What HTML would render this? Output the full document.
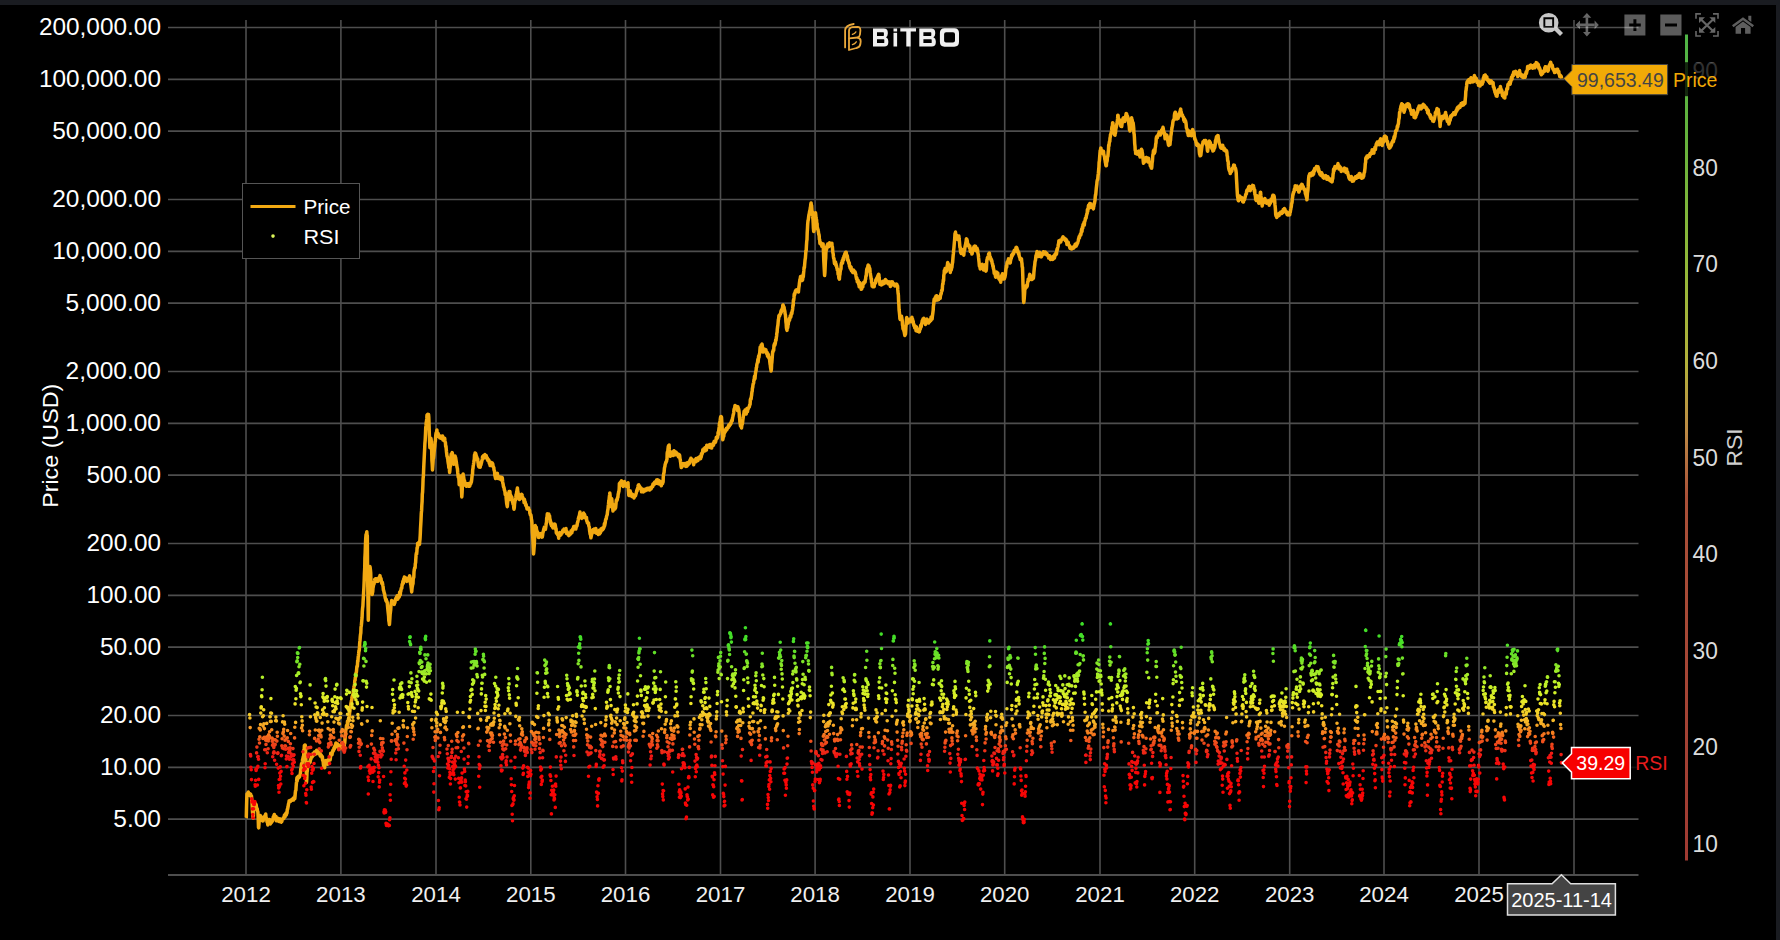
<!DOCTYPE html><html><head><meta charset="utf-8"><style>html,body{margin:0;padding:0;background:#000;width:1780px;height:940px;overflow:hidden}svg{display:block}text{font-family:"Liberation Sans",sans-serif}</style></head><body>
<svg width="1780" height="940" viewBox="0 0 1780 940">
<rect x="0" y="0" width="1780" height="940" fill="#000"/>
<rect x="0" y="0" width="1780" height="5" fill="#1a1c21"/>
<rect x="1776" y="0" width="4" height="940" fill="#1a1c21"/>
<path d="M168 27.5H1638.5 M168 79.3H1638.5 M168 131.1H1638.5 M168 199.5H1638.5 M168 251.3H1638.5 M168 303.1H1638.5 M168 371.5H1638.5 M168 423.3H1638.5 M168 475.1H1638.5 M168 543.5H1638.5 M168 595.3H1638.5 M168 647.1H1638.5 M168 715.5H1638.5 M168 767.3H1638.5 M168 819.1H1638.5" stroke="#4e4e4e" stroke-width="1.7" fill="none"/>
<path d="M246.0 20V875 M340.9 20V875 M436.0 20V875 M530.8 20V875 M625.5 20V875 M720.5 20V875 M815.1 20V875 M910.0 20V875 M1004.7 20V875 M1100.0 20V875 M1194.7 20V875 M1289.7 20V875 M1384.0 20V875 M1479.0 20V875 M1574.0 20V875" stroke="#4e4e4e" stroke-width="1.6" fill="none"/>
<path d="M168 875H1638.5" stroke="#4e4e4e" stroke-width="2" fill="none"/>
<polyline points="246.0,818.0 246.3,817.3 246.5,808.4 246.8,797.9 247.0,793.9 247.3,793.6 247.6,794.6 247.8,793.9 248.1,794.6 248.3,791.9 248.6,795.3 248.9,793.7 249.1,794.6 249.4,793.8 249.6,793.6 249.9,794.6 250.2,795.0 250.4,794.0 250.7,794.4 250.9,796.3 251.2,795.7 251.5,796.0 251.7,799.1 252.0,802.7 252.2,806.1 252.5,811.8 252.8,815.2 253.0,816.4 253.3,818.1 253.5,813.5 253.8,807.1 254.1,805.0 254.3,803.8 254.6,804.1 254.8,803.7 255.1,802.9 255.3,804.2 255.6,805.2 255.9,804.4 256.1,804.6 256.4,806.9 256.6,807.9 256.9,809.8 257.2,808.6 257.4,810.5 257.7,811.6 257.9,812.0 258.2,818.2 258.5,827.5 258.7,827.8 259.0,823.9 259.2,820.2 259.5,819.3 259.8,818.3 260.0,818.1 260.3,815.4 260.5,817.9 260.8,818.4 261.1,816.5 261.3,819.1 261.6,818.8 261.8,820.2 262.1,819.4 262.4,820.1 262.6,820.9 262.9,820.0 263.1,820.9 263.4,819.5 263.7,819.4 263.9,817.6 264.2,818.5 264.4,817.4 264.7,816.0 265.0,816.3 265.2,816.4 265.5,816.3 265.7,813.9 266.0,817.4 266.3,818.0 266.5,818.5 266.8,818.6 267.0,821.9 267.3,820.4 267.6,823.2 267.8,824.9 268.1,823.0 268.3,824.3 268.6,822.3 268.9,822.8 269.1,823.1 269.4,823.0 269.6,819.6 269.9,821.1 270.2,822.7 270.4,823.9 270.7,823.1 270.9,822.2 271.2,822.9 271.5,822.2 271.7,821.7 272.0,820.8 272.2,821.5 272.5,820.9 272.7,819.6 273.0,818.6 273.3,816.7 273.5,816.6 273.8,817.4 274.0,815.4 274.3,814.5 274.6,817.6 274.8,817.2 275.1,819.1 275.3,817.4 275.6,817.2 275.9,816.4 276.1,819.4 276.4,820.8 276.6,817.5 276.9,817.9 277.2,819.3 277.4,818.1 277.7,818.9 277.9,819.1 278.2,819.9 278.5,821.1 278.7,820.2 279.0,821.4 279.2,820.3 279.5,821.2 279.8,818.8 280.0,819.5 280.3,821.7 280.5,820.3 280.8,821.5 281.1,821.4 281.3,822.2 281.6,821.6 281.8,821.6 282.1,820.2 282.4,819.3 282.6,819.0 282.9,819.0 283.1,818.1 283.4,818.4 283.7,818.5 283.9,818.3 284.2,817.2 284.4,815.1 284.7,816.4 285.0,816.2 285.2,816.6 285.5,815.5 285.7,813.8 286.0,813.0 286.3,815.0 286.5,813.1 286.8,813.4 287.0,813.0 287.3,809.4 287.6,809.3 287.8,808.0 288.1,806.7 288.3,805.3 288.6,803.6 288.9,802.8 289.1,800.8 289.4,801.8 289.6,800.9 289.9,801.5 290.1,800.6 290.4,801.3 290.7,801.3 290.9,800.7 291.2,800.6 291.4,800.3 291.7,799.6 292.0,799.8 292.2,799.3 292.5,800.1 292.7,799.6 293.0,800.0 293.3,798.0 293.5,800.1 293.8,798.3 294.0,798.2 294.3,798.6 294.6,798.1 294.8,798.6 295.1,795.5 295.3,792.7 295.6,790.6 295.9,790.5 296.1,786.8 296.4,783.2 296.6,781.9 296.9,777.8 297.2,780.8 297.4,777.2 297.7,778.8 297.9,778.5 298.2,776.2 298.5,777.6 298.7,777.9 299.0,777.0 299.2,776.5 299.5,776.8 299.8,775.7 300.0,775.5 300.3,773.6 300.5,772.4 300.8,768.8 301.1,768.5 301.3,765.5 301.6,763.5 301.8,763.6 302.1,763.5 302.4,761.7 302.6,759.2 302.9,759.4 303.1,757.3 303.4,756.7 303.7,755.4 303.9,749.9 304.2,749.3 304.4,745.4 304.7,745.7 305.0,744.9 305.2,744.9 305.5,747.2 305.7,755.4 306.0,762.7 306.3,771.4 306.5,782.5 306.8,777.6 307.0,772.4 307.3,771.0 307.5,767.7 307.8,765.7 308.1,765.9 308.3,765.6 308.6,763.6 308.8,762.5 309.1,763.2 309.4,762.5 309.6,761.8 309.9,762.5 310.1,762.4 310.4,759.4 310.7,759.6 310.9,758.9 311.2,757.8 311.4,757.2 311.7,754.9 312.0,755.8 312.2,756.9 312.5,755.5 312.7,753.8 313.0,754.9 313.3,755.3 313.5,754.2 313.8,753.1 314.0,755.0 314.3,752.1 314.6,753.8 314.8,753.2 315.1,751.9 315.3,754.2 315.6,753.2 315.9,751.6 316.1,753.2 316.4,751.9 316.6,750.2 316.9,751.1 317.2,751.8 317.4,751.9 317.7,751.2 317.9,751.4 318.2,752.2 318.5,751.9 318.7,753.7 319.0,753.1 319.2,753.6 319.5,754.2 319.8,752.9 320.0,753.5 320.3,756.0 320.5,755.1 320.8,754.7 321.1,755.6 321.3,755.3 321.6,756.7 321.8,756.4 322.1,758.0 322.4,756.8 322.6,760.4 322.9,759.6 323.1,760.7 323.4,764.3 323.7,765.8 323.9,765.9 324.2,764.1 324.4,765.1 324.7,767.8 324.9,762.5 325.2,763.7 325.5,762.7 325.7,762.9 326.0,760.6 326.2,760.9 326.5,762.4 326.8,761.8 327.0,763.3 327.3,760.8 327.5,761.6 327.8,764.2 328.1,760.2 328.3,759.7 328.6,760.2 328.8,759.8 329.1,760.3 329.4,759.2 329.6,757.9 329.9,758.2 330.1,760.0 330.4,757.9 330.7,753.2 330.9,755.2 331.2,753.8 331.4,754.7 331.7,753.2 332.0,754.7 332.2,753.1 332.5,752.4 332.7,751.0 333.0,750.2 333.3,750.0 333.5,750.5 333.8,749.2 334.0,747.8 334.3,748.9 334.6,747.3 334.8,746.6 335.1,745.6 335.3,745.6 335.6,745.3 335.9,742.9 336.1,746.4 336.4,745.7 336.6,745.1 336.9,746.6 337.2,746.3 337.4,746.5 337.7,743.9 337.9,746.4 338.2,747.4 338.5,748.6 338.7,748.9 339.0,748.6 339.2,746.2 339.5,745.3 339.8,748.1 340.0,747.6 340.3,748.5 340.5,747.3 340.8,747.6 341.1,745.8 341.3,747.7 341.6,746.7 341.8,747.3 342.1,747.2 342.3,746.4 342.6,746.7 342.9,746.1 343.1,746.7 343.4,746.1 343.6,744.7 343.9,744.3 344.2,746.3 344.4,743.9 344.7,743.2 344.9,740.8 345.2,736.7 345.5,733.0 345.7,730.6 346.0,729.5 346.2,728.7 346.5,725.6 346.8,725.3 347.0,724.9 347.3,725.8 347.5,721.0 347.8,723.1 348.1,721.4 348.3,721.6 348.6,719.0 348.8,718.2 349.1,717.8 349.4,714.8 349.6,713.0 349.9,711.2 350.1,708.4 350.4,708.0 350.7,705.6 350.9,703.4 351.2,702.5 351.4,700.7 351.7,700.3 352.0,698.1 352.2,696.3 352.5,697.0 352.7,695.2 353.0,694.2 353.3,692.1 353.5,689.8 353.8,687.9 354.0,686.4 354.3,686.1 354.6,683.7 354.8,680.5 355.1,680.4 355.3,677.4 355.6,677.4 355.9,674.5 356.1,672.8 356.4,672.2 356.6,669.9 356.9,666.3 357.2,666.7 357.4,666.0 357.7,660.4 357.9,661.6 358.2,657.1 358.5,655.2 358.7,653.5 359.0,650.2 359.2,650.8 359.5,647.1 359.7,642.9 360.0,640.5 360.3,636.4 360.5,634.6 360.8,633.0 361.0,627.5 361.3,625.7 361.6,622.8 361.8,620.3 362.1,617.2 362.3,611.9 362.6,608.2 362.9,606.0 363.1,601.7 363.4,596.8 363.6,592.5 363.9,587.5 364.2,580.4 364.4,574.3 364.7,568.7 364.9,558.4 365.2,552.4 365.5,543.4 365.7,539.0 366.0,534.9 366.2,534.3 366.5,534.0 366.8,531.7 367.0,534.9 367.3,535.8 367.5,561.4 367.8,588.6 368.1,607.1 368.3,620.2 368.6,599.9 368.8,577.5 369.1,570.4 369.4,569.3 369.6,569.4 369.9,566.4 370.1,567.3 370.4,569.7 370.7,572.6 370.9,580.1 371.2,584.0 371.4,585.9 371.7,590.0 372.0,591.2 372.2,594.6 372.5,592.2 372.7,592.1 373.0,587.9 373.3,586.6 373.5,584.0 373.8,583.4 374.0,584.2 374.3,582.4 374.6,581.0 374.8,579.3 375.1,581.0 375.3,579.7 375.6,578.7 375.9,579.6 376.1,578.7 376.4,579.1 376.6,579.6 376.9,581.1 377.1,581.4 377.4,580.3 377.7,581.3 377.9,580.8 378.2,579.7 378.4,580.0 378.7,578.1 379.0,577.8 379.2,577.8 379.5,576.8 379.7,577.1 380.0,575.6 380.3,579.0 380.5,577.6 380.8,579.0 381.0,578.5 381.3,581.3 381.6,582.7 381.8,583.3 382.1,583.8 382.3,582.2 382.6,584.1 382.9,585.8 383.1,586.6 383.4,590.0 383.6,590.4 383.9,591.5 384.2,593.3 384.4,593.2 384.7,594.6 384.9,595.8 385.2,598.0 385.5,598.6 385.7,599.6 386.0,600.9 386.2,599.2 386.5,600.8 386.8,602.2 387.0,601.5 387.3,603.1 387.5,605.7 387.8,608.8 388.1,611.7 388.3,613.6 388.6,616.3 388.8,620.6 389.1,622.1 389.4,624.5 389.6,622.5 389.9,617.8 390.1,614.6 390.4,612.2 390.7,609.8 390.9,606.7 391.2,603.4 391.4,602.4 391.7,600.5 392.0,601.4 392.2,602.6 392.5,601.6 392.7,601.4 393.0,601.7 393.2,602.2 393.5,603.1 393.8,602.4 394.0,603.5 394.3,604.4 394.5,602.0 394.8,602.9 395.1,601.4 395.3,599.4 395.6,599.7 395.8,598.5 396.1,599.7 396.4,597.2 396.6,599.4 396.9,598.5 397.1,595.8 397.4,598.4 397.7,599.1 397.9,596.6 398.2,598.3 398.4,595.4 398.7,597.3 399.0,595.3 399.2,597.2 399.5,593.9 399.7,592.0 400.0,594.0 400.3,594.9 400.5,591.0 400.8,591.4 401.0,589.7 401.3,588.2 401.6,588.1 401.8,588.2 402.1,584.3 402.3,585.2 402.6,584.0 402.9,581.3 403.1,583.5 403.4,582.9 403.6,579.0 403.9,580.8 404.2,578.2 404.4,577.0 404.7,578.7 404.9,577.8 405.2,578.3 405.5,579.8 405.7,580.0 406.0,580.0 406.2,578.1 406.5,578.3 406.8,581.4 407.0,579.7 407.3,580.9 407.5,579.3 407.8,579.8 408.1,578.3 408.3,580.8 408.6,577.8 408.8,578.3 409.1,577.8 409.4,578.8 409.6,575.8 409.9,577.4 410.1,579.2 410.4,582.0 410.6,583.9 410.9,585.0 411.2,587.7 411.4,589.0 411.7,591.9 411.9,589.5 412.2,587.0 412.5,585.6 412.7,584.0 413.0,584.0 413.2,579.2 413.5,578.0 413.8,577.2 414.0,571.6 414.3,569.9 414.5,568.5 414.8,567.5 415.1,568.0 415.3,563.9 415.6,562.7 415.8,559.2 416.1,554.9 416.4,553.1 416.6,554.3 416.9,551.3 417.1,547.7 417.4,548.0 417.7,543.2 417.9,544.7 418.2,545.1 418.4,542.8 418.7,542.5 419.0,544.4 419.2,542.5 419.5,544.5 419.7,541.7 420.0,539.1 420.3,533.8 420.5,528.7 420.8,523.6 421.0,520.1 421.3,513.4 421.6,510.4 421.8,505.7 422.1,501.5 422.3,494.3 422.6,492.0 422.9,484.7 423.1,478.6 423.4,475.8 423.6,470.8 423.9,463.7 424.2,457.9 424.4,453.8 424.7,448.0 424.9,443.3 425.2,440.0 425.5,433.8 425.7,428.5 426.0,425.4 426.2,422.6 426.5,421.1 426.8,418.7 427.0,415.1 427.3,414.7 427.5,417.0 427.8,415.0 428.0,414.4 428.3,416.6 428.6,414.6 428.8,417.4 429.1,427.0 429.3,433.3 429.6,441.6 429.9,447.7 430.1,445.1 430.4,442.3 430.6,440.4 430.9,438.2 431.2,440.0 431.4,444.5 431.7,451.0 431.9,460.0 432.2,463.8 432.5,469.9 432.7,467.1 433.0,462.9 433.2,459.0 433.5,458.2 433.8,455.8 434.0,453.4 434.3,449.8 434.5,448.3 434.8,446.1 435.1,441.4 435.3,441.6 435.6,438.0 435.8,435.0 436.1,432.9 436.4,432.8 436.6,432.1 436.9,430.0 437.1,432.5 437.4,432.9 437.7,433.5 437.9,433.8 438.2,433.5 438.4,436.4 438.7,435.3 439.0,436.5 439.2,436.6 439.5,436.4 439.7,437.8 440.0,437.4 440.3,436.4 440.5,436.2 440.8,436.8 441.0,438.3 441.3,437.6 441.6,437.8 441.8,437.3 442.1,437.5 442.3,438.0 442.6,436.1 442.9,439.8 443.1,437.6 443.4,438.1 443.6,440.3 443.9,439.4 444.2,439.5 444.4,439.1 444.7,438.4 444.9,440.4 445.2,442.3 445.4,442.3 445.7,446.6 446.0,446.2 446.2,448.7 446.5,452.0 446.7,453.6 447.0,456.2 447.3,456.6 447.5,458.1 447.8,459.1 448.0,461.6 448.3,463.6 448.6,464.8 448.8,467.5 449.1,467.5 449.3,467.1 449.6,472.5 449.9,470.1 450.1,467.0 450.4,466.1 450.6,462.7 450.9,457.1 451.2,454.1 451.4,454.0 451.7,455.6 451.9,453.6 452.2,452.6 452.5,454.3 452.7,457.4 453.0,456.7 453.2,459.6 453.5,460.5 453.8,464.3 454.0,463.1 454.3,461.5 454.5,459.6 454.8,459.6 455.1,456.0 455.3,457.8 455.6,457.5 455.8,458.8 456.1,460.7 456.4,462.4 456.6,464.6 456.9,466.1 457.1,467.4 457.4,468.4 457.7,472.2 457.9,473.7 458.2,477.2 458.4,477.2 458.7,476.8 459.0,480.6 459.2,484.7 459.5,484.5 459.7,483.6 460.0,482.8 460.3,480.6 460.5,478.7 460.8,475.9 461.0,481.4 461.3,487.3 461.6,492.2 461.8,497.0 462.1,492.7 462.3,488.0 462.6,482.2 462.8,476.5 463.1,473.9 463.4,477.5 463.6,476.6 463.9,478.9 464.1,481.3 464.4,480.5 464.7,481.7 464.9,483.5 465.2,485.2 465.4,484.8 465.7,485.2 466.0,485.0 466.2,483.8 466.5,486.3 466.7,485.0 467.0,483.7 467.3,485.3 467.5,483.7 467.8,484.3 468.0,485.3 468.3,484.2 468.6,486.2 468.8,483.5 469.1,485.2 469.3,485.4 469.6,486.2 469.9,485.5 470.1,484.3 470.4,483.6 470.6,483.0 470.9,483.6 471.2,481.3 471.4,482.0 471.7,479.6 471.9,477.6 472.2,474.8 472.5,474.8 472.7,469.7 473.0,468.3 473.2,466.0 473.5,464.5 473.8,462.5 474.0,460.7 474.3,459.4 474.5,455.1 474.8,454.8 475.1,452.9 475.3,454.7 475.6,453.5 475.8,454.0 476.1,455.1 476.4,456.9 476.6,456.4 476.9,457.4 477.1,459.8 477.4,458.8 477.7,458.9 477.9,461.9 478.2,463.4 478.4,465.6 478.7,466.6 479.0,463.2 479.2,467.1 479.5,466.2 479.7,465.6 480.0,465.2 480.2,467.3 480.5,465.1 480.8,464.6 481.0,464.7 481.3,462.0 481.5,462.7 481.8,460.9 482.1,460.2 482.3,459.0 482.6,456.4 482.8,458.7 483.1,456.2 483.4,458.1 483.6,455.5 483.9,457.4 484.1,456.1 484.4,456.9 484.7,456.1 484.9,454.5 485.2,455.6 485.4,457.0 485.7,457.8 486.0,456.0 486.2,455.6 486.5,457.1 486.7,458.0 487.0,457.8 487.3,457.9 487.5,459.8 487.8,460.2 488.0,460.6 488.3,459.4 488.6,461.0 488.8,461.3 489.1,460.6 489.3,463.4 489.6,463.2 489.9,463.1 490.1,465.6 490.4,465.0 490.6,465.0 490.9,465.3 491.2,464.7 491.4,462.6 491.7,463.4 491.9,464.7 492.2,462.9 492.5,463.6 492.7,463.8 493.0,465.6 493.2,466.7 493.5,467.5 493.8,467.5 494.0,469.8 494.3,470.6 494.5,471.2 494.8,475.0 495.1,476.3 495.3,477.1 495.6,478.6 495.8,476.6 496.1,476.9 496.4,474.3 496.6,475.3 496.9,473.8 497.1,473.8 497.4,473.4 497.6,478.0 497.9,476.2 498.2,477.1 498.4,478.5 498.7,477.8 498.9,478.5 499.2,476.8 499.5,478.5 499.7,478.0 500.0,479.0 500.2,478.8 500.5,477.4 500.8,477.1 501.0,478.0 501.3,479.9 501.5,479.7 501.8,479.9 502.1,477.6 502.3,478.0 502.6,481.4 502.8,483.0 503.1,484.0 503.4,486.3 503.6,487.0 503.9,487.2 504.1,488.3 504.4,490.1 504.7,490.8 504.9,491.4 505.2,494.5 505.4,492.8 505.7,494.9 506.0,495.9 506.2,498.6 506.5,501.6 506.7,503.7 507.0,505.0 507.3,506.7 507.5,504.3 507.8,500.3 508.0,496.8 508.3,500.3 508.6,496.8 508.8,493.8 509.1,491.6 509.3,492.4 509.6,495.3 509.9,491.4 510.1,494.1 510.4,495.5 510.6,495.1 510.9,496.5 511.2,496.4 511.4,499.7 511.7,497.1 511.9,497.5 512.2,500.0 512.5,502.1 512.7,501.8 513.0,504.1 513.2,503.7 513.5,504.2 513.8,508.0 514.0,509.2 514.3,507.7 514.5,504.3 514.8,502.2 515.0,500.7 515.3,500.2 515.6,499.6 515.8,498.0 516.1,494.5 516.3,494.6 516.6,492.9 516.9,491.4 517.1,489.7 517.4,488.0 517.6,490.4 517.9,491.8 518.2,493.7 518.4,494.6 518.7,497.5 518.9,498.8 519.2,497.6 519.5,499.6 519.7,498.2 520.0,498.8 520.2,497.1 520.5,496.6 520.8,496.2 521.0,495.8 521.3,495.5 521.5,494.2 521.8,498.0 522.1,494.7 522.3,496.1 522.6,497.2 522.8,497.5 523.1,498.2 523.4,498.9 523.6,499.9 523.9,499.5 524.1,502.6 524.4,499.3 524.7,501.3 524.9,501.5 525.2,502.1 525.4,503.7 525.7,505.6 526.0,504.3 526.2,504.8 526.5,506.8 526.7,507.1 527.0,509.0 527.3,508.6 527.5,508.4 527.8,508.2 528.0,509.0 528.3,508.9 528.6,508.0 528.8,509.6 529.1,509.7 529.3,509.9 529.6,510.5 529.9,513.7 530.1,513.7 530.4,515.0 530.6,514.5 530.9,515.1 531.2,517.0 531.4,519.2 531.7,520.3 531.9,522.5 532.2,528.5 532.4,532.8 532.7,536.4 533.0,542.3 533.2,547.6 533.5,554.0 533.7,552.4 534.0,548.7 534.3,544.8 534.5,539.5 534.8,533.9 535.0,529.5 535.3,525.6 535.6,526.8 535.8,527.9 536.1,527.7 536.3,527.3 536.6,530.8 536.9,530.5 537.1,531.5 537.4,532.4 537.6,532.1 537.9,533.9 538.2,535.5 538.4,537.3 538.7,537.4 538.9,533.6 539.2,535.7 539.5,535.5 539.7,535.6 540.0,534.3 540.2,535.3 540.5,534.0 540.8,534.7 541.0,535.1 541.3,533.6 541.5,536.6 541.8,537.1 542.1,536.7 542.3,536.9 542.6,535.4 542.8,533.2 543.1,532.3 543.4,530.9 543.6,530.0 543.9,528.5 544.1,529.4 544.4,527.0 544.7,528.6 544.9,527.2 545.2,528.4 545.4,529.4 545.7,527.4 546.0,525.2 546.2,523.3 546.5,522.7 546.7,517.9 547.0,517.8 547.3,513.8 547.5,514.8 547.8,515.5 548.0,514.4 548.3,515.5 548.6,516.0 548.8,514.1 549.1,515.9 549.3,516.6 549.6,516.1 549.8,518.9 550.1,519.3 550.4,522.5 550.6,521.3 550.9,524.4 551.1,522.7 551.4,525.7 551.7,524.8 551.9,525.2 552.2,526.1 552.4,526.5 552.7,527.3 553.0,527.9 553.2,526.1 553.5,525.4 553.7,524.3 554.0,526.8 554.3,527.2 554.5,526.0 554.8,525.0 555.0,524.1 555.3,525.4 555.6,527.3 555.8,529.5 556.1,528.9 556.3,532.9 556.6,531.8 556.9,533.7 557.1,533.7 557.4,534.5 557.6,534.3 557.9,534.7 558.2,535.8 558.4,534.8 558.7,538.2 558.9,535.2 559.2,534.8 559.5,534.8 559.7,534.2 560.0,532.6 560.2,534.7 560.5,535.2 560.8,533.2 561.0,534.6 561.3,532.8 561.5,533.5 561.8,533.4 562.1,533.0 562.3,532.4 562.6,530.7 562.8,531.8 563.1,530.0 563.4,530.6 563.6,531.0 563.9,530.0 564.1,529.1 564.4,531.1 564.7,529.4 564.9,529.7 565.2,529.5 565.4,531.6 565.7,530.6 566.0,528.6 566.2,531.6 566.5,533.4 566.7,533.5 567.0,531.5 567.2,532.6 567.5,533.4 567.8,534.2 568.0,533.8 568.3,533.0 568.5,535.3 568.8,535.6 569.1,534.0 569.3,534.7 569.6,534.9 569.8,534.2 570.1,534.3 570.4,534.1 570.6,533.5 570.9,532.4 571.1,530.8 571.4,532.3 571.7,532.5 571.9,532.6 572.2,530.1 572.4,529.5 572.7,530.5 573.0,529.9 573.2,528.3 573.5,528.1 573.7,526.5 574.0,528.0 574.3,526.8 574.5,527.7 574.8,527.9 575.0,527.7 575.3,526.2 575.6,527.7 575.8,529.0 576.1,527.7 576.3,526.5 576.6,526.5 576.9,525.9 577.1,525.2 577.4,522.7 577.6,522.7 577.9,521.5 578.2,520.0 578.4,518.2 578.7,518.4 578.9,516.4 579.2,518.2 579.5,514.7 579.7,513.4 580.0,512.0 580.2,515.4 580.5,514.0 580.8,516.2 581.0,517.0 581.3,517.9 581.5,517.7 581.8,518.4 582.1,515.6 582.3,516.6 582.6,517.9 582.8,515.4 583.1,515.4 583.4,514.4 583.6,512.9 583.9,515.6 584.1,517.0 584.4,515.6 584.6,514.4 584.9,516.6 585.2,516.6 585.4,517.7 585.7,518.2 585.9,517.7 586.2,519.0 586.5,517.5 586.7,521.0 587.0,520.8 587.2,522.3 587.5,523.0 587.8,522.3 588.0,523.3 588.3,523.4 588.5,523.0 588.8,525.8 589.1,526.9 589.3,527.0 589.6,530.6 589.8,531.7 590.1,533.9 590.4,534.5 590.6,535.3 590.9,537.8 591.1,536.9 591.4,535.4 591.7,534.3 591.9,533.6 592.2,533.0 592.4,532.1 592.7,530.1 593.0,532.4 593.2,529.6 593.5,530.3 593.7,529.9 594.0,530.6 594.3,529.0 594.5,531.9 594.8,531.6 595.0,531.9 595.3,532.5 595.6,530.7 595.8,528.5 596.1,532.1 596.3,533.3 596.6,533.3 596.9,531.7 597.1,532.3 597.4,532.9 597.6,530.9 597.9,532.2 598.2,532.4 598.4,534.5 598.7,532.0 598.9,533.9 599.2,532.1 599.5,530.2 599.7,533.8 600.0,530.4 600.2,531.7 600.5,532.5 600.8,530.0 601.0,529.1 601.3,531.1 601.5,529.8 601.8,528.3 602.0,528.2 602.3,528.6 602.6,529.7 602.8,528.0 603.1,528.4 603.3,528.9 603.6,528.0 603.9,527.7 604.1,526.9 604.4,523.6 604.6,525.9 604.9,524.5 605.2,523.0 605.4,521.0 605.7,519.4 605.9,518.9 606.2,518.9 606.5,516.7 606.7,516.0 607.0,515.2 607.2,514.8 607.5,511.8 607.8,509.9 608.0,509.3 608.3,505.6 608.5,504.5 608.8,500.6 609.1,499.7 609.3,497.2 609.6,495.0 609.8,493.0 610.1,495.9 610.4,500.1 610.6,503.4 610.9,506.5 611.1,503.4 611.4,498.4 611.7,498.7 611.9,500.5 612.2,504.3 612.4,506.3 612.7,508.2 613.0,511.1 613.2,509.4 613.5,506.5 613.7,504.7 614.0,506.0 614.3,505.6 614.5,506.7 614.8,507.9 615.0,509.0 615.3,507.4 615.6,507.7 615.8,505.9 616.1,502.8 616.3,500.0 616.6,501.0 616.9,499.4 617.1,500.3 617.4,498.6 617.6,497.2 617.9,497.3 618.2,493.8 618.4,493.8 618.7,491.6 618.9,491.8 619.2,488.8 619.4,483.4 619.7,486.0 620.0,482.8 620.2,483.9 620.5,482.2 620.7,482.4 621.0,482.2 621.3,481.3 621.5,480.8 621.8,484.0 622.0,483.8 622.3,484.2 622.6,485.8 622.8,484.7 623.1,486.6 623.3,484.5 623.6,484.1 623.9,483.5 624.1,481.8 624.4,481.6 624.6,483.4 624.9,483.9 625.2,485.3 625.4,484.8 625.7,483.7 625.9,485.7 626.2,486.3 626.5,486.3 626.7,485.4 627.0,483.6 627.2,485.8 627.5,483.7 627.8,484.8 628.0,482.7 628.3,488.9 628.5,491.2 628.8,495.3 629.1,495.5 629.3,494.4 629.6,491.6 629.8,491.3 630.1,490.8 630.4,492.5 630.6,492.7 630.9,493.0 631.1,493.6 631.4,494.4 631.7,495.0 631.9,496.5 632.2,495.3 632.4,496.1 632.7,494.5 633.0,495.6 633.2,496.7 633.5,496.0 633.7,497.3 634.0,497.9 634.3,496.3 634.5,496.0 634.8,495.8 635.0,496.3 635.3,495.4 635.5,495.7 635.8,494.6 636.1,493.6 636.3,493.0 636.6,491.3 636.8,490.4 637.1,491.1 637.4,488.6 637.6,488.6 637.9,487.1 638.1,485.8 638.4,485.0 638.7,484.9 638.9,486.0 639.2,485.7 639.4,486.1 639.7,488.0 640.0,487.0 640.2,488.6 640.5,488.1 640.7,489.0 641.0,487.9 641.3,489.0 641.5,491.8 641.8,490.4 642.0,490.9 642.3,490.4 642.6,491.2 642.8,489.3 643.1,489.8 643.3,491.3 643.6,491.8 643.9,490.8 644.1,491.2 644.4,491.1 644.6,491.1 644.9,489.9 645.2,489.5 645.4,490.7 645.7,488.9 645.9,489.4 646.2,489.6 646.5,489.0 646.7,490.1 647.0,489.3 647.2,489.5 647.5,488.4 647.8,488.5 648.0,489.5 648.3,489.2 648.5,488.2 648.8,488.8 649.1,488.7 649.3,488.6 649.6,490.1 649.8,488.1 650.1,488.9 650.4,488.9 650.6,488.2 650.9,487.3 651.1,489.0 651.4,488.2 651.7,487.7 651.9,487.3 652.2,487.0 652.4,485.7 652.7,486.6 652.9,484.1 653.2,485.6 653.5,483.6 653.7,484.2 654.0,484.7 654.2,483.2 654.5,482.4 654.8,482.9 655.0,482.0 655.3,481.7 655.5,481.5 655.8,483.2 656.1,482.2 656.3,481.9 656.6,480.0 656.8,481.7 657.1,479.7 657.4,481.7 657.6,480.3 657.9,483.5 658.1,480.0 658.4,483.1 658.7,482.9 658.9,480.5 659.2,482.2 659.4,484.0 659.7,483.9 660.0,481.3 660.2,482.6 660.5,482.1 660.7,482.5 661.0,483.0 661.3,485.7 661.5,484.0 661.8,483.3 662.0,483.0 662.3,483.7 662.6,483.5 662.8,481.6 663.1,481.9 663.3,476.5 663.6,474.4 663.9,472.9 664.1,472.4 664.4,468.5 664.6,467.3 664.9,466.5 665.2,464.1 665.4,463.8 665.7,463.2 665.9,461.9 666.2,461.8 666.5,461.5 666.7,460.0 667.0,459.1 667.2,453.1 667.5,451.7 667.8,451.6 668.0,449.0 668.3,446.5 668.5,446.1 668.8,445.4 669.1,445.0 669.3,449.4 669.6,451.6 669.8,454.7 670.1,455.4 670.3,456.3 670.6,453.8 670.9,454.2 671.1,455.0 671.4,452.9 671.6,452.2 671.9,454.1 672.2,453.4 672.4,453.1 672.7,453.2 672.9,451.9 673.2,455.6 673.5,451.5 673.7,451.9 674.0,450.8 674.2,451.6 674.5,453.4 674.8,452.1 675.0,453.0 675.3,452.1 675.5,454.7 675.8,453.3 676.1,452.2 676.3,454.4 676.6,453.5 676.8,454.8 677.1,454.6 677.4,455.0 677.6,455.1 677.9,454.3 678.1,454.0 678.4,456.7 678.7,455.9 678.9,456.5 679.2,456.1 679.4,454.8 679.7,455.8 680.0,459.1 680.2,459.1 680.5,461.7 680.7,462.8 681.0,465.9 681.3,467.6 681.5,467.0 681.8,466.3 682.0,465.0 682.3,464.3 682.6,464.1 682.8,464.0 683.1,463.7 683.3,465.8 683.6,464.4 683.9,464.6 684.1,463.9 684.4,465.8 684.6,463.9 684.9,463.5 685.2,464.3 685.4,466.0 685.7,464.1 685.9,466.4 686.2,464.9 686.5,463.2 686.7,464.3 687.0,466.2 687.2,463.3 687.5,462.7 687.7,464.4 688.0,465.0 688.3,464.4 688.5,462.6 688.8,462.6 689.0,462.3 689.3,462.7 689.6,463.3 689.8,460.6 690.1,461.5 690.3,459.5 690.6,459.9 690.9,458.2 691.1,458.6 691.4,460.0 691.6,459.0 691.9,461.0 692.2,459.8 692.4,460.7 692.7,460.8 692.9,460.8 693.2,461.6 693.5,462.8 693.7,464.7 694.0,460.3 694.2,461.7 694.5,461.1 694.8,460.2 695.0,461.3 695.3,460.0 695.5,460.6 695.8,461.8 696.1,458.4 696.3,460.6 696.6,460.6 696.8,459.1 697.1,460.5 697.4,460.1 697.6,459.2 697.9,460.6 698.1,457.8 698.4,459.6 698.7,458.5 698.9,457.5 699.2,458.2 699.4,457.8 699.7,458.8 700.0,456.3 700.2,457.4 700.5,456.9 700.7,458.7 701.0,455.4 701.3,456.9 701.5,453.4 701.8,454.8 702.0,453.7 702.3,453.5 702.6,451.8 702.8,449.8 703.1,449.6 703.3,451.8 703.6,450.2 703.9,448.9 704.1,450.5 704.4,448.7 704.6,448.5 704.9,447.9 705.1,450.1 705.4,450.7 705.7,447.6 705.9,448.7 706.2,449.2 706.4,450.1 706.7,445.3 707.0,447.6 707.2,447.8 707.5,445.4 707.7,447.1 708.0,446.6 708.3,446.9 708.5,445.3 708.8,446.0 709.0,444.9 709.3,446.2 709.6,445.9 709.8,445.4 710.1,444.5 710.3,447.6 710.6,447.2 710.9,447.0 711.1,445.6 711.4,446.0 711.6,448.0 711.9,446.7 712.2,444.8 712.4,445.4 712.7,445.1 712.9,444.4 713.2,443.3 713.5,445.2 713.7,444.2 714.0,443.0 714.2,441.3 714.5,442.0 714.8,442.2 715.0,442.7 715.3,441.1 715.5,442.2 715.8,440.9 716.1,439.7 716.3,437.3 716.6,438.5 716.8,437.9 717.1,438.5 717.4,437.7 717.6,437.4 717.9,434.7 718.1,432.3 718.4,434.5 718.7,431.2 718.9,428.9 719.2,426.9 719.4,423.7 719.7,423.6 720.0,421.2 720.2,420.3 720.5,417.8 720.7,416.8 721.0,417.7 721.3,416.6 721.5,417.2 721.8,421.9 722.0,425.0 722.3,430.5 722.5,434.6 722.8,439.8 723.1,438.1 723.3,435.2 723.6,436.1 723.8,436.5 724.1,432.3 724.4,432.7 724.6,432.9 724.9,431.1 725.1,431.4 725.4,431.5 725.7,429.6 725.9,430.7 726.2,430.3 726.4,428.2 726.7,428.9 727.0,429.5 727.2,427.9 727.5,428.1 727.7,428.0 728.0,426.8 728.3,427.7 728.5,426.7 728.8,425.0 729.0,426.2 729.3,426.2 729.6,425.7 729.8,423.9 730.1,424.4 730.3,424.8 730.6,423.2 730.9,423.6 731.1,423.2 731.4,421.3 731.6,421.5 731.9,420.0 732.2,420.8 732.4,419.1 732.7,417.2 732.9,416.4 733.2,414.9 733.5,414.0 733.7,412.7 734.0,409.7 734.2,408.8 734.5,408.5 734.8,407.2 735.0,405.4 735.3,407.9 735.5,406.9 735.8,406.2 736.1,407.5 736.3,408.6 736.6,408.2 736.8,406.6 737.1,408.6 737.4,408.5 737.6,410.6 737.9,406.7 738.1,410.0 738.4,408.3 738.7,409.4 738.9,410.3 739.2,413.4 739.4,417.0 739.7,418.5 739.9,422.1 740.2,423.6 740.5,425.9 740.7,426.4 741.0,426.1 741.2,426.5 741.5,428.0 741.8,425.4 742.0,424.7 742.3,424.0 742.5,423.3 742.8,420.3 743.1,418.3 743.3,416.7 743.6,414.2 743.8,414.5 744.1,411.2 744.4,412.8 744.6,413.5 744.9,410.8 745.1,410.0 745.4,410.6 745.7,411.9 745.9,412.7 746.2,414.0 746.4,412.6 746.7,409.5 747.0,408.5 747.2,410.9 747.5,411.6 747.7,408.8 748.0,409.2 748.3,408.5 748.5,408.2 748.8,407.2 749.0,407.1 749.3,406.9 749.6,405.1 749.8,404.6 750.1,404.5 750.3,400.2 750.6,398.9 750.9,399.1 751.1,399.1 751.4,396.2 751.6,395.3 751.9,392.1 752.2,391.5 752.4,388.1 752.7,387.6 752.9,385.5 753.2,383.7 753.5,383.6 753.7,382.3 754.0,379.5 754.2,380.0 754.5,376.3 754.8,378.0 755.0,378.7 755.3,374.9 755.5,373.3 755.8,371.3 756.1,370.5 756.3,367.7 756.6,367.3 756.8,364.8 757.1,363.6 757.3,363.1 757.6,361.9 757.9,359.2 758.1,362.0 758.4,359.0 758.6,356.1 758.9,357.5 759.2,355.1 759.4,354.0 759.7,353.2 759.9,350.3 760.2,347.0 760.5,348.6 760.7,348.0 761.0,347.8 761.2,345.1 761.5,344.7 761.8,344.4 762.0,344.0 762.3,345.6 762.5,347.6 762.8,347.9 763.1,352.1 763.3,349.6 763.6,350.3 763.8,349.7 764.1,349.0 764.4,350.0 764.6,350.2 764.9,350.4 765.1,350.1 765.4,349.6 765.7,351.5 765.9,349.8 766.2,351.9 766.4,353.0 766.7,353.6 767.0,352.5 767.2,352.6 767.5,356.2 767.7,354.5 768.0,353.8 768.3,354.6 768.5,356.3 768.8,357.9 769.0,357.2 769.3,358.8 769.6,359.3 769.8,361.7 770.1,364.4 770.3,365.2 770.6,368.0 770.9,369.5 771.1,371.1 771.4,369.1 771.6,364.3 771.9,362.0 772.2,357.8 772.4,355.2 772.7,351.5 772.9,352.1 773.2,350.3 773.5,349.5 773.7,350.3 774.0,345.0 774.2,346.0 774.5,343.6 774.7,345.4 775.0,344.5 775.3,343.4 775.5,341.7 775.8,339.3 776.0,340.6 776.3,337.8 776.6,336.0 776.8,333.3 777.1,332.4 777.3,329.2 777.6,326.8 777.9,325.1 778.1,322.8 778.4,319.4 778.6,319.1 778.9,315.9 779.2,315.3 779.4,316.2 779.7,315.5 779.9,315.0 780.2,314.0 780.5,313.9 780.7,312.8 781.0,311.0 781.2,312.5 781.5,309.9 781.8,309.8 782.0,309.9 782.3,308.3 782.5,310.2 782.8,305.2 783.1,304.9 783.3,305.8 783.6,308.1 783.8,307.5 784.1,307.4 784.4,311.0 784.6,310.0 784.9,311.7 785.1,313.8 785.4,314.8 785.7,318.0 785.9,321.8 786.2,324.1 786.4,327.6 786.7,329.3 787.0,330.4 787.2,327.9 787.5,325.9 787.7,327.8 788.0,325.0 788.3,324.1 788.5,321.4 788.8,321.6 789.0,320.7 789.3,318.8 789.6,320.0 789.8,318.0 790.1,317.8 790.3,315.7 790.6,317.4 790.9,316.4 791.1,315.2 791.4,313.1 791.6,312.7 791.9,313.7 792.1,311.4 792.4,310.6 792.7,308.4 792.9,305.0 793.2,305.6 793.4,300.0 793.7,300.1 794.0,297.7 794.2,294.1 794.5,294.9 794.7,294.3 795.0,293.0 795.3,291.3 795.5,291.8 795.8,291.7 796.0,290.0 796.3,290.7 796.6,290.1 796.8,290.3 797.1,291.2 797.3,289.4 797.6,289.8 797.9,291.1 798.1,291.3 798.4,292.0 798.6,289.9 798.9,287.1 799.2,285.4 799.4,283.2 799.7,281.4 799.9,279.5 800.2,279.2 800.5,276.6 800.7,277.2 801.0,278.2 801.2,278.1 801.5,278.9 801.8,277.5 802.0,280.5 802.3,280.4 802.5,280.1 802.8,278.5 803.1,274.4 803.3,276.9 803.6,272.8 803.8,271.0 804.1,267.2 804.4,267.8 804.6,265.1 804.9,261.7 805.1,259.7 805.4,258.2 805.7,253.9 805.9,250.7 806.2,250.4 806.4,246.4 806.7,241.5 807.0,239.5 807.2,232.8 807.5,228.0 807.7,223.9 808.0,220.8 808.3,219.8 808.5,218.1 808.8,215.7 809.0,214.4 809.3,213.4 809.5,211.9 809.8,210.7 810.1,209.5 810.3,207.6 810.6,206.5 810.8,204.2 811.1,203.0 811.4,206.4 811.6,205.4 811.9,209.8 812.1,214.7 812.4,211.7 812.7,218.0 812.9,218.1 813.2,223.6 813.4,228.2 813.7,231.4 814.0,230.8 814.2,227.1 814.5,223.7 814.7,222.5 815.0,218.2 815.3,215.3 815.5,212.7 815.8,215.2 816.0,217.6 816.3,219.5 816.6,220.1 816.8,225.4 817.1,223.5 817.3,228.7 817.6,228.0 817.9,229.5 818.1,230.3 818.4,231.6 818.6,233.4 818.9,234.8 819.2,235.8 819.4,239.5 819.7,239.8 819.9,243.5 820.2,242.6 820.5,242.4 820.7,243.9 821.0,244.6 821.2,243.2 821.5,244.1 821.8,246.2 822.0,244.1 822.3,244.6 822.5,245.9 822.8,244.9 823.1,244.0 823.3,247.4 823.6,255.1 823.8,261.0 824.1,266.5 824.4,272.0 824.6,275.5 824.9,272.5 825.1,268.1 825.4,261.4 825.7,258.1 825.9,252.0 826.2,250.2 826.4,249.4 826.7,246.5 826.9,248.5 827.2,245.2 827.5,244.9 827.7,244.1 828.0,245.2 828.2,245.3 828.5,245.1 828.8,246.6 829.0,245.6 829.3,245.1 829.5,242.7 829.8,245.1 830.1,244.7 830.3,243.7 830.6,243.3 830.8,244.4 831.1,244.5 831.4,244.9 831.6,243.8 831.9,243.3 832.1,246.4 832.4,246.9 832.7,251.1 832.9,252.8 833.2,253.9 833.4,256.5 833.7,258.5 834.0,258.6 834.2,261.1 834.5,263.4 834.7,261.6 835.0,262.4 835.3,262.0 835.5,262.0 835.8,265.3 836.0,263.7 836.3,265.6 836.6,266.1 836.8,267.9 837.1,268.3 837.3,270.0 837.6,269.2 837.9,271.5 838.1,274.3 838.4,273.2 838.6,274.9 838.9,278.3 839.2,278.6 839.4,279.2 839.7,274.2 839.9,274.8 840.2,271.6 840.5,269.8 840.7,269.8 841.0,268.8 841.2,264.4 841.5,263.3 841.8,263.0 842.0,262.6 842.3,260.5 842.5,263.2 842.8,260.7 843.1,258.9 843.3,257.9 843.6,259.8 843.8,258.9 844.1,255.7 844.3,256.0 844.6,256.3 844.9,253.4 845.1,253.4 845.4,254.8 845.6,252.2 845.9,252.5 846.2,252.4 846.4,253.8 846.7,256.0 846.9,255.3 847.2,255.6 847.5,257.1 847.7,260.3 848.0,259.6 848.2,260.0 848.5,261.7 848.8,263.1 849.0,263.8 849.3,262.9 849.5,266.1 849.8,266.6 850.1,268.1 850.3,266.3 850.6,269.1 850.8,268.0 851.1,267.2 851.4,270.6 851.6,269.2 851.9,270.5 852.1,270.4 852.4,272.0 852.7,272.2 852.9,272.4 853.2,272.2 853.4,270.1 853.7,270.2 854.0,272.3 854.2,271.3 854.5,272.9 854.7,272.8 855.0,271.7 855.3,272.8 855.5,273.5 855.8,274.6 856.0,276.1 856.3,277.7 856.6,279.2 856.8,277.7 857.1,278.9 857.3,281.8 857.6,281.9 857.9,282.0 858.1,280.2 858.4,282.3 858.6,284.3 858.9,284.3 859.2,286.7 859.4,284.5 859.7,284.4 859.9,282.8 860.2,283.5 860.5,285.0 860.7,286.1 861.0,287.5 861.2,289.2 861.5,288.8 861.7,288.9 862.0,285.9 862.3,286.7 862.5,286.1 862.8,286.8 863.0,284.2 863.3,284.1 863.6,282.6 863.8,283.5 864.1,283.2 864.3,281.8 864.6,281.7 864.9,281.7 865.1,282.0 865.4,279.3 865.6,279.3 865.9,275.9 866.2,276.0 866.4,273.4 866.7,269.8 866.9,268.7 867.2,271.0 867.5,268.3 867.7,267.4 868.0,265.5 868.2,265.1 868.5,266.6 868.8,266.9 869.0,265.9 869.3,268.5 869.5,268.1 869.8,268.4 870.1,272.2 870.3,272.9 870.6,275.7 870.8,276.2 871.1,279.0 871.4,278.8 871.6,282.7 871.9,282.7 872.1,286.2 872.4,283.8 872.7,286.1 872.9,286.7 873.2,286.3 873.4,286.8 873.7,284.3 874.0,286.8 874.2,286.5 874.5,283.2 874.7,283.2 875.0,283.0 875.3,283.2 875.5,283.0 875.8,279.8 876.0,282.0 876.3,280.3 876.6,278.6 876.8,279.8 877.1,277.6 877.3,278.3 877.6,277.1 877.9,275.7 878.1,276.7 878.4,275.8 878.6,274.2 878.9,274.6 879.1,277.3 879.4,280.1 879.7,280.8 879.9,284.3 880.2,283.3 880.4,283.7 880.7,284.5 881.0,283.7 881.2,284.9 881.5,284.3 881.7,282.2 882.0,282.4 882.3,284.6 882.5,283.1 882.8,283.1 883.0,281.3 883.3,281.9 883.6,283.1 883.8,282.3 884.1,281.5 884.3,283.4 884.6,281.6 884.9,281.1 885.1,282.5 885.4,279.5 885.6,281.8 885.9,280.2 886.2,280.6 886.4,280.8 886.7,281.6 886.9,281.7 887.2,281.9 887.5,281.9 887.7,283.2 888.0,283.6 888.2,282.8 888.5,283.2 888.8,282.3 889.0,281.8 889.3,283.8 889.5,283.5 889.8,284.6 890.1,282.0 890.3,286.5 890.6,282.5 890.8,283.8 891.1,284.8 891.4,282.4 891.6,283.2 891.9,281.8 892.1,282.4 892.4,281.8 892.7,283.9 892.9,284.1 893.2,283.5 893.4,285.1 893.7,285.2 894.0,283.8 894.2,283.8 894.5,283.9 894.7,283.9 895.0,285.9 895.2,285.0 895.5,284.6 895.8,284.9 896.0,285.6 896.3,284.4 896.5,284.8 896.8,284.2 897.1,285.3 897.3,286.2 897.6,286.1 897.8,289.9 898.1,293.3 898.4,295.2 898.6,301.1 898.9,305.2 899.1,310.0 899.4,312.5 899.7,315.7 899.9,318.7 900.2,319.5 900.4,319.2 900.7,318.0 901.0,319.6 901.2,317.2 901.5,316.1 901.7,317.9 902.0,319.3 902.3,321.2 902.5,325.0 902.8,325.9 903.0,329.0 903.3,328.6 903.6,329.6 903.8,330.3 904.1,331.5 904.3,332.2 904.6,334.2 904.9,335.5 905.1,332.5 905.4,334.4 905.6,333.1 905.9,327.7 906.2,324.1 906.4,320.5 906.7,317.5 906.9,320.8 907.2,320.4 907.5,320.6 907.7,321.0 908.0,321.3 908.2,323.1 908.5,320.8 908.8,321.2 909.0,319.6 909.3,320.3 909.5,319.4 909.8,319.8 910.1,319.3 910.3,319.6 910.6,321.1 910.8,321.6 911.1,321.5 911.4,320.1 911.6,320.6 911.9,317.2 912.1,320.1 912.4,318.6 912.6,319.4 912.9,321.5 913.2,321.2 913.4,323.8 913.7,323.7 913.9,325.7 914.2,325.1 914.5,326.2 914.7,327.7 915.0,325.9 915.2,326.3 915.5,326.9 915.8,327.8 916.0,330.7 916.3,328.0 916.5,327.0 916.8,329.0 917.1,328.6 917.3,330.2 917.6,331.3 917.8,330.7 918.1,330.8 918.4,329.5 918.6,331.4 918.9,330.3 919.1,331.9 919.4,331.7 919.7,329.6 919.9,329.6 920.2,329.0 920.4,328.8 920.7,325.3 921.0,326.0 921.2,326.9 921.5,324.1 921.7,323.6 922.0,322.5 922.3,320.4 922.5,321.7 922.8,320.1 923.0,319.1 923.3,319.4 923.6,320.2 923.8,318.2 924.1,321.2 924.3,320.9 924.6,322.3 924.9,322.1 925.1,322.7 925.4,324.5 925.6,323.2 925.9,322.6 926.2,322.2 926.4,322.3 926.7,321.8 926.9,319.1 927.2,320.3 927.5,320.9 927.7,321.9 928.0,322.5 928.2,320.2 928.5,323.1 928.8,321.3 929.0,321.7 929.3,320.4 929.5,320.0 929.8,321.7 930.0,319.7 930.3,319.4 930.6,320.4 930.8,320.6 931.1,317.0 931.3,317.8 931.6,317.5 931.9,318.8 932.1,319.0 932.4,316.0 932.6,314.7 932.9,312.5 933.2,310.1 933.4,306.0 933.7,304.5 933.9,301.5 934.2,299.0 934.5,299.8 934.7,300.9 935.0,300.9 935.2,297.5 935.5,297.8 935.8,299.4 936.0,295.9 936.3,299.7 936.5,300.0 936.8,295.8 937.1,299.4 937.3,298.4 937.6,300.0 937.8,298.9 938.1,298.4 938.4,298.7 938.6,299.6 938.9,298.8 939.1,298.6 939.4,296.6 939.7,298.0 939.9,297.1 940.2,298.4 940.4,296.0 940.7,295.0 941.0,293.4 941.2,293.7 941.5,291.8 941.7,290.2 942.0,291.0 942.3,289.6 942.5,285.8 942.8,283.6 943.0,284.2 943.3,279.8 943.6,280.8 943.8,275.1 944.1,274.0 944.3,270.4 944.6,270.5 944.9,270.3 945.1,268.5 945.4,268.3 945.6,272.1 945.9,271.2 946.2,271.1 946.4,271.4 946.7,270.0 946.9,269.9 947.2,266.0 947.4,265.1 947.7,262.5 948.0,264.4 948.2,263.6 948.5,265.3 948.7,265.6 949.0,265.1 949.3,267.0 949.5,267.9 949.8,266.4 950.0,268.9 950.3,272.4 950.6,269.1 950.8,270.7 951.1,269.3 951.3,269.9 951.6,267.5 951.9,267.5 952.1,265.4 952.4,263.0 952.6,262.6 952.9,258.6 953.2,255.1 953.4,253.5 953.7,249.7 953.9,248.1 954.2,244.4 954.5,240.9 954.7,238.8 955.0,233.6 955.2,234.7 955.5,232.1 955.8,236.1 956.0,235.1 956.3,235.0 956.5,235.1 956.8,237.0 957.1,237.0 957.3,237.6 957.6,239.5 957.8,238.7 958.1,238.2 958.4,237.8 958.6,237.3 958.9,236.0 959.1,238.8 959.4,241.2 959.7,244.4 959.9,247.5 960.2,247.3 960.4,250.3 960.7,252.6 961.0,252.9 961.2,253.5 961.5,251.7 961.7,251.6 962.0,252.2 962.3,249.6 962.5,250.8 962.8,251.9 963.0,253.1 963.3,254.0 963.6,254.0 963.8,255.2 964.1,251.2 964.3,250.2 964.6,250.0 964.8,248.4 965.1,246.3 965.4,245.3 965.6,244.5 965.9,242.3 966.1,241.7 966.4,238.8 966.7,240.0 966.9,239.4 967.2,241.2 967.4,242.0 967.7,245.5 968.0,244.7 968.2,245.8 968.5,244.8 968.7,245.9 969.0,246.2 969.3,245.9 969.5,248.1 969.8,246.0 970.0,248.9 970.3,251.5 970.6,248.5 970.8,249.9 971.1,249.2 971.3,251.7 971.6,250.8 971.9,254.1 972.1,253.8 972.4,251.9 972.6,251.3 972.9,249.9 973.2,250.0 973.4,250.0 973.7,247.6 973.9,246.8 974.2,247.3 974.5,248.4 974.7,245.9 975.0,249.1 975.2,249.0 975.5,246.2 975.8,250.1 976.0,247.5 976.3,249.2 976.5,250.9 976.8,248.3 977.1,248.3 977.3,249.3 977.6,250.0 977.8,252.7 978.1,253.9 978.4,255.6 978.6,258.0 978.9,260.8 979.1,262.5 979.4,266.2 979.7,266.3 979.9,265.6 980.2,268.9 980.4,266.1 980.7,268.5 981.0,266.9 981.2,267.5 981.5,267.2 981.7,267.0 982.0,267.1 982.2,264.3 982.5,268.4 982.8,266.4 983.0,265.7 983.3,265.7 983.5,270.0 983.8,269.4 984.1,267.2 984.3,267.4 984.6,267.5 984.8,265.7 985.1,264.7 985.4,267.1 985.6,269.9 985.9,271.1 986.1,270.8 986.4,269.1 986.7,262.8 986.9,260.1 987.2,259.5 987.4,257.9 987.7,257.4 988.0,256.7 988.2,257.1 988.5,255.5 988.7,253.7 989.0,256.1 989.3,252.9 989.5,254.1 989.8,258.0 990.0,257.9 990.3,257.0 990.6,258.1 990.8,258.9 991.1,260.5 991.3,259.3 991.6,260.1 991.9,261.2 992.1,262.9 992.4,263.9 992.6,264.1 992.9,266.4 993.2,266.1 993.4,268.5 993.7,269.4 993.9,270.2 994.2,273.3 994.5,272.6 994.7,272.7 995.0,274.5 995.2,274.2 995.5,276.6 995.8,277.2 996.0,275.9 996.3,272.4 996.5,272.0 996.8,274.0 997.1,272.4 997.3,274.4 997.6,275.2 997.8,272.9 998.1,276.2 998.4,276.5 998.6,277.3 998.9,278.9 999.1,278.3 999.4,278.6 999.6,279.8 999.9,279.5 1000.2,281.0 1000.4,279.1 1000.7,282.2 1000.9,278.7 1001.2,278.5 1001.5,277.1 1001.7,275.6 1002.0,274.9 1002.2,275.2 1002.5,273.8 1002.8,275.3 1003.0,277.4 1003.3,275.5 1003.5,275.6 1003.8,279.0 1004.1,278.3 1004.3,278.8 1004.6,277.3 1004.8,277.5 1005.1,276.3 1005.4,274.5 1005.6,272.2 1005.9,269.1 1006.1,268.2 1006.4,265.7 1006.7,267.2 1006.9,263.5 1007.2,262.1 1007.4,262.1 1007.7,261.5 1008.0,261.7 1008.2,260.1 1008.5,258.9 1008.7,262.3 1009.0,260.4 1009.3,261.1 1009.5,261.3 1009.8,262.1 1010.0,263.0 1010.3,262.6 1010.6,259.6 1010.8,259.8 1011.1,257.6 1011.3,258.4 1011.6,255.1 1011.9,256.1 1012.1,256.3 1012.4,253.9 1012.6,255.0 1012.9,254.7 1013.2,253.0 1013.4,252.9 1013.7,253.4 1013.9,251.9 1014.2,250.5 1014.5,250.2 1014.7,250.6 1015.0,251.1 1015.2,250.3 1015.5,249.9 1015.8,250.4 1016.0,247.4 1016.3,247.9 1016.5,247.4 1016.8,250.9 1017.0,248.1 1017.3,250.8 1017.6,252.1 1017.8,250.5 1018.1,251.8 1018.3,252.7 1018.6,254.3 1018.9,252.8 1019.1,255.5 1019.4,256.7 1019.6,257.0 1019.9,257.8 1020.2,259.6 1020.4,258.7 1020.7,258.7 1020.9,258.5 1021.2,259.7 1021.5,258.9 1021.7,261.8 1022.0,263.5 1022.2,266.8 1022.5,267.2 1022.8,276.3 1023.0,284.9 1023.3,292.4 1023.5,300.1 1023.8,302.4 1024.1,299.7 1024.3,297.5 1024.6,293.1 1024.8,289.1 1025.1,287.6 1025.4,288.6 1025.6,286.4 1025.9,286.3 1026.1,285.8 1026.4,287.3 1026.7,287.2 1026.9,284.9 1027.2,286.3 1027.4,284.7 1027.7,281.7 1028.0,281.8 1028.2,279.1 1028.5,279.0 1028.7,280.4 1029.0,278.6 1029.3,277.7 1029.5,275.6 1029.8,274.4 1030.0,277.0 1030.3,275.6 1030.6,276.2 1030.8,275.9 1031.1,276.6 1031.3,279.4 1031.6,277.2 1031.9,277.7 1032.1,278.7 1032.4,279.3 1032.6,278.0 1032.9,277.2 1033.2,278.1 1033.4,278.3 1033.7,275.6 1033.9,272.4 1034.2,269.4 1034.4,267.1 1034.7,265.4 1035.0,261.9 1035.2,261.0 1035.5,260.1 1035.7,258.1 1036.0,255.5 1036.3,255.1 1036.5,254.0 1036.8,253.3 1037.0,251.5 1037.3,254.5 1037.6,254.0 1037.8,255.3 1038.1,256.5 1038.3,255.4 1038.6,254.9 1038.9,255.1 1039.1,255.4 1039.4,253.6 1039.6,252.2 1039.9,253.3 1040.2,255.1 1040.4,256.6 1040.7,255.6 1040.9,256.5 1041.2,256.9 1041.5,256.5 1041.7,255.2 1042.0,255.2 1042.2,255.3 1042.5,254.7 1042.8,254.1 1043.0,252.6 1043.3,252.5 1043.5,251.8 1043.8,253.0 1044.1,253.1 1044.3,252.3 1044.6,253.9 1044.8,252.4 1045.1,252.8 1045.4,252.1 1045.6,253.8 1045.9,253.3 1046.1,254.0 1046.4,254.6 1046.7,254.1 1046.9,253.4 1047.2,254.7 1047.4,254.9 1047.7,255.3 1048.0,256.2 1048.2,255.6 1048.5,255.8 1048.7,258.0 1049.0,257.5 1049.3,256.5 1049.5,255.8 1049.8,256.4 1050.0,257.3 1050.3,257.9 1050.6,259.6 1050.8,257.1 1051.1,257.6 1051.3,257.3 1051.6,257.8 1051.8,257.5 1052.1,257.0 1052.4,259.2 1052.6,258.4 1052.9,259.4 1053.1,257.5 1053.4,258.1 1053.7,258.4 1053.9,255.7 1054.2,256.2 1054.4,258.1 1054.7,256.9 1055.0,254.3 1055.2,254.7 1055.5,253.7 1055.7,253.5 1056.0,254.9 1056.3,252.1 1056.5,254.0 1056.8,250.8 1057.0,249.1 1057.3,250.0 1057.6,248.1 1057.8,247.3 1058.1,246.5 1058.3,244.4 1058.6,244.0 1058.9,240.7 1059.1,241.3 1059.4,242.2 1059.6,241.6 1059.9,241.8 1060.2,240.3 1060.4,241.5 1060.7,242.0 1060.9,240.3 1061.2,240.3 1061.5,239.8 1061.7,240.0 1062.0,239.2 1062.2,238.3 1062.5,238.8 1062.8,238.5 1063.0,236.7 1063.3,238.2 1063.5,237.9 1063.8,238.3 1064.1,237.9 1064.3,239.1 1064.6,239.5 1064.8,238.5 1065.1,239.8 1065.4,240.5 1065.6,240.7 1065.9,239.3 1066.1,239.5 1066.4,241.0 1066.7,240.5 1066.9,244.5 1067.2,241.7 1067.4,242.2 1067.7,244.2 1068.0,243.6 1068.2,242.2 1068.5,244.9 1068.7,244.6 1069.0,245.6 1069.2,245.1 1069.5,246.3 1069.8,247.6 1070.0,248.2 1070.3,247.8 1070.5,248.1 1070.8,247.9 1071.1,248.8 1071.3,248.4 1071.6,247.2 1071.8,249.0 1072.1,247.6 1072.4,248.6 1072.6,247.2 1072.9,248.3 1073.1,247.8 1073.4,247.8 1073.7,248.0 1073.9,247.8 1074.2,247.3 1074.4,247.2 1074.7,245.6 1075.0,246.6 1075.2,244.3 1075.5,244.0 1075.7,245.4 1076.0,244.9 1076.3,246.1 1076.5,244.8 1076.8,244.7 1077.0,242.8 1077.3,243.1 1077.6,243.3 1077.8,242.1 1078.1,241.4 1078.3,240.4 1078.6,238.7 1078.9,238.0 1079.1,236.8 1079.4,237.9 1079.6,236.5 1079.9,235.4 1080.2,235.7 1080.4,234.0 1080.7,234.8 1080.9,234.8 1081.2,232.5 1081.5,230.6 1081.7,228.9 1082.0,231.5 1082.2,229.2 1082.5,226.7 1082.8,228.1 1083.0,224.5 1083.3,225.0 1083.5,224.5 1083.8,223.6 1084.1,222.2 1084.3,225.0 1084.6,221.5 1084.8,221.5 1085.1,220.5 1085.4,218.2 1085.6,218.5 1085.9,218.2 1086.1,217.9 1086.4,215.6 1086.6,215.3 1086.9,213.6 1087.2,213.5 1087.4,209.5 1087.7,211.5 1087.9,209.3 1088.2,208.3 1088.5,205.3 1088.7,206.3 1089.0,207.1 1089.2,208.0 1089.5,204.3 1089.8,203.5 1090.0,204.4 1090.3,204.5 1090.5,203.8 1090.8,204.5 1091.1,204.6 1091.3,205.8 1091.6,206.3 1091.8,207.5 1092.1,206.9 1092.4,206.9 1092.6,206.7 1092.9,207.7 1093.1,206.1 1093.4,208.9 1093.7,206.0 1093.9,206.1 1094.2,202.9 1094.4,203.7 1094.7,202.0 1095.0,200.4 1095.2,197.6 1095.5,194.8 1095.7,194.9 1096.0,191.7 1096.3,188.3 1096.5,186.8 1096.8,184.3 1097.0,181.7 1097.3,180.1 1097.6,179.8 1097.8,178.6 1098.1,175.1 1098.3,174.0 1098.6,170.6 1098.9,167.2 1099.1,162.3 1099.4,160.9 1099.6,158.2 1099.9,154.2 1100.2,150.4 1100.4,151.7 1100.7,148.5 1100.9,148.0 1101.2,150.5 1101.5,150.5 1101.7,150.4 1102.0,150.7 1102.2,151.7 1102.5,153.0 1102.8,152.3 1103.0,152.6 1103.3,154.0 1103.5,151.3 1103.8,154.8 1104.0,154.9 1104.3,156.0 1104.6,157.0 1104.8,159.1 1105.1,160.4 1105.3,162.0 1105.6,163.3 1105.9,165.5 1106.1,165.7 1106.4,165.7 1106.6,161.4 1106.9,161.8 1107.2,160.5 1107.4,157.2 1107.7,156.5 1107.9,156.2 1108.2,152.4 1108.5,149.3 1108.7,144.9 1109.0,145.8 1109.2,143.2 1109.5,141.4 1109.8,141.5 1110.0,138.1 1110.3,136.9 1110.5,134.8 1110.8,134.1 1111.1,132.8 1111.3,132.3 1111.6,130.7 1111.8,127.8 1112.1,126.5 1112.4,126.8 1112.6,122.8 1112.9,123.0 1113.1,125.6 1113.4,126.7 1113.7,128.4 1113.9,131.6 1114.2,132.7 1114.4,134.4 1114.7,135.0 1115.0,135.1 1115.2,133.3 1115.5,132.9 1115.7,129.7 1116.0,128.4 1116.3,127.0 1116.5,126.2 1116.8,123.7 1117.0,123.7 1117.3,121.6 1117.6,118.7 1117.8,115.2 1118.1,115.4 1118.3,119.4 1118.6,118.7 1118.9,119.7 1119.1,119.9 1119.4,121.5 1119.6,120.0 1119.9,120.7 1120.2,121.8 1120.4,124.3 1120.7,125.7 1120.9,126.3 1121.2,126.4 1121.4,125.7 1121.7,126.5 1122.0,124.1 1122.2,123.0 1122.5,121.7 1122.7,120.0 1123.0,118.4 1123.3,118.3 1123.5,117.8 1123.8,119.6 1124.0,119.5 1124.3,120.9 1124.6,118.3 1124.8,121.5 1125.1,119.2 1125.3,118.1 1125.6,116.4 1125.9,115.3 1126.1,113.6 1126.4,115.0 1126.6,113.8 1126.9,115.5 1127.2,116.4 1127.4,115.9 1127.7,116.9 1127.9,117.6 1128.2,119.7 1128.5,120.7 1128.7,122.5 1129.0,124.9 1129.2,125.9 1129.5,129.8 1129.8,128.7 1130.0,131.0 1130.3,129.4 1130.5,125.0 1130.8,125.2 1131.1,122.8 1131.3,121.5 1131.6,117.7 1131.8,119.9 1132.1,119.7 1132.4,121.4 1132.6,124.2 1132.9,123.7 1133.1,122.6 1133.4,125.1 1133.7,128.1 1133.9,133.0 1134.2,134.4 1134.4,137.2 1134.7,143.6 1135.0,146.4 1135.2,150.2 1135.5,150.7 1135.7,153.6 1136.0,152.7 1136.3,151.4 1136.5,152.9 1136.8,153.5 1137.0,153.7 1137.3,154.1 1137.6,152.1 1137.8,151.7 1138.1,154.0 1138.3,151.3 1138.6,151.1 1138.8,152.5 1139.1,152.0 1139.4,154.5 1139.6,155.8 1139.9,155.0 1140.1,157.0 1140.4,154.7 1140.7,154.2 1140.9,152.2 1141.2,151.1 1141.4,149.3 1141.7,150.0 1142.0,150.4 1142.2,152.5 1142.5,153.7 1142.7,155.8 1143.0,158.4 1143.3,161.6 1143.5,163.2 1143.8,161.5 1144.0,161.7 1144.3,162.4 1144.6,159.9 1144.8,161.1 1145.1,158.7 1145.3,159.4 1145.6,157.8 1145.9,159.7 1146.1,157.6 1146.4,159.3 1146.6,159.0 1146.9,157.6 1147.2,158.5 1147.4,161.3 1147.7,160.9 1147.9,161.9 1148.2,161.1 1148.5,158.3 1148.7,161.8 1149.0,161.5 1149.2,162.1 1149.5,162.6 1149.8,162.8 1150.0,163.2 1150.3,165.9 1150.5,165.7 1150.8,165.2 1151.1,166.1 1151.3,168.1 1151.6,168.2 1151.8,167.0 1152.1,162.9 1152.4,161.1 1152.6,157.8 1152.9,154.5 1153.1,154.7 1153.4,150.8 1153.7,150.7 1153.9,150.1 1154.2,151.8 1154.4,153.2 1154.7,151.7 1154.9,152.0 1155.2,147.8 1155.5,146.6 1155.7,144.1 1156.0,142.8 1156.2,138.8 1156.5,136.9 1156.8,137.3 1157.0,136.4 1157.3,137.8 1157.5,136.5 1157.8,135.6 1158.1,134.9 1158.3,135.3 1158.6,133.8 1158.8,133.2 1159.1,132.1 1159.4,135.1 1159.6,134.3 1159.9,134.3 1160.1,133.5 1160.4,135.0 1160.7,132.2 1160.9,134.0 1161.2,131.4 1161.4,131.3 1161.7,130.0 1162.0,130.8 1162.2,129.9 1162.5,130.1 1162.7,128.6 1163.0,127.3 1163.3,128.7 1163.5,130.6 1163.8,131.4 1164.0,132.0 1164.3,133.8 1164.6,133.1 1164.8,135.9 1165.1,138.8 1165.3,138.6 1165.6,136.9 1165.9,138.3 1166.1,136.9 1166.4,137.5 1166.6,135.0 1166.9,135.5 1167.2,136.5 1167.4,138.2 1167.7,140.3 1167.9,141.5 1168.2,143.1 1168.5,145.1 1168.7,145.3 1169.0,142.7 1169.2,143.7 1169.5,143.6 1169.8,143.8 1170.0,144.5 1170.3,140.6 1170.5,140.3 1170.8,135.8 1171.1,134.6 1171.3,132.6 1171.6,130.7 1171.8,128.8 1172.1,127.5 1172.3,126.3 1172.6,124.9 1172.9,122.0 1173.1,121.0 1173.4,120.5 1173.6,120.1 1173.9,119.2 1174.2,119.7 1174.4,115.6 1174.7,113.4 1174.9,113.0 1175.2,112.2 1175.5,112.8 1175.7,112.7 1176.0,114.7 1176.2,115.9 1176.5,115.6 1176.8,116.6 1177.0,118.9 1177.3,115.3 1177.5,117.5 1177.8,116.9 1178.1,118.3 1178.3,117.4 1178.6,115.7 1178.8,116.9 1179.1,114.2 1179.4,115.8 1179.6,114.5 1179.9,111.8 1180.1,111.7 1180.4,110.1 1180.7,109.1 1180.9,111.8 1181.2,111.9 1181.4,113.1 1181.7,114.1 1182.0,115.1 1182.2,115.5 1182.5,115.1 1182.7,116.0 1183.0,116.9 1183.3,117.0 1183.5,117.5 1183.8,120.3 1184.0,119.5 1184.3,121.4 1184.6,119.1 1184.8,120.3 1185.1,120.3 1185.3,120.7 1185.6,121.2 1185.9,122.6 1186.1,123.9 1186.4,127.8 1186.6,128.4 1186.9,128.6 1187.2,129.8 1187.4,132.1 1187.7,133.0 1187.9,132.8 1188.2,135.4 1188.5,132.9 1188.7,133.6 1189.0,135.5 1189.2,131.0 1189.5,133.2 1189.7,134.3 1190.0,133.5 1190.3,133.3 1190.5,133.6 1190.8,132.8 1191.0,133.9 1191.3,135.7 1191.6,134.6 1191.8,134.1 1192.1,133.0 1192.3,132.4 1192.6,129.4 1192.9,130.9 1193.1,131.6 1193.4,132.4 1193.6,132.6 1193.9,132.1 1194.2,135.6 1194.4,136.6 1194.7,139.0 1194.9,138.2 1195.2,139.9 1195.5,140.2 1195.7,140.5 1196.0,142.6 1196.2,142.3 1196.5,144.9 1196.8,144.4 1197.0,143.3 1197.3,145.4 1197.5,145.1 1197.8,144.3 1198.1,144.4 1198.3,145.1 1198.6,144.9 1198.8,145.9 1199.1,148.6 1199.4,152.6 1199.6,154.4 1199.9,153.3 1200.1,155.8 1200.4,154.4 1200.7,155.5 1200.9,154.8 1201.2,152.0 1201.4,150.7 1201.7,148.1 1202.0,146.3 1202.2,145.0 1202.5,144.1 1202.7,144.4 1203.0,141.8 1203.3,143.0 1203.5,142.0 1203.8,141.3 1204.0,142.3 1204.3,140.6 1204.6,142.5 1204.8,141.0 1205.1,140.6 1205.3,142.5 1205.6,140.4 1205.9,140.9 1206.1,142.1 1206.4,143.8 1206.6,145.1 1206.9,145.0 1207.1,147.1 1207.4,150.5 1207.7,151.2 1207.9,148.2 1208.2,147.9 1208.4,146.2 1208.7,145.5 1209.0,142.2 1209.2,142.8 1209.5,141.1 1209.7,143.6 1210.0,143.7 1210.3,142.5 1210.5,143.9 1210.8,145.2 1211.0,146.6 1211.3,144.9 1211.6,146.5 1211.8,148.3 1212.1,148.9 1212.3,148.1 1212.6,148.9 1212.9,150.9 1213.1,150.0 1213.4,150.5 1213.6,150.4 1213.9,148.7 1214.2,145.3 1214.4,148.3 1214.7,147.5 1214.9,146.6 1215.2,144.5 1215.5,140.4 1215.7,141.9 1216.0,139.3 1216.2,138.3 1216.5,136.7 1216.8,136.4 1217.0,136.2 1217.3,137.8 1217.5,136.3 1217.8,135.6 1218.1,135.7 1218.3,138.6 1218.6,139.3 1218.8,140.6 1219.1,142.6 1219.4,143.5 1219.6,143.8 1219.9,144.8 1220.1,145.4 1220.4,146.8 1220.7,147.6 1220.9,147.5 1221.2,146.5 1221.4,148.2 1221.7,148.2 1222.0,146.3 1222.2,147.7 1222.5,146.9 1222.7,145.2 1223.0,147.7 1223.3,149.0 1223.5,147.7 1223.8,148.0 1224.0,150.1 1224.3,148.3 1224.5,148.8 1224.8,149.7 1225.1,150.8 1225.3,150.9 1225.6,150.0 1225.8,150.4 1226.1,150.9 1226.4,150.6 1226.6,151.0 1226.9,152.3 1227.1,155.7 1227.4,156.3 1227.7,160.9 1227.9,160.7 1228.2,162.0 1228.4,165.4 1228.7,168.4 1229.0,169.7 1229.2,170.3 1229.5,170.8 1229.7,170.7 1230.0,172.0 1230.3,173.6 1230.5,170.7 1230.8,170.6 1231.0,171.5 1231.3,171.8 1231.6,171.2 1231.8,171.0 1232.1,169.1 1232.3,168.3 1232.6,168.5 1232.9,167.9 1233.1,168.3 1233.4,168.1 1233.6,165.0 1233.9,167.8 1234.2,166.5 1234.4,165.3 1234.7,168.0 1234.9,168.0 1235.2,168.5 1235.5,168.4 1235.7,169.4 1236.0,170.9 1236.2,172.6 1236.5,179.0 1236.8,184.0 1237.0,188.0 1237.3,192.8 1237.5,195.9 1237.8,197.6 1238.1,199.8 1238.3,200.4 1238.6,200.7 1238.8,199.4 1239.1,198.2 1239.4,198.4 1239.6,195.9 1239.9,196.2 1240.1,197.0 1240.4,197.7 1240.7,197.7 1240.9,198.1 1241.2,197.5 1241.4,198.4 1241.7,199.6 1241.9,197.8 1242.2,198.6 1242.5,199.6 1242.7,201.6 1243.0,201.0 1243.2,202.1 1243.5,202.0 1243.8,200.4 1244.0,200.1 1244.3,198.1 1244.5,199.6 1244.8,198.2 1245.1,197.2 1245.3,196.4 1245.6,195.3 1245.8,194.3 1246.1,193.7 1246.4,193.9 1246.6,191.2 1246.9,190.3 1247.1,190.6 1247.4,191.1 1247.7,189.6 1247.9,189.0 1248.2,189.8 1248.4,188.9 1248.7,186.8 1249.0,187.5 1249.2,186.2 1249.5,187.9 1249.7,187.8 1250.0,188.9 1250.3,190.7 1250.5,188.2 1250.8,189.0 1251.0,188.8 1251.3,186.5 1251.6,188.3 1251.8,187.8 1252.1,188.2 1252.3,186.5 1252.6,185.4 1252.9,186.7 1253.1,185.6 1253.4,185.7 1253.6,186.7 1253.9,188.0 1254.2,190.0 1254.4,191.5 1254.7,189.9 1254.9,194.3 1255.2,195.0 1255.5,197.2 1255.7,199.6 1256.0,199.6 1256.2,200.6 1256.5,197.4 1256.8,197.2 1257.0,195.8 1257.3,197.3 1257.5,196.5 1257.8,197.0 1258.1,198.2 1258.3,198.6 1258.6,202.2 1258.8,203.3 1259.1,203.1 1259.3,200.3 1259.6,198.2 1259.9,196.6 1260.1,196.2 1260.4,192.2 1260.6,192.2 1260.9,196.0 1261.2,197.5 1261.4,200.6 1261.7,201.6 1261.9,203.9 1262.2,205.9 1262.5,204.5 1262.7,203.5 1263.0,201.9 1263.2,200.2 1263.5,202.5 1263.8,200.2 1264.0,199.7 1264.3,201.1 1264.5,199.2 1264.8,198.6 1265.1,199.2 1265.3,200.1 1265.6,201.0 1265.8,201.8 1266.1,202.8 1266.4,202.2 1266.6,203.2 1266.9,202.3 1267.1,201.5 1267.4,202.1 1267.7,201.7 1267.9,202.8 1268.2,201.5 1268.4,200.9 1268.7,202.9 1269.0,202.7 1269.2,205.2 1269.5,202.6 1269.7,204.1 1270.0,203.4 1270.3,203.4 1270.5,202.5 1270.8,200.3 1271.0,199.4 1271.3,200.7 1271.6,201.3 1271.8,200.5 1272.1,198.0 1272.3,198.2 1272.6,196.2 1272.9,195.2 1273.1,197.7 1273.4,197.0 1273.6,195.8 1273.9,195.6 1274.2,196.7 1274.4,198.4 1274.7,200.7 1274.9,204.2 1275.2,206.7 1275.5,210.5 1275.7,214.3 1276.0,216.0 1276.2,214.8 1276.5,214.3 1276.7,217.4 1277.0,217.1 1277.3,216.4 1277.5,215.7 1277.8,215.9 1278.0,214.1 1278.3,215.4 1278.6,215.6 1278.8,215.0 1279.1,215.5 1279.3,214.2 1279.6,214.8 1279.9,212.8 1280.1,214.1 1280.4,213.3 1280.6,212.3 1280.9,212.9 1281.2,213.1 1281.4,212.2 1281.7,213.5 1281.9,211.6 1282.2,212.9 1282.5,212.4 1282.7,210.9 1283.0,212.6 1283.2,209.6 1283.5,211.2 1283.8,210.6 1284.0,211.1 1284.3,208.6 1284.5,208.8 1284.8,209.0 1285.1,210.4 1285.3,211.0 1285.6,211.5 1285.8,211.7 1286.1,211.8 1286.4,211.6 1286.6,212.7 1286.9,213.8 1287.1,214.5 1287.4,213.2 1287.7,214.9 1287.9,212.7 1288.2,214.9 1288.4,213.2 1288.7,214.7 1289.0,213.7 1289.2,213.8 1289.5,214.1 1289.7,214.9 1290.0,211.8 1290.3,212.0 1290.5,210.4 1290.8,209.1 1291.0,207.7 1291.3,206.7 1291.6,203.5 1291.8,203.3 1292.1,201.8 1292.3,198.7 1292.6,197.6 1292.9,194.1 1293.1,194.7 1293.4,192.4 1293.6,192.0 1293.9,192.1 1294.1,191.5 1294.4,189.0 1294.7,188.6 1294.9,189.9 1295.2,185.7 1295.4,189.5 1295.7,189.1 1296.0,186.6 1296.2,189.0 1296.5,188.4 1296.7,188.6 1297.0,186.1 1297.3,188.0 1297.5,188.7 1297.8,189.2 1298.0,189.9 1298.3,190.6 1298.6,188.8 1298.8,192.1 1299.1,191.7 1299.3,191.2 1299.6,189.8 1299.9,189.2 1300.1,188.4 1300.4,188.8 1300.6,185.7 1300.9,188.0 1301.2,185.9 1301.4,185.1 1301.7,184.4 1301.9,186.5 1302.2,184.4 1302.5,187.1 1302.7,186.9 1303.0,186.4 1303.2,186.6 1303.5,188.1 1303.8,188.3 1304.0,189.4 1304.3,189.2 1304.5,189.2 1304.8,190.7 1305.1,189.8 1305.3,193.4 1305.6,194.2 1305.8,194.6 1306.1,195.9 1306.4,197.1 1306.6,196.1 1306.9,199.8 1307.1,198.2 1307.4,193.3 1307.7,191.4 1307.9,190.3 1308.2,186.2 1308.4,181.9 1308.7,177.9 1309.0,175.5 1309.2,176.6 1309.5,175.6 1309.7,173.8 1310.0,175.6 1310.3,174.4 1310.5,173.9 1310.8,173.9 1311.0,173.8 1311.3,175.7 1311.5,172.9 1311.8,173.3 1312.1,174.8 1312.3,174.8 1312.6,172.2 1312.8,175.0 1313.1,173.9 1313.4,171.1 1313.6,174.1 1313.9,170.4 1314.1,172.0 1314.4,169.7 1314.7,168.5 1314.9,170.6 1315.2,169.7 1315.4,168.9 1315.7,168.8 1316.0,168.1 1316.2,167.6 1316.5,166.5 1316.7,168.1 1317.0,167.7 1317.3,167.6 1317.5,167.4 1317.8,167.9 1318.0,166.8 1318.3,168.4 1318.6,168.7 1318.8,171.8 1319.1,170.5 1319.3,171.8 1319.6,173.2 1319.9,174.2 1320.1,173.7 1320.4,173.0 1320.6,175.0 1320.9,172.6 1321.2,172.8 1321.4,175.7 1321.7,172.8 1321.9,175.4 1322.2,175.6 1322.5,174.5 1322.7,175.9 1323.0,177.5 1323.2,175.4 1323.5,176.8 1323.8,178.1 1324.0,177.1 1324.3,177.7 1324.5,176.4 1324.8,176.1 1325.1,175.8 1325.3,175.7 1325.6,176.3 1325.8,175.7 1326.1,177.9 1326.4,176.9 1326.6,176.9 1326.9,179.2 1327.1,177.2 1327.4,176.8 1327.7,177.9 1327.9,176.8 1328.2,178.6 1328.4,179.6 1328.7,179.1 1328.9,178.2 1329.2,178.6 1329.5,179.4 1329.7,180.3 1330.0,178.9 1330.2,179.1 1330.5,180.9 1330.8,180.3 1331.0,180.8 1331.3,181.3 1331.5,180.4 1331.8,181.3 1332.1,181.8 1332.3,179.8 1332.6,179.0 1332.8,178.1 1333.1,174.0 1333.4,172.8 1333.6,169.0 1333.9,169.4 1334.1,170.7 1334.4,168.4 1334.7,168.5 1334.9,166.5 1335.2,168.8 1335.4,168.5 1335.7,168.3 1336.0,167.1 1336.2,167.5 1336.5,166.9 1336.7,167.7 1337.0,166.6 1337.3,167.3 1337.5,165.1 1337.8,166.1 1338.0,163.6 1338.3,166.3 1338.6,167.2 1338.8,166.2 1339.1,169.0 1339.3,166.0 1339.6,167.0 1339.9,166.8 1340.1,167.5 1340.4,167.9 1340.6,167.3 1340.9,168.1 1341.2,171.4 1341.4,169.5 1341.7,171.0 1341.9,169.1 1342.2,170.1 1342.5,170.6 1342.7,169.7 1343.0,169.2 1343.2,169.3 1343.5,169.5 1343.8,170.5 1344.0,171.0 1344.3,168.7 1344.5,168.1 1344.8,170.1 1345.1,170.4 1345.3,171.1 1345.6,171.5 1345.8,169.7 1346.1,172.5 1346.3,170.7 1346.6,168.9 1346.9,172.4 1347.1,172.4 1347.4,173.1 1347.6,172.0 1347.9,173.9 1348.2,175.0 1348.4,175.2 1348.7,176.6 1348.9,177.6 1349.2,178.4 1349.5,178.7 1349.7,177.5 1350.0,179.5 1350.2,178.3 1350.5,179.0 1350.8,178.1 1351.0,177.1 1351.3,176.6 1351.5,179.4 1351.8,178.9 1352.1,179.9 1352.3,181.2 1352.6,179.0 1352.8,178.8 1353.1,180.8 1353.4,180.9 1353.6,180.2 1353.9,180.0 1354.1,178.5 1354.4,179.3 1354.7,177.9 1354.9,178.3 1355.2,178.4 1355.4,176.8 1355.7,177.6 1356.0,177.1 1356.2,177.5 1356.5,178.1 1356.7,177.1 1357.0,177.0 1357.3,176.9 1357.5,175.5 1357.8,175.7 1358.0,175.9 1358.3,176.6 1358.6,176.5 1358.8,177.3 1359.1,173.7 1359.3,174.9 1359.6,173.4 1359.9,174.8 1360.1,173.8 1360.4,176.8 1360.6,176.6 1360.9,174.9 1361.2,176.5 1361.4,177.1 1361.7,178.2 1361.9,177.5 1362.2,177.0 1362.5,176.9 1362.7,177.8 1363.0,177.7 1363.2,177.1 1363.5,175.5 1363.7,176.4 1364.0,173.4 1364.3,172.6 1364.5,172.3 1364.8,169.8 1365.0,168.3 1365.3,163.5 1365.6,162.7 1365.8,158.2 1366.1,157.6 1366.3,157.6 1366.6,158.3 1366.9,157.1 1367.1,155.9 1367.4,158.0 1367.6,155.7 1367.9,156.4 1368.2,156.5 1368.4,155.6 1368.7,156.3 1368.9,156.4 1369.2,155.5 1369.5,156.5 1369.7,154.5 1370.0,153.7 1370.2,154.7 1370.5,153.2 1370.8,154.2 1371.0,153.3 1371.3,152.6 1371.5,153.4 1371.8,153.2 1372.1,149.8 1372.3,152.4 1372.6,152.8 1372.8,153.2 1373.1,152.2 1373.4,151.6 1373.6,152.8 1373.9,153.0 1374.1,149.6 1374.4,149.6 1374.7,149.9 1374.9,147.3 1375.2,148.7 1375.4,149.5 1375.7,146.5 1376.0,146.4 1376.2,144.1 1376.5,144.1 1376.7,143.1 1377.0,143.0 1377.3,142.0 1377.5,143.2 1377.8,142.8 1378.0,142.1 1378.3,144.3 1378.6,142.3 1378.8,142.8 1379.1,144.7 1379.3,142.8 1379.6,140.7 1379.9,141.5 1380.1,140.3 1380.4,140.4 1380.6,138.8 1380.9,141.0 1381.1,139.7 1381.4,142.2 1381.7,142.7 1381.9,143.7 1382.2,145.6 1382.4,142.2 1382.7,143.2 1383.0,142.3 1383.2,141.6 1383.5,141.9 1383.7,139.6 1384.0,138.2 1384.3,136.5 1384.5,136.9 1384.8,137.1 1385.0,137.4 1385.3,136.1 1385.6,137.4 1385.8,138.1 1386.1,137.8 1386.3,137.2 1386.6,140.3 1386.9,141.3 1387.1,141.8 1387.4,141.3 1387.6,142.1 1387.9,144.7 1388.2,144.6 1388.4,144.6 1388.7,147.1 1388.9,147.3 1389.2,147.2 1389.5,148.1 1389.7,147.9 1390.0,145.8 1390.2,147.5 1390.5,145.9 1390.8,145.6 1391.0,146.1 1391.3,144.4 1391.5,144.9 1391.8,143.0 1392.1,142.3 1392.3,141.8 1392.6,142.2 1392.8,140.4 1393.1,141.9 1393.4,141.6 1393.6,140.6 1393.9,137.8 1394.1,136.7 1394.4,138.5 1394.7,135.7 1394.9,136.9 1395.2,133.7 1395.4,133.8 1395.7,130.9 1396.0,130.7 1396.2,130.1 1396.5,129.9 1396.7,130.4 1397.0,129.2 1397.3,126.2 1397.5,127.2 1397.8,126.5 1398.0,124.8 1398.3,124.1 1398.5,123.1 1398.8,119.1 1399.1,118.7 1399.3,116.8 1399.6,112.2 1399.8,112.8 1400.1,111.0 1400.4,108.5 1400.6,108.9 1400.9,106.3 1401.1,106.1 1401.4,105.0 1401.7,103.8 1401.9,105.1 1402.2,105.0 1402.4,104.9 1402.7,104.5 1403.0,106.1 1403.2,107.0 1403.5,110.7 1403.7,108.9 1404.0,112.2 1404.3,111.2 1404.5,109.2 1404.8,109.9 1405.0,107.1 1405.3,107.8 1405.6,105.4 1405.8,105.7 1406.1,105.1 1406.3,105.7 1406.6,105.9 1406.9,104.3 1407.1,104.6 1407.4,106.2 1407.6,103.8 1407.9,106.5 1408.2,104.7 1408.4,104.8 1408.7,104.1 1408.9,105.3 1409.2,104.7 1409.5,106.2 1409.7,108.2 1410.0,108.4 1410.2,108.9 1410.5,109.6 1410.8,110.9 1411.0,111.1 1411.3,111.1 1411.5,114.2 1411.8,112.3 1412.1,111.0 1412.3,112.4 1412.6,113.1 1412.8,110.7 1413.1,111.1 1413.4,110.6 1413.6,110.9 1413.9,114.6 1414.1,117.3 1414.4,113.8 1414.6,113.6 1414.9,117.4 1415.2,117.7 1415.4,116.7 1415.7,117.2 1415.9,114.8 1416.2,114.9 1416.5,114.9 1416.7,113.3 1417.0,113.5 1417.2,112.2 1417.5,112.2 1417.8,111.3 1418.0,108.4 1418.3,109.8 1418.5,107.6 1418.8,107.5 1419.1,106.0 1419.3,107.8 1419.6,106.9 1419.8,107.0 1420.1,108.8 1420.4,108.4 1420.6,107.7 1420.9,106.0 1421.1,108.9 1421.4,108.1 1421.7,107.5 1421.9,108.1 1422.2,106.2 1422.4,106.3 1422.7,106.7 1423.0,105.9 1423.2,104.2 1423.5,105.8 1423.7,105.8 1424.0,106.9 1424.3,105.3 1424.5,105.9 1424.8,107.1 1425.0,106.8 1425.3,106.9 1425.6,107.0 1425.8,107.3 1426.1,107.5 1426.3,108.0 1426.6,109.6 1426.9,109.4 1427.1,108.8 1427.4,110.8 1427.6,112.9 1427.9,113.1 1428.2,110.3 1428.4,111.9 1428.7,114.1 1428.9,113.9 1429.2,114.4 1429.5,114.7 1429.7,115.4 1430.0,114.6 1430.2,117.2 1430.5,115.3 1430.8,116.6 1431.0,118.6 1431.3,118.5 1431.5,117.7 1431.8,118.1 1432.0,117.9 1432.3,118.4 1432.6,119.1 1432.8,121.0 1433.1,119.7 1433.3,121.1 1433.6,121.3 1433.9,120.4 1434.1,118.8 1434.4,118.9 1434.6,117.4 1434.9,116.4 1435.2,115.0 1435.4,112.4 1435.7,114.4 1435.9,113.6 1436.2,111.5 1436.5,111.0 1436.7,110.6 1437.0,108.5 1437.2,109.3 1437.5,109.7 1437.8,110.7 1438.0,111.5 1438.3,109.5 1438.5,112.7 1438.8,113.0 1439.1,116.6 1439.3,118.6 1439.6,120.4 1439.8,121.5 1440.1,126.4 1440.4,122.3 1440.6,120.0 1440.9,120.8 1441.1,117.1 1441.4,119.1 1441.7,117.9 1441.9,118.3 1442.2,118.2 1442.4,117.8 1442.7,116.3 1443.0,117.2 1443.2,118.5 1443.5,117.9 1443.7,118.0 1444.0,116.5 1444.3,115.9 1444.5,116.5 1444.8,116.4 1445.0,115.2 1445.3,113.7 1445.6,112.5 1445.8,116.9 1446.1,114.7 1446.3,116.0 1446.6,117.1 1446.9,119.7 1447.1,119.1 1447.4,121.4 1447.6,121.6 1447.9,120.6 1448.2,122.3 1448.4,121.3 1448.7,122.8 1448.9,124.1 1449.2,123.1 1449.4,121.5 1449.7,121.1 1450.0,120.4 1450.2,120.1 1450.5,116.6 1450.7,116.1 1451.0,117.5 1451.3,116.4 1451.5,116.2 1451.8,116.0 1452.0,115.3 1452.3,114.7 1452.6,114.9 1452.8,115.1 1453.1,114.5 1453.3,114.0 1453.6,112.9 1453.9,114.1 1454.1,112.7 1454.4,113.1 1454.6,113.9 1454.9,113.8 1455.2,114.4 1455.4,113.6 1455.7,112.5 1455.9,111.1 1456.2,110.8 1456.5,109.9 1456.7,111.3 1457.0,109.4 1457.2,108.0 1457.5,107.6 1457.8,109.4 1458.0,107.0 1458.3,108.0 1458.5,107.5 1458.8,108.2 1459.1,106.0 1459.3,107.1 1459.6,106.5 1459.8,106.9 1460.1,107.2 1460.4,105.7 1460.6,105.1 1460.9,106.0 1461.1,103.5 1461.4,105.0 1461.7,103.7 1461.9,103.4 1462.2,103.0 1462.4,102.8 1462.7,105.2 1463.0,105.1 1463.2,104.2 1463.5,104.9 1463.7,103.6 1464.0,102.8 1464.3,102.0 1464.5,103.6 1464.8,103.3 1465.0,103.5 1465.3,98.8 1465.6,95.8 1465.8,91.3 1466.1,90.2 1466.3,87.9 1466.6,85.9 1466.8,83.7 1467.1,81.9 1467.4,81.4 1467.6,82.6 1467.9,80.6 1468.1,81.8 1468.4,81.0 1468.7,79.8 1468.9,79.6 1469.2,80.6 1469.4,81.6 1469.7,80.6 1470.0,82.4 1470.2,82.5 1470.5,81.5 1470.7,78.8 1471.0,77.8 1471.3,80.6 1471.5,80.8 1471.8,79.3 1472.0,80.5 1472.3,80.0 1472.6,79.9 1472.8,81.9 1473.1,80.6 1473.3,81.6 1473.6,81.5 1473.9,78.6 1474.1,79.6 1474.4,75.5 1474.6,76.9 1474.9,76.7 1475.2,79.9 1475.4,78.1 1475.7,78.0 1475.9,81.0 1476.2,78.3 1476.5,80.6 1476.7,79.9 1477.0,82.4 1477.2,81.3 1477.5,82.7 1477.8,82.2 1478.0,81.6 1478.3,81.0 1478.5,85.3 1478.8,84.1 1479.1,83.2 1479.3,84.4 1479.6,85.4 1479.8,82.6 1480.1,86.0 1480.4,83.2 1480.6,82.7 1480.9,84.1 1481.1,82.9 1481.4,81.8 1481.7,83.8 1481.9,83.5 1482.2,84.2 1482.4,82.3 1482.7,81.8 1483.0,82.4 1483.2,80.2 1483.5,77.4 1483.7,77.8 1484.0,77.9 1484.2,75.4 1484.5,77.3 1484.8,75.8 1485.0,76.4 1485.3,75.0 1485.5,76.1 1485.8,76.9 1486.1,77.9 1486.3,78.0 1486.6,79.4 1486.8,76.7 1487.1,79.4 1487.4,79.8 1487.6,79.4 1487.9,80.6 1488.1,80.0 1488.4,81.3 1488.7,80.7 1488.9,81.6 1489.2,80.3 1489.4,82.6 1489.7,81.8 1490.0,83.3 1490.2,81.5 1490.5,81.2 1490.7,81.9 1491.0,81.4 1491.3,80.9 1491.5,82.2 1491.8,82.4 1492.0,82.1 1492.3,82.7 1492.6,82.4 1492.8,83.8 1493.1,82.6 1493.3,86.8 1493.6,86.4 1493.9,88.5 1494.1,87.6 1494.4,89.9 1494.6,90.1 1494.9,92.0 1495.2,92.7 1495.4,90.9 1495.7,94.4 1495.9,92.4 1496.2,95.9 1496.5,95.2 1496.7,94.7 1497.0,96.2 1497.2,94.6 1497.5,92.6 1497.8,91.9 1498.0,92.2 1498.3,89.8 1498.5,89.9 1498.8,92.3 1499.1,89.3 1499.3,90.0 1499.6,89.8 1499.8,90.2 1500.1,90.0 1500.4,86.4 1500.6,88.3 1500.9,90.1 1501.1,88.9 1501.4,92.3 1501.6,91.4 1501.9,90.7 1502.2,93.3 1502.4,95.6 1502.7,93.9 1502.9,96.1 1503.2,95.6 1503.5,96.8 1503.7,97.3 1504.0,97.3 1504.2,96.8 1504.5,96.3 1504.8,98.1 1505.0,94.2 1505.3,92.8 1505.5,94.7 1505.8,93.8 1506.1,91.6 1506.3,94.0 1506.6,90.4 1506.8,88.6 1507.1,89.3 1507.4,88.4 1507.6,89.0 1507.9,84.6 1508.1,84.3 1508.4,84.8 1508.7,84.1 1508.9,83.9 1509.2,83.2 1509.4,82.2 1509.7,83.2 1510.0,84.2 1510.2,84.1 1510.5,81.8 1510.7,81.8 1511.0,80.4 1511.3,78.3 1511.5,77.2 1511.8,77.0 1512.0,79.4 1512.3,76.4 1512.6,74.9 1512.8,75.3 1513.1,74.5 1513.3,75.8 1513.6,72.1 1513.9,72.8 1514.1,74.3 1514.4,73.6 1514.6,73.1 1514.9,73.6 1515.2,71.4 1515.4,73.0 1515.7,71.4 1515.9,71.5 1516.2,73.5 1516.5,72.5 1516.7,73.2 1517.0,74.5 1517.2,73.0 1517.5,74.8 1517.8,76.6 1518.0,74.2 1518.3,75.5 1518.5,75.2 1518.8,72.7 1519.0,72.2 1519.3,73.1 1519.6,70.6 1519.8,72.8 1520.1,73.4 1520.3,74.0 1520.6,74.3 1520.9,75.6 1521.1,74.3 1521.4,76.3 1521.6,75.7 1521.9,76.0 1522.2,75.5 1522.4,76.9 1522.7,75.3 1522.9,76.9 1523.2,77.5 1523.5,75.8 1523.7,75.6 1524.0,75.7 1524.2,76.1 1524.5,76.2 1524.8,76.5 1525.0,77.2 1525.3,76.5 1525.5,74.6 1525.8,73.5 1526.1,72.1 1526.3,73.7 1526.6,72.8 1526.8,71.2 1527.1,70.5 1527.4,69.8 1527.6,66.5 1527.9,68.4 1528.1,68.4 1528.4,67.5 1528.7,66.2 1528.9,67.0 1529.2,67.0 1529.4,68.3 1529.7,67.6 1530.0,67.1 1530.2,66.5 1530.5,65.2 1530.7,66.0 1531.0,65.1 1531.3,66.4 1531.5,67.6 1531.8,67.6 1532.0,67.6 1532.3,66.9 1532.6,68.2 1532.8,67.2 1533.1,65.7 1533.3,67.9 1533.6,67.7 1533.9,65.7 1534.1,66.8 1534.4,64.8 1534.6,66.6 1534.9,67.7 1535.2,65.3 1535.4,66.8 1535.7,65.1 1535.9,63.7 1536.2,62.6 1536.4,65.2 1536.7,65.1 1537.0,62.9 1537.2,64.1 1537.5,66.1 1537.7,64.7 1538.0,66.4 1538.3,64.5 1538.5,66.0 1538.8,68.3 1539.0,67.1 1539.3,67.5 1539.6,68.2 1539.8,69.9 1540.1,69.3 1540.3,71.3 1540.6,72.4 1540.9,73.9 1541.1,72.5 1541.4,74.8 1541.6,73.4 1541.9,72.4 1542.2,72.9 1542.4,73.6 1542.7,73.4 1542.9,72.3 1543.2,71.2 1543.5,71.9 1543.7,71.0 1544.0,70.7 1544.2,70.3 1544.5,71.3 1544.8,67.7 1545.0,68.3 1545.3,66.8 1545.5,68.6 1545.8,68.7 1546.1,68.8 1546.3,67.0 1546.6,67.2 1546.8,68.3 1547.1,68.6 1547.4,69.5 1547.6,70.2 1547.9,71.1 1548.1,70.6 1548.4,70.1 1548.7,67.2 1548.9,67.3 1549.2,65.4 1549.4,65.7 1549.7,64.5 1550.0,65.2 1550.2,65.4 1550.5,62.3 1550.7,62.4 1551.0,63.9 1551.3,65.4 1551.5,65.1 1551.8,65.1 1552.0,65.0 1552.3,65.5 1552.6,67.4 1552.8,68.6 1553.1,69.3 1553.3,69.6 1553.6,69.2 1553.8,70.3 1554.1,71.2 1554.4,70.7 1554.6,72.6 1554.9,70.9 1555.1,71.5 1555.4,71.6 1555.7,71.6 1555.9,70.4 1556.2,71.1 1556.4,69.4 1556.7,69.3 1557.0,71.4 1557.2,69.5 1557.5,70.4 1557.7,69.3 1558.0,72.7 1558.3,72.8 1558.5,71.9 1558.8,71.4 1559.0,73.8 1559.3,74.2 1559.6,75.5 1559.8,76.6 1560.1,75.3 1560.3,75.3 1560.6,76.0 1560.9,76.5 1561.1,76.1 1561.4,77.2 1561.6,78.6" fill="none" stroke="#f2a912" stroke-width="3.5" stroke-linejoin="round"/>
<path d="M249.6 714.6h0M260.8 713.1h0M270.7 713.0h0M271.5 713.3h0M314.8 714.7h0M317.9 714.8h0M322.4 714.3h0M323.9 714.6h0M326.8 714.6h0M340.0 713.4h0M340.8 713.5h0M347.5 714.2h0M357.9 714.5h0M437.4 714.4h0M477.7 713.4h0M494.0 713.0h0M504.9 713.7h0M510.1 713.2h0M548.3 713.2h0M549.3 714.8h0M576.3 714.2h0M632.7 714.4h0M633.0 713.4h0M642.6 713.2h0M703.1 714.5h0M703.3 713.2h0M704.6 714.4h0M707.2 714.8h0M709.3 713.9h0M710.1 714.9h0M726.7 715.0h0M740.5 713.3h0M788.3 713.3h0M800.2 713.7h0M829.8 713.3h0M842.5 713.6h0M861.2 713.6h0M882.0 713.7h0M907.7 714.0h0M915.5 714.1h0M918.4 714.4h0M930.0 713.7h0M956.3 714.3h0M965.9 714.5h0M971.3 713.9h0M987.4 714.4h0M1001.7 714.2h0M1015.8 713.8h0M1029.3 713.9h0M1046.1 714.3h0M1047.4 714.1h0M1048.7 714.6h0M1053.7 713.4h0M1057.6 715.0h0M1059.1 713.9h0M1062.0 713.3h0M1092.6 714.0h0M1093.7 713.6h0M1134.2 713.8h0M1140.7 714.5h0M1163.3 714.9h0M1193.1 714.9h0M1198.6 713.0h0M1199.1 713.6h0M1236.0 714.1h0M1236.2 714.0h0M1241.9 714.0h0M1259.3 714.5h0M1266.9 713.1h0M1282.5 713.4h0M1285.6 714.3h0M1322.2 713.9h0M1331.5 714.7h0M1339.6 714.3h0M1364.5 714.8h0M1364.8 714.7h0M1377.8 713.8h0M1417.5 714.3h0M1418.0 714.2h0M1423.7 714.2h0M1454.1 714.3h0M1468.4 713.4h0M1483.0 714.0h0M1506.1 714.7h0M1510.5 713.9h0M1526.1 714.2h0M1541.9 713.5h0M1543.5 713.6h0M1544.5 714.6h0M1560.3 713.3h0" stroke="#f3ca28" stroke-width="3.6" stroke-linecap="round" fill="none"/>
<path d="M249.9 718.0h0M275.9 717.1h0M315.6 717.2h0M315.9 718.7h0M320.3 717.5h0M335.9 718.2h0M337.9 718.7h0M339.8 718.0h0M340.3 717.6h0M348.6 718.4h0M352.7 717.2h0M358.2 717.9h0M415.6 718.0h0M443.6 718.9h0M446.5 717.5h0M469.3 717.4h0M487.3 717.8h0M488.6 717.5h0M494.3 718.3h0M519.5 717.5h0M537.9 717.4h0M556.9 717.7h0M562.1 718.8h0M566.2 717.6h0M611.4 718.4h0M616.6 718.0h0M624.9 717.9h0M635.3 718.5h0M636.8 717.1h0M659.2 717.1h0M694.0 718.9h0M699.4 717.4h0M706.7 717.1h0M707.7 718.4h0M716.3 718.9h0M775.0 718.5h0M775.3 717.6h0M776.3 718.1h0M798.9 718.3h0M810.3 717.6h0M841.2 718.7h0M868.5 718.1h0M874.7 718.8h0M876.3 718.2h0M909.5 717.2h0M916.3 718.5h0M925.9 718.7h0M929.8 717.2h0M944.3 718.8h0M946.2 718.9h0M971.6 717.3h0M986.7 717.2h0M990.6 717.7h0M1001.2 717.5h0M1002.2 717.5h0M1012.1 718.9h0M1027.7 717.7h0M1046.4 717.7h0M1052.6 718.8h0M1072.4 717.6h0M1086.9 718.7h0M1087.4 717.1h0M1115.7 717.6h0M1132.9 717.1h0M1141.4 717.9h0M1150.3 718.5h0M1171.6 718.4h0M1192.9 717.0h0M1199.4 718.1h0M1208.7 718.4h0M1226.6 717.5h0M1286.6 717.5h0M1321.9 718.2h0M1325.3 717.3h0M1357.8 717.2h0M1422.7 717.0h0M1424.0 718.5h0M1433.9 717.4h0M1453.9 717.5h0M1454.9 718.8h0M1526.3 718.5h0M1538.3 717.8h0M1538.8 718.9h0" stroke="#f5be28" stroke-width="3.6" stroke-linecap="round" fill="none"/>
<path d="M250.2 727.6h0M259.2 728.3h0M264.4 728.6h0M294.8 727.3h0M301.6 727.9h0M328.1 728.6h0M348.3 727.4h0M351.7 727.5h0M397.9 728.2h0M398.7 727.8h0M399.0 728.1h0M407.5 727.8h0M413.0 727.7h0M431.9 727.7h0M444.9 727.7h0M445.4 727.0h0M462.8 727.5h0M477.9 728.7h0M478.2 728.4h0M487.0 727.3h0M488.8 727.9h0M499.2 727.8h0M505.2 728.0h0M521.8 728.8h0M543.6 728.4h0M564.4 727.3h0M611.9 728.3h0M623.9 727.7h0M625.9 728.2h0M636.6 727.4h0M661.5 728.8h0M670.9 728.1h0M674.5 728.0h0M677.9 727.1h0M690.3 728.5h0M700.0 728.3h0M710.3 728.8h0M736.8 728.6h0M737.4 727.2h0M749.8 728.2h0M751.9 728.8h0M752.4 728.6h0M759.2 728.7h0M765.1 727.5h0M775.5 728.6h0M840.7 727.9h0M861.5 728.9h0M862.5 728.5h0M917.8 727.5h0M926.9 727.8h0M951.1 728.8h0M973.4 728.0h0M976.0 728.8h0M1001.5 727.0h0M1031.1 728.4h0M1033.4 728.5h0M1038.6 728.7h0M1046.9 727.8h0M1092.9 729.0h0M1095.0 727.2h0M1103.0 727.7h0M1114.7 727.0h0M1115.0 727.3h0M1133.1 728.4h0M1155.2 727.5h0M1158.3 728.6h0M1176.8 728.5h0M1182.7 728.0h0M1190.3 728.9h0M1204.3 728.5h0M1204.8 727.5h0M1205.1 728.8h0M1256.8 728.9h0M1260.9 728.1h0M1268.2 728.0h0M1325.6 728.8h0M1338.3 728.3h0M1355.2 728.3h0M1358.0 728.5h0M1377.5 727.5h0M1392.6 727.3h0M1396.2 727.4h0M1408.7 728.3h0M1416.5 727.5h0M1438.3 728.6h0M1448.2 728.1h0M1488.4 728.3h0M1520.1 727.2h0M1524.8 728.8h0M1529.4 727.8h0M1560.9 728.4h0" stroke="#f59823" stroke-width="3.6" stroke-linecap="round" fill="none"/>
<path d="M250.4 754.5h0M273.5 753.1h0M277.7 753.5h0M291.2 754.0h0M294.0 754.7h0M307.8 754.9h0M308.8 754.0h0M310.9 754.5h0M314.3 754.2h0M373.5 753.2h0M375.1 753.5h0M381.3 754.4h0M447.3 753.8h0M502.6 754.6h0M588.3 754.8h0M589.1 753.4h0M590.1 753.8h0M600.0 754.5h0M632.2 754.3h0M632.4 753.9h0M667.8 753.1h0M668.8 754.5h0M678.7 754.8h0M682.8 753.5h0M696.1 754.5h0M816.3 753.6h0M822.5 753.5h0M835.3 754.5h0M835.8 753.8h0M836.8 754.7h0M837.1 753.9h0M839.9 754.3h0M850.8 753.9h0M851.4 753.2h0M852.1 753.5h0M858.6 753.4h0M861.7 754.3h0M884.1 754.3h0M897.8 754.0h0M921.0 754.2h0M928.2 754.8h0M949.8 753.6h0M957.8 754.3h0M993.9 753.1h0M994.5 753.5h0M1003.0 753.4h0M1031.6 754.5h0M1107.4 754.4h0M1196.2 753.7h0M1207.9 754.5h0M1237.0 753.2h0M1247.4 753.3h0M1269.2 754.8h0M1329.7 753.4h0M1342.5 753.6h0M1354.7 754.2h0M1359.1 753.1h0M1372.6 754.9h0M1373.4 753.9h0M1391.3 754.4h0M1394.7 754.5h0M1404.3 754.1h0M1406.6 754.2h0M1415.4 754.1h0M1479.1 753.8h0M1480.4 754.7h0M1535.9 753.7h0M1551.5 753.2h0M1561.1 754.6h0" stroke="#ef1e15" stroke-width="3.6" stroke-linecap="round" fill="none"/>
<path d="M250.7 755.9h0M257.7 756.8h0M258.2 756.6h0M272.7 756.8h0M281.3 755.8h0M281.6 755.3h0M286.5 756.1h0M287.8 756.5h0M290.9 756.7h0M291.4 755.7h0M293.5 755.6h0M308.1 756.9h0M329.1 756.9h0M360.3 755.3h0M375.3 756.7h0M376.1 755.6h0M377.7 755.2h0M381.0 755.1h0M382.1 755.0h0M432.2 756.4h0M438.2 756.5h0M451.4 756.2h0M455.8 756.3h0M468.3 756.6h0M479.0 756.7h0M507.0 757.0h0M525.4 755.4h0M556.3 756.9h0M565.7 755.3h0M574.0 755.5h0M599.5 756.6h0M603.6 755.1h0M615.8 756.8h0M630.9 755.5h0M651.4 756.0h0M668.3 756.0h0M681.8 755.2h0M682.0 755.4h0M684.1 755.8h0M711.4 756.9h0M711.6 756.0h0M715.3 756.4h0M741.2 756.1h0M759.7 755.2h0M767.0 756.4h0M818.4 755.7h0M836.0 756.4h0M836.3 756.4h0M836.6 755.3h0M846.4 756.4h0M859.9 756.4h0M869.5 755.6h0M905.9 756.3h0M928.0 755.2h0M977.1 755.4h0M991.9 756.0h0M1013.7 755.7h0M1013.9 755.0h0M1085.6 755.3h0M1086.1 755.3h0M1090.0 756.0h0M1134.7 756.0h0M1152.6 756.4h0M1165.3 756.1h0M1165.6 755.4h0M1207.4 756.7h0M1219.1 756.1h0M1264.3 757.0h0M1268.7 756.2h0M1291.6 756.9h0M1329.5 756.9h0M1383.2 756.9h0M1384.0 755.2h0M1406.3 755.9h0M1414.1 756.7h0M1479.6 756.6h0M1550.0 755.6h0" stroke="#f01614" stroke-width="3.6" stroke-linecap="round" fill="none"/>
<path d="M250.9 767.2h0M256.4 769.0h0M257.2 767.7h0M265.0 767.8h0M278.2 768.1h0M304.4 768.9h0M305.2 768.8h0M313.3 768.5h0M321.6 768.2h0M360.5 768.0h0M370.9 768.1h0M372.5 769.0h0M373.3 767.7h0M374.3 767.4h0M379.0 767.8h0M434.3 767.7h0M447.8 767.9h0M449.6 768.8h0M454.0 768.4h0M464.4 768.9h0M479.5 768.5h0M514.8 767.6h0M522.8 768.1h0M527.5 767.2h0M528.3 768.1h0M540.5 767.1h0M541.5 768.7h0M550.4 767.1h0M561.3 768.8h0M588.8 767.0h0M603.1 767.2h0M621.5 767.8h0M631.9 767.5h0M681.5 768.8h0M684.6 767.3h0M684.9 767.8h0M689.3 767.4h0M695.5 768.4h0M771.1 768.4h0M785.1 767.6h0M812.1 767.4h0M816.8 768.1h0M818.6 767.7h0M820.7 767.5h0M898.6 767.4h0M904.3 768.2h0M977.3 768.1h0M977.6 768.4h0M977.8 768.8h0M984.1 767.6h0M997.8 768.3h0M1015.0 768.3h0M1020.4 768.1h0M1106.6 768.0h0M1136.0 768.2h0M1170.8 768.5h0M1221.7 768.2h0M1240.9 767.6h0M1288.7 767.7h0M1326.9 769.0h0M1340.4 767.9h0M1340.6 767.6h0M1341.7 768.5h0M1353.4 768.2h0M1374.4 768.3h0M1404.8 768.2h0M1413.6 767.4h0M1426.6 768.0h0M1428.9 767.5h0M1439.3 767.6h0M1503.7 768.7h0M1533.6 767.7h0" stroke="#f70808" stroke-width="3.6" stroke-linecap="round" fill="none"/>
<path d="M251.2 769.7h0M251.5 779.6h0M255.6 780.3h0M255.9 769.5h0M256.1 770.5h0M258.7 779.4h0M279.2 779.5h0M279.8 773.1h0M280.0 779.3h0M280.5 776.3h0M281.1 771.4h0M291.7 770.2h0M292.0 773.5h0M292.2 769.0h0M303.1 775.2h0M303.4 770.3h0M304.2 769.5h0M304.7 778.5h0M305.0 776.4h0M311.7 773.3h0M312.2 770.0h0M312.7 770.3h0M313.0 770.1h0M329.4 772.7h0M368.1 777.1h0M368.6 780.4h0M369.4 771.0h0M369.6 771.3h0M369.9 769.8h0M370.1 773.2h0M370.4 770.4h0M370.7 769.4h0M372.7 772.3h0M374.0 770.9h0M378.2 776.8h0M378.7 772.6h0M379.7 780.0h0M383.6 776.5h0M390.9 771.8h0M404.7 778.2h0M404.9 772.9h0M405.5 779.1h0M406.8 770.0h0M433.5 771.4h0M439.5 775.8h0M449.3 777.4h0M449.9 772.3h0M450.1 774.8h0M450.6 778.6h0M450.9 773.9h0M453.0 770.0h0M453.2 773.2h0M453.5 772.8h0M453.8 774.8h0M455.3 779.1h0M458.7 778.4h0M461.0 780.0h0M461.6 777.9h0M462.1 773.1h0M464.7 771.4h0M465.2 780.1h0M478.7 776.2h0M501.3 770.0h0M501.5 771.0h0M502.1 770.2h0M511.2 778.7h0M523.1 774.5h0M523.4 773.4h0M527.8 776.4h0M528.0 772.2h0M529.6 773.7h0M530.4 775.8h0M530.6 770.6h0M530.9 774.3h0M540.8 770.1h0M541.0 777.2h0M541.8 776.3h0M542.3 780.0h0M550.1 774.9h0M550.6 776.2h0M550.9 780.5h0M556.1 776.1h0M588.5 776.2h0M598.7 779.5h0M598.9 780.3h0M599.2 778.8h0M613.0 769.5h0M613.2 774.5h0M621.8 781.0h0M622.0 779.8h0M622.3 771.1h0M631.1 775.3h0M631.4 775.3h0M672.7 772.0h0M688.5 777.8h0M688.8 776.6h0M689.0 777.6h0M695.3 776.8h0M696.3 771.8h0M712.2 776.2h0M712.4 776.9h0M714.0 779.8h0M714.5 772.7h0M714.8 774.5h0M723.1 774.1h0M741.5 780.7h0M769.3 779.9h0M769.8 775.6h0M770.3 771.4h0M770.6 778.4h0M783.8 773.2h0M784.1 769.0h0M784.4 773.3h0M784.6 773.2h0M784.9 780.2h0M785.7 780.8h0M786.7 779.9h0M812.4 772.3h0M815.3 779.1h0M816.6 772.0h0M817.1 769.9h0M818.1 779.5h0M819.2 769.6h0M819.9 780.7h0M820.2 779.2h0M838.4 778.6h0M839.7 779.3h0M846.7 771.4h0M846.9 779.2h0M847.5 776.4h0M857.3 771.5h0M857.9 776.3h0M862.0 769.1h0M870.1 769.6h0M870.3 777.4h0M870.6 779.8h0M870.8 774.6h0M883.0 771.1h0M883.3 779.5h0M883.6 777.5h0M883.8 774.4h0M888.5 775.0h0M898.9 773.5h0M899.1 774.4h0M900.4 771.5h0M901.0 777.7h0M904.6 771.1h0M905.6 774.3h0M927.7 770.5h0M950.3 772.0h0M959.9 770.6h0M960.2 769.1h0M961.0 773.7h0M961.2 775.9h0M978.9 770.9h0M979.7 778.5h0M979.9 774.3h0M980.2 777.2h0M980.4 779.6h0M981.0 777.9h0M981.2 776.0h0M981.5 777.8h0M981.7 777.5h0M982.0 779.9h0M982.2 775.4h0M983.3 775.3h0M983.5 770.9h0M984.3 769.6h0M984.6 770.4h0M992.6 770.9h0M997.6 775.5h0M998.1 773.8h0M1004.8 773.0h0M1014.5 776.8h0M1014.7 770.3h0M1020.7 769.1h0M1020.9 776.0h0M1021.2 780.4h0M1025.9 775.5h0M1026.1 776.4h0M1104.0 775.2h0M1104.8 769.3h0M1105.1 771.4h0M1129.2 774.6h0M1129.5 774.4h0M1129.8 777.7h0M1131.3 777.3h0M1132.1 770.4h0M1135.7 772.4h0M1137.8 772.9h0M1144.8 776.4h0M1145.3 774.1h0M1145.6 771.6h0M1151.8 777.8h0M1152.1 778.7h0M1152.4 777.5h0M1166.4 775.9h0M1166.6 773.3h0M1166.9 778.9h0M1167.2 771.2h0M1183.0 775.6h0M1187.7 776.4h0M1220.4 769.6h0M1222.5 776.1h0M1222.7 779.1h0M1227.1 776.3h0M1227.7 773.9h0M1227.9 775.2h0M1228.2 776.1h0M1228.4 779.3h0M1228.7 772.6h0M1237.8 780.6h0M1238.1 779.9h0M1238.3 780.7h0M1239.9 773.4h0M1240.1 769.9h0M1240.4 777.1h0M1240.7 771.1h0M1263.0 770.4h0M1263.2 777.5h0M1263.8 769.8h0M1264.0 773.2h0M1275.7 769.3h0M1276.0 771.6h0M1276.5 776.7h0M1291.0 777.7h0M1306.4 771.0h0M1306.6 773.9h0M1327.4 771.3h0M1327.7 773.8h0M1327.9 773.3h0M1328.4 770.9h0M1328.7 777.8h0M1329.2 769.8h0M1343.0 772.7h0M1345.6 776.7h0M1345.8 777.9h0M1346.9 776.4h0M1348.2 779.4h0M1353.1 775.7h0M1359.3 775.5h0M1363.0 778.5h0M1363.2 770.8h0M1374.7 773.6h0M1374.9 780.7h0M1375.2 779.9h0M1381.9 769.6h0M1382.2 777.1h0M1382.4 778.2h0M1388.9 772.8h0M1389.2 769.3h0M1389.5 776.6h0M1390.2 781.0h0M1405.3 777.9h0M1409.2 780.4h0M1413.1 770.4h0M1413.9 777.7h0M1426.9 776.0h0M1427.1 772.4h0M1439.6 770.4h0M1442.4 776.2h0M1442.7 773.3h0M1449.4 779.7h0M1449.7 773.4h0M1450.0 774.4h0M1451.0 777.2h0M1452.0 769.3h0M1470.7 779.1h0M1472.6 770.8h0M1472.8 775.4h0M1473.1 775.6h0M1473.3 773.2h0M1474.4 775.2h0M1474.6 779.5h0M1476.2 780.8h0M1476.5 780.1h0M1476.7 778.8h0M1478.3 779.3h0M1479.8 773.1h0M1496.7 778.9h0M1531.5 773.0h0M1532.0 777.5h0M1532.8 772.4h0M1533.1 781.0h0M1534.1 769.5h0M1548.7 771.1h0M1550.2 778.3h0" stroke="#f80606" stroke-width="3.6" stroke-linecap="round" fill="none"/>
<path d="M251.7 798.9h0M252.0 801.9h0M252.2 801.4h0M254.6 802.7h0M254.8 801.5h0M255.1 784.8h0M255.3 786.2h0M257.4 785.0h0M278.5 785.5h0M278.7 788.0h0M279.0 792.2h0M279.5 786.4h0M280.8 784.1h0M303.9 785.7h0M305.5 783.3h0M305.7 793.6h0M306.0 795.3h0M306.3 802.5h0M306.5 802.9h0M306.8 789.7h0M311.2 787.1h0M311.4 789.2h0M312.5 782.4h0M313.5 781.5h0M313.8 781.7h0M368.3 794.0h0M373.0 781.5h0M379.2 786.9h0M379.5 782.2h0M390.1 794.8h0M390.4 800.2h0M390.7 784.3h0M404.4 783.5h0M405.2 782.6h0M406.0 784.6h0M406.2 786.1h0M406.5 785.3h0M433.8 792.1h0M434.0 783.7h0M438.4 800.5h0M450.4 784.0h0M459.0 782.7h0M459.2 797.3h0M459.5 802.1h0M459.7 802.2h0M460.3 788.0h0M460.5 787.9h0M460.8 781.4h0M461.8 782.3h0M464.9 785.5h0M465.4 781.8h0M465.7 785.9h0M466.0 798.8h0M466.2 791.8h0M466.5 799.3h0M467.0 796.6h0M467.3 795.0h0M467.5 796.0h0M467.8 791.4h0M479.7 787.3h0M511.4 784.8h0M511.7 791.5h0M513.2 798.8h0M513.5 797.6h0M513.8 800.3h0M514.0 799.9h0M514.3 795.8h0M514.5 785.5h0M528.6 787.6h0M528.8 785.1h0M529.1 783.9h0M529.3 782.0h0M529.9 798.3h0M530.1 792.9h0M541.3 784.4h0M542.1 781.4h0M551.1 794.7h0M551.7 790.3h0M551.9 794.3h0M552.2 791.1h0M552.4 786.2h0M552.7 793.1h0M553.0 795.1h0M553.2 792.0h0M553.5 790.3h0M553.7 790.1h0M554.0 799.9h0M554.3 798.0h0M554.5 798.9h0M554.8 794.8h0M555.0 785.2h0M555.6 784.1h0M555.8 786.3h0M596.6 792.0h0M596.9 792.7h0M597.1 796.8h0M597.4 799.4h0M597.9 785.8h0M598.2 793.6h0M598.4 793.2h0M631.7 782.3h0M662.3 784.1h0M662.6 793.9h0M662.8 796.6h0M663.1 790.5h0M663.3 799.9h0M663.6 790.8h0M678.9 784.2h0M679.2 791.9h0M679.4 797.2h0M679.7 789.9h0M680.0 791.3h0M680.2 794.6h0M680.5 797.6h0M680.7 791.7h0M681.0 793.0h0M681.3 796.3h0M685.2 788.9h0M687.0 794.7h0M687.2 796.4h0M687.5 797.0h0M687.7 799.9h0M688.0 787.1h0M688.3 799.2h0M712.7 794.9h0M712.9 784.7h0M713.2 785.1h0M713.5 797.2h0M713.7 786.7h0M714.2 796.6h0M723.3 793.4h0M723.6 794.2h0M723.8 796.6h0M724.4 801.7h0M724.6 801.3h0M725.1 785.1h0M741.8 781.0h0M742.0 800.0h0M742.3 799.6h0M768.0 794.5h0M768.3 797.6h0M768.5 800.5h0M768.8 786.6h0M769.0 784.5h0M769.6 789.2h0M770.9 781.7h0M785.4 795.2h0M785.9 782.4h0M786.2 784.9h0M786.4 788.3h0M812.7 784.9h0M813.2 788.2h0M813.4 801.0h0M814.5 790.8h0M814.7 790.4h0M815.0 781.6h0M819.4 782.8h0M819.7 781.3h0M838.6 799.7h0M838.9 799.1h0M839.2 801.6h0M847.2 791.8h0M847.7 792.5h0M848.0 794.0h0M848.2 793.1h0M848.5 793.4h0M848.8 793.8h0M849.0 800.6h0M849.5 794.4h0M849.8 793.1h0M871.1 794.1h0M871.4 792.7h0M872.9 796.9h0M873.2 792.3h0M873.7 789.1h0M888.8 785.5h0M889.0 794.0h0M889.8 792.5h0M890.1 789.7h0M890.3 786.2h0M890.6 785.4h0M899.7 786.9h0M899.9 786.6h0M900.2 785.9h0M904.9 785.6h0M905.1 782.5h0M905.4 781.1h0M961.5 781.6h0M964.8 802.1h0M978.1 784.7h0M978.4 783.8h0M978.6 784.9h0M979.1 783.5h0M979.4 783.9h0M980.7 789.1h0M982.8 794.1h0M983.0 792.3h0M1014.2 783.9h0M1021.5 790.7h0M1021.7 795.2h0M1022.0 790.0h0M1022.2 793.5h0M1024.6 793.4h0M1024.8 794.3h0M1025.1 796.3h0M1025.4 791.8h0M1025.6 786.3h0M1104.3 786.7h0M1105.3 790.4h0M1105.6 796.0h0M1105.9 802.8h0M1106.1 798.0h0M1130.0 785.1h0M1130.3 784.9h0M1130.5 788.9h0M1130.8 788.2h0M1131.1 785.6h0M1135.2 782.9h0M1136.5 783.7h0M1136.8 787.0h0M1137.0 781.5h0M1144.6 784.9h0M1159.9 792.4h0M1167.4 784.4h0M1167.7 792.4h0M1167.9 802.0h0M1168.2 801.7h0M1168.5 789.1h0M1168.7 788.2h0M1169.0 785.2h0M1169.2 785.9h0M1169.5 792.1h0M1169.8 801.6h0M1170.5 801.8h0M1183.3 781.3h0M1183.5 787.1h0M1183.8 786.2h0M1184.0 796.3h0M1187.4 783.7h0M1222.2 785.3h0M1223.0 792.2h0M1227.4 788.2h0M1229.0 781.3h0M1229.2 786.6h0M1229.5 793.6h0M1229.7 786.0h0M1230.5 791.9h0M1230.8 790.9h0M1231.0 783.4h0M1231.3 786.8h0M1238.6 784.7h0M1238.8 792.9h0M1239.1 800.3h0M1239.4 791.9h0M1239.6 791.9h0M1263.5 786.6h0M1276.7 784.5h0M1277.0 785.5h0M1289.0 782.8h0M1289.2 781.6h0M1289.7 801.2h0M1290.0 786.8h0M1290.3 791.3h0M1290.5 788.2h0M1290.8 786.5h0M1306.1 782.6h0M1327.1 781.6h0M1328.2 783.2h0M1328.9 790.6h0M1343.2 784.0h0M1346.1 789.5h0M1346.3 795.8h0M1346.6 782.8h0M1347.1 796.7h0M1347.4 788.7h0M1347.6 785.5h0M1347.9 786.4h0M1348.4 794.2h0M1348.7 796.2h0M1348.9 797.1h0M1349.2 793.8h0M1349.5 785.3h0M1349.7 783.8h0M1350.0 782.0h0M1350.2 791.9h0M1350.5 795.8h0M1350.8 791.8h0M1351.0 789.9h0M1351.3 795.0h0M1351.5 795.9h0M1352.1 800.6h0M1352.3 799.9h0M1352.6 792.9h0M1359.6 796.1h0M1359.9 795.3h0M1360.1 784.7h0M1360.4 789.2h0M1360.6 795.7h0M1360.9 798.7h0M1361.2 796.7h0M1361.4 800.3h0M1361.7 797.2h0M1361.9 798.8h0M1362.2 789.3h0M1362.5 795.6h0M1362.7 793.1h0M1375.4 787.7h0M1382.7 781.1h0M1389.7 796.0h0M1390.0 792.1h0M1405.0 784.7h0M1409.5 792.2h0M1410.0 802.7h0M1410.2 791.6h0M1410.5 787.4h0M1410.8 801.9h0M1411.0 802.1h0M1411.3 786.9h0M1411.5 792.7h0M1411.8 785.0h0M1412.1 781.9h0M1412.3 792.9h0M1412.6 787.4h0M1412.8 783.0h0M1427.4 795.3h0M1427.6 784.9h0M1439.8 785.3h0M1440.1 786.2h0M1440.4 786.5h0M1441.1 801.3h0M1441.4 799.4h0M1441.7 791.9h0M1441.9 794.9h0M1442.2 782.0h0M1450.2 788.1h0M1450.5 783.0h0M1451.3 788.4h0M1451.5 788.1h0M1451.8 798.7h0M1470.0 788.2h0M1470.2 791.6h0M1470.5 789.9h0M1474.9 784.1h0M1475.2 781.3h0M1475.4 787.0h0M1475.7 795.7h0M1475.9 791.4h0M1477.0 781.9h0M1477.2 791.8h0M1477.5 791.2h0M1477.8 784.0h0M1478.0 782.4h0M1504.0 797.4h0M1504.2 798.5h0M1504.5 799.9h0M1548.9 784.4h0M1549.2 782.0h0M1549.4 783.0h0M1550.5 781.2h0M1550.7 783.8h0" stroke="#f80505" stroke-width="3.6" stroke-linecap="round" fill="none"/>
<path d="M252.5 808.9h0M252.8 814.5h0M253.0 817.8h0M253.3 817.8h0M253.5 808.7h0M253.8 804.5h0M254.1 804.6h0M254.3 804.4h0M383.9 812.1h0M384.2 812.9h0M384.4 809.9h0M384.7 810.0h0M384.9 811.6h0M385.2 810.0h0M385.5 812.4h0M385.7 811.7h0M386.0 823.4h0M386.2 824.0h0M386.8 824.4h0M387.0 824.3h0M387.3 824.1h0M387.5 824.1h0M387.8 824.3h0M389.6 819.8h0M389.9 817.7h0M438.7 809.7h0M439.0 809.2h0M439.2 807.8h0M460.0 805.0h0M466.7 807.1h0M511.9 805.5h0M512.2 814.3h0M512.5 820.7h0M512.7 804.7h0M513.0 803.9h0M551.4 813.9h0M555.3 807.4h0M597.6 805.9h0M685.4 803.1h0M685.7 804.6h0M685.9 818.8h0M686.2 818.6h0M686.5 817.1h0M686.7 805.2h0M724.1 805.9h0M724.9 805.3h0M767.5 804.4h0M767.7 808.3h0M813.7 806.2h0M814.0 808.2h0M814.2 809.0h0M839.4 805.5h0M849.3 807.1h0M871.6 803.5h0M871.9 814.2h0M872.1 812.9h0M872.4 813.1h0M872.7 807.7h0M873.4 805.1h0M889.3 809.0h0M889.5 808.9h0M961.7 803.3h0M962.0 815.5h0M962.3 820.4h0M962.5 820.3h0M962.8 819.9h0M963.0 819.6h0M963.3 819.1h0M963.6 818.5h0M963.8 818.8h0M964.1 805.5h0M964.3 803.3h0M964.6 809.5h0M982.5 804.6h0M1022.5 816.9h0M1022.8 819.5h0M1023.0 820.1h0M1023.3 822.6h0M1023.5 822.8h0M1023.8 822.6h0M1024.1 822.2h0M1024.3 819.4h0M1170.0 809.7h0M1170.3 809.6h0M1184.3 806.6h0M1184.6 819.0h0M1184.8 819.7h0M1185.1 803.2h0M1185.3 813.4h0M1185.6 813.4h0M1185.9 814.8h0M1186.1 814.0h0M1186.4 806.1h0M1186.6 806.3h0M1186.9 806.3h0M1187.2 805.5h0M1230.0 805.4h0M1230.3 808.3h0M1289.5 806.6h0M1351.8 803.7h0M1409.7 805.7h0M1440.6 809.6h0M1440.9 813.7h0" stroke="#f80404" stroke-width="3.6" stroke-linecap="round" fill="none"/>
<path d="M256.6 752.9h0M267.3 752.8h0M274.0 751.7h0M274.3 752.8h0M277.9 752.7h0M288.6 752.6h0M289.1 751.2h0M289.6 752.2h0M302.9 751.8h0M344.2 752.2h0M359.0 751.4h0M380.0 751.4h0M383.4 751.2h0M395.8 753.0h0M439.7 752.7h0M451.9 752.4h0M461.3 751.5h0M525.2 752.0h0M525.7 751.1h0M526.0 752.0h0M527.3 752.4h0M531.9 752.6h0M540.2 752.4h0M587.0 752.0h0M591.1 752.8h0M599.7 751.4h0M600.2 751.3h0M628.5 752.0h0M650.6 751.7h0M662.0 752.8h0M664.4 751.7h0M667.5 752.6h0M670.1 751.1h0M815.8 752.8h0M816.0 751.5h0M824.6 752.3h0M824.9 752.9h0M827.2 751.8h0M834.0 751.2h0M834.2 752.5h0M858.1 752.7h0M906.7 751.2h0M929.5 751.6h0M944.6 751.2h0M998.9 751.4h0M1003.3 751.6h0M1004.6 752.1h0M1012.6 751.7h0M1026.7 751.3h0M1032.6 752.7h0M1052.1 752.2h0M1090.5 752.7h0M1114.4 751.8h0M1132.6 752.4h0M1143.5 753.0h0M1143.8 752.0h0M1145.1 752.7h0M1152.9 752.5h0M1165.1 751.2h0M1189.0 752.5h0M1189.2 751.2h0M1206.4 751.6h0M1217.8 751.1h0M1219.4 752.6h0M1224.3 751.0h0M1261.7 751.0h0M1274.9 751.5h0M1275.2 751.6h0M1287.7 751.1h0M1325.8 752.4h0M1340.1 751.4h0M1354.4 751.8h0M1406.1 751.2h0M1406.9 752.7h0M1430.0 752.8h0M1430.2 752.5h0M1431.3 752.8h0M1459.6 752.7h0M1469.4 752.4h0M1473.9 752.1h0M1501.9 751.2h0M1536.2 752.3h0" stroke="#ee2616" stroke-width="3.6" stroke-linecap="round" fill="none"/>
<path d="M256.9 747.1h0M268.1 748.7h0M273.8 747.5h0M282.4 748.0h0M283.9 748.7h0M288.1 748.4h0M288.9 748.7h0M290.1 747.8h0M293.0 748.6h0M307.5 748.1h0M309.1 747.6h0M310.7 747.4h0M319.2 748.7h0M328.3 747.1h0M339.0 748.7h0M343.4 748.3h0M343.9 747.5h0M344.4 748.9h0M345.7 748.1h0M350.1 747.1h0M359.2 747.3h0M373.8 748.4h0M382.3 747.8h0M398.4 748.7h0M433.0 747.5h0M447.0 749.0h0M456.1 747.8h0M457.7 747.6h0M463.9 748.0h0M502.8 748.9h0M505.7 748.8h0M521.0 748.1h0M523.9 747.4h0M524.1 747.8h0M527.0 747.9h0M539.5 748.5h0M589.6 747.4h0M590.9 747.9h0M591.4 747.6h0M629.1 748.1h0M650.4 747.1h0M656.8 748.3h0M698.7 748.8h0M722.3 748.2h0M758.6 747.5h0M759.9 747.9h0M783.6 747.9h0M835.5 748.5h0M851.9 748.7h0M862.3 747.1h0M869.3 747.5h0M874.0 747.8h0M888.2 748.2h0M901.5 747.3h0M922.0 747.3h0M944.9 747.2h0M995.0 747.5h0M998.4 748.7h0M1020.2 747.8h0M1051.8 748.8h0M1088.2 748.2h0M1103.8 747.6h0M1107.7 747.1h0M1145.9 748.7h0M1162.0 747.7h0M1191.3 747.7h0M1217.0 747.4h0M1247.9 748.6h0M1278.8 747.8h0M1287.1 747.1h0M1287.9 747.2h0M1288.4 747.6h0M1323.0 747.2h0M1344.5 747.5h0M1354.1 748.2h0M1383.5 747.2h0M1390.8 748.6h0M1391.8 748.7h0M1425.0 747.0h0M1428.7 747.1h0M1430.5 748.9h0M1443.0 748.3h0M1448.7 747.9h0M1452.3 747.3h0M1459.8 748.8h0M1460.4 748.2h0M1496.2 748.5h0M1498.0 748.2h0M1532.6 748.4h0M1552.3 748.5h0" stroke="#ec3718" stroke-width="3.6" stroke-linecap="round" fill="none"/>
<path d="M257.9 766.3h0M280.3 766.9h0M286.8 766.8h0M287.0 766.5h0M293.3 766.2h0M303.7 765.7h0M308.3 766.4h0M312.0 766.6h0M360.8 766.5h0M367.8 766.8h0M368.8 766.8h0M369.1 765.2h0M378.4 765.2h0M404.2 766.3h0M448.6 765.4h0M452.7 766.5h0M454.8 765.1h0M455.6 766.6h0M480.0 765.9h0M501.0 765.7h0M506.5 765.0h0M523.6 765.8h0M560.8 765.2h0M589.8 766.2h0M596.1 766.5h0M604.1 765.8h0M650.1 765.1h0M664.1 765.1h0M683.3 765.7h0M683.6 765.0h0M695.8 766.7h0M696.8 765.1h0M697.4 766.8h0M711.9 765.4h0M715.0 765.7h0M722.8 766.6h0M725.4 766.4h0M765.9 765.9h0M766.4 766.1h0M817.3 765.4h0M817.9 766.2h0M820.5 765.8h0M838.1 766.3h0M850.3 766.3h0M859.7 765.9h0M900.7 766.2h0M927.5 765.7h0M959.1 765.2h0M992.9 765.0h0M1004.1 765.8h0M1106.4 765.4h0M1131.6 766.3h0M1144.3 765.3h0M1160.1 766.2h0M1188.2 766.4h0M1188.5 766.9h0M1223.3 766.3h0M1225.1 765.0h0M1231.6 765.7h0M1264.5 766.2h0M1275.5 765.1h0M1277.8 766.2h0M1278.0 766.1h0M1305.8 766.9h0M1306.9 766.9h0M1341.9 766.9h0M1342.2 766.4h0M1375.7 765.4h0M1390.5 766.7h0M1394.4 766.5h0M1469.7 765.9h0M1471.0 765.7h0M1474.1 765.2h0M1478.5 765.2h0M1478.8 766.9h0M1503.5 766.7h0M1504.8 767.0h0M1531.0 766.0h0M1531.3 766.4h0M1533.9 766.0h0" stroke="#f60b0a" stroke-width="3.6" stroke-linecap="round" fill="none"/>
<path d="M258.5 759.2h0M274.6 760.2h0M289.4 759.3h0M292.7 759.9h0M293.8 759.8h0M374.8 760.0h0M375.9 760.6h0M376.4 759.5h0M376.6 759.6h0M377.1 759.6h0M391.2 759.2h0M396.1 759.8h0M405.7 760.1h0M434.5 760.9h0M448.8 760.6h0M464.1 759.1h0M501.8 759.0h0M506.2 760.8h0M510.9 761.0h0M603.3 759.2h0M603.9 760.1h0M604.4 759.9h0M616.1 759.1h0M622.6 760.8h0M630.6 760.7h0M697.1 759.2h0M722.5 760.8h0M751.1 760.4h0M821.0 759.5h0M822.0 760.1h0M859.2 759.5h0M888.0 760.8h0M920.4 760.4h0M928.8 759.2h0M929.3 759.8h0M958.9 760.6h0M960.7 759.6h0M965.1 759.5h0M965.4 759.2h0M983.8 760.5h0M992.4 760.5h0M998.6 760.2h0M1003.5 759.8h0M1026.4 760.7h0M1090.3 759.6h0M1137.6 760.9h0M1220.9 759.1h0M1226.9 759.4h0M1343.5 759.0h0M1373.6 760.0h0M1373.9 759.2h0M1374.1 760.3h0M1391.5 760.3h0M1426.3 760.8h0M1429.5 760.1h0M1449.2 760.9h0M1450.7 760.7h0M1471.3 760.4h0M1471.5 759.9h0M1471.8 759.8h0M1472.3 759.7h0M1497.2 760.3h0M1530.7 760.6h0M1531.8 760.1h0" stroke="#f21110" stroke-width="3.6" stroke-linecap="round" fill="none"/>
<path d="M259.0 739.2h0M265.7 740.2h0M267.6 740.7h0M268.3 740.9h0M273.0 739.4h0M275.3 739.9h0M285.0 740.2h0M286.0 739.0h0M318.2 739.1h0M339.2 740.3h0M358.7 739.3h0M359.7 740.1h0M391.4 740.9h0M395.1 740.6h0M395.6 739.9h0M397.1 739.3h0M413.2 739.3h0M435.3 740.4h0M444.7 739.7h0M456.9 740.5h0M462.3 740.0h0M487.5 740.8h0M488.0 740.9h0M490.9 739.5h0M515.6 741.0h0M518.7 739.3h0M524.9 740.5h0M534.8 739.5h0M539.2 739.4h0M549.8 739.4h0M563.6 740.1h0M573.5 740.6h0M575.6 740.5h0M587.8 741.0h0M600.5 739.3h0M602.0 740.8h0M620.5 740.1h0M624.1 739.7h0M626.7 740.3h0M630.1 740.4h0M634.8 740.2h0M636.3 740.4h0M657.1 740.6h0M658.1 740.8h0M672.2 739.5h0M694.5 739.0h0M698.9 740.2h0M726.2 739.6h0M751.4 740.9h0M752.2 740.3h0M758.9 740.2h0M771.4 740.8h0M777.3 739.7h0M824.4 740.0h0M834.5 739.6h0M834.7 740.9h0M835.0 739.2h0M837.3 739.2h0M837.9 740.4h0M840.5 739.7h0M875.0 740.1h0M875.3 739.9h0M887.7 740.0h0M897.6 740.2h0M922.5 739.6h0M923.3 739.6h0M945.9 740.4h0M952.1 740.9h0M957.6 740.7h0M976.5 740.4h0M986.1 739.0h0M1000.2 739.8h0M1027.2 740.2h0M1040.4 739.4h0M1070.8 740.5h0M1086.4 740.5h0M1088.5 739.7h0M1108.2 740.7h0M1154.2 740.8h0M1159.4 740.1h0M1163.8 740.4h0M1178.6 739.0h0M1178.8 740.2h0M1202.0 740.1h0M1232.1 740.9h0M1236.8 739.8h0M1260.6 740.2h0M1262.5 740.2h0M1278.6 739.6h0M1339.3 741.0h0M1344.8 739.2h0M1345.1 740.8h0M1353.9 740.5h0M1354.9 740.5h0M1364.3 739.4h0M1381.4 739.1h0M1384.8 739.4h0M1394.9 740.2h0M1460.1 740.1h0M1469.2 739.2h0M1487.1 740.1h0M1499.3 740.6h0M1501.6 739.2h0M1518.5 740.0h0M1542.9 740.4h0M1543.7 739.6h0" stroke="#f1591c" stroke-width="3.6" stroke-linecap="round" fill="none"/>
<path d="M259.5 743.0h0M272.2 741.3h0M276.9 741.1h0M288.3 741.4h0M316.6 741.0h0M319.5 741.9h0M319.8 742.6h0M330.7 742.6h0M342.6 742.6h0M359.5 741.0h0M360.0 741.7h0M381.8 742.9h0M383.1 742.6h0M391.7 741.0h0M396.6 742.5h0M451.7 741.2h0M458.2 741.7h0M480.2 741.0h0M489.6 742.6h0M489.9 741.7h0M490.1 741.9h0M493.5 742.2h0M500.5 742.2h0M503.6 741.1h0M510.6 741.2h0M520.2 742.5h0M524.7 741.7h0M531.7 742.3h0M536.1 742.2h0M560.2 742.6h0M601.8 741.2h0M604.9 742.3h0M614.0 742.0h0M615.6 741.5h0M651.9 741.4h0M667.2 741.8h0M669.1 743.0h0M711.1 742.0h0M725.7 742.7h0M750.1 741.7h0M750.9 742.7h0M810.8 741.3h0M826.4 742.4h0M874.2 742.7h0M875.5 742.1h0M882.5 741.5h0M891.6 741.9h0M902.3 741.2h0M945.1 742.9h0M945.4 741.3h0M985.1 742.9h0M999.9 741.5h0M1032.1 741.6h0M1054.2 741.8h0M1089.0 741.4h0M1107.9 742.6h0M1121.2 741.9h0M1138.8 741.3h0M1153.4 742.9h0M1153.9 742.9h0M1214.7 741.2h0M1215.5 742.1h0M1216.2 742.7h0M1223.8 742.4h0M1226.1 741.8h0M1232.3 742.4h0M1236.5 741.0h0M1247.1 741.7h0M1265.8 742.2h0M1267.7 742.1h0M1305.6 741.5h0M1307.1 742.8h0M1330.2 741.8h0M1339.9 741.9h0M1388.2 742.3h0M1392.1 742.5h0M1393.1 742.3h0M1415.7 741.5h0M1424.8 742.7h0M1428.4 741.4h0M1436.7 741.9h0M1460.6 741.2h0M1479.3 742.6h0M1480.9 741.8h0M1482.2 741.1h0M1497.5 742.1h0M1499.1 742.8h0M1505.3 741.1h0M1505.5 742.4h0M1530.2 741.2h0M1535.4 742.9h0M1536.4 742.1h0M1542.7 741.8h0" stroke="#f0501c" stroke-width="3.6" stroke-linecap="round" fill="none"/>
<path d="M259.8 736.7h0M266.5 737.0h0M267.0 736.9h0M267.8 736.5h0M269.4 736.3h0M277.4 736.3h0M284.2 736.1h0M318.7 735.5h0M320.5 735.3h0M320.8 735.3h0M321.1 736.9h0M331.4 736.0h0M341.8 735.8h0M344.9 737.0h0M350.4 736.8h0M371.7 735.4h0M407.3 736.5h0M435.6 736.6h0M456.6 735.6h0M457.1 736.6h0M462.6 736.2h0M491.4 735.2h0M492.5 735.4h0M510.4 735.1h0M522.6 735.1h0M534.0 735.6h0M535.3 736.8h0M559.5 736.6h0M563.1 736.3h0M573.2 735.2h0M574.8 735.4h0M588.0 735.9h0M601.0 735.2h0M602.6 736.1h0M605.4 735.8h0M612.4 736.1h0M621.0 735.2h0M623.1 736.4h0M643.1 736.2h0M649.6 735.6h0M656.6 735.3h0M667.0 735.5h0M673.5 735.9h0M674.0 735.7h0M689.8 735.0h0M697.9 736.4h0M699.2 735.6h0M715.5 736.1h0M715.8 736.8h0M725.9 736.2h0M737.6 736.4h0M759.4 735.5h0M788.0 736.3h0M823.3 736.3h0M826.9 736.5h0M860.5 735.6h0M874.5 736.9h0M884.3 736.8h0M902.5 736.5h0M906.9 735.5h0M910.8 735.6h0M920.7 736.8h0M921.7 735.8h0M926.2 735.1h0M957.1 736.0h0M958.1 736.7h0M965.6 735.7h0M994.2 736.1h0M995.2 735.2h0M999.6 736.9h0M1005.6 736.7h0M1030.0 735.7h0M1041.2 736.0h0M1103.3 736.7h0M1142.2 735.4h0M1142.7 735.8h0M1143.0 736.9h0M1162.2 736.3h0M1190.0 736.4h0M1206.1 736.0h0M1246.9 735.2h0M1258.6 736.2h0M1265.1 735.5h0M1266.1 735.4h0M1267.4 736.0h0M1269.7 735.4h0M1291.8 735.8h0M1298.3 736.1h0M1308.2 735.3h0M1331.0 737.0h0M1358.3 735.5h0M1383.7 736.7h0M1393.4 736.9h0M1407.4 736.8h0M1422.2 735.1h0M1453.1 736.3h0M1461.9 736.6h0M1462.2 736.1h0M1481.1 737.0h0M1481.4 735.8h0M1482.7 736.5h0M1495.9 736.8h0M1497.8 735.4h0M1499.8 735.9h0M1502.7 735.6h0M1519.8 736.4h0M1527.6 736.6h0M1535.2 736.5h0M1542.2 735.7h0M1542.4 735.4h0" stroke="#f36c1d" stroke-width="3.6" stroke-linecap="round" fill="none"/>
<path d="M260.0 729.2h0M260.3 730.0h0M271.7 729.8h0M283.7 729.2h0M287.6 730.5h0M302.6 730.7h0M315.3 730.0h0M318.5 730.4h0M319.0 730.0h0M321.8 730.2h0M330.1 730.0h0M333.3 729.6h0M342.3 729.6h0M372.2 730.9h0M413.5 729.1h0M437.7 729.4h0M446.7 729.6h0M487.8 730.1h0M507.3 730.3h0M549.6 730.3h0M558.9 730.0h0M562.3 730.6h0M570.6 729.5h0M574.5 730.5h0M586.5 729.2h0M614.5 730.1h0M634.5 730.9h0M635.8 730.3h0M664.9 729.7h0M671.6 730.1h0M699.7 729.2h0M710.9 730.5h0M738.4 730.2h0M738.9 729.8h0M775.8 730.6h0M783.3 730.6h0M799.4 729.5h0M827.5 730.5h0M841.0 730.2h0M841.5 729.1h0M841.8 729.7h0M885.1 730.2h0M887.5 730.7h0M903.8 729.8h0M922.8 729.4h0M923.6 730.2h0M949.0 729.2h0M971.9 730.6h0M973.2 729.9h0M985.4 729.2h0M1002.0 730.2h0M1002.8 730.8h0M1015.2 729.9h0M1028.2 730.1h0M1038.9 730.8h0M1070.5 730.3h0M1072.9 730.3h0M1091.3 730.0h0M1108.5 729.4h0M1112.9 730.6h0M1115.2 730.1h0M1157.8 729.8h0M1163.5 729.8h0M1171.3 730.2h0M1208.4 730.0h0M1266.6 730.4h0M1270.8 730.4h0M1344.3 729.1h0M1392.8 730.0h0M1393.9 730.6h0M1407.1 729.4h0M1408.2 730.1h0M1416.2 729.2h0M1416.7 729.3h0M1417.2 731.0h0M1434.4 730.3h0M1468.9 730.0h0M1481.9 730.2h0M1486.8 730.8h0M1487.4 729.3h0M1487.6 730.3h0M1495.4 729.9h0M1505.8 730.9h0M1519.6 729.4h0M1520.3 730.3h0M1521.1 730.2h0M1528.1 729.2h0" stroke="#f58c21" stroke-width="3.6" stroke-linecap="round" fill="none"/>
<path d="M260.5 724.5h0M263.9 723.7h0M266.8 723.4h0M284.7 724.2h0M322.1 723.1h0M338.5 723.2h0M339.5 723.9h0M351.2 724.5h0M361.6 723.7h0M361.8 724.3h0M392.2 723.3h0M412.7 724.4h0M440.3 724.8h0M490.6 724.9h0M491.2 724.0h0M492.7 723.4h0M493.2 724.3h0M500.2 724.6h0M509.9 723.8h0M532.4 723.2h0M534.5 724.6h0M548.6 724.9h0M548.8 723.5h0M573.0 724.2h0M584.4 723.4h0M595.6 724.5h0M605.7 724.5h0M611.7 723.3h0M617.1 724.6h0M623.6 723.5h0M624.4 724.4h0M642.8 723.2h0M643.3 723.6h0M643.6 723.4h0M665.2 724.2h0M670.6 723.8h0M690.1 725.0h0M700.2 724.6h0M702.0 724.7h0M710.6 723.6h0M777.1 724.8h0M777.6 723.8h0M826.7 724.0h0M829.3 723.7h0M896.5 724.1h0M902.8 723.1h0M924.3 723.0h0M930.3 723.1h0M930.8 723.7h0M931.1 723.6h0M948.7 723.3h0M949.5 723.3h0M970.3 724.9h0M972.6 724.1h0M974.7 724.9h0M996.0 724.8h0M1019.6 724.6h0M1030.6 723.4h0M1040.2 724.7h0M1053.9 724.6h0M1057.3 724.8h0M1068.2 724.3h0M1089.2 724.1h0M1089.5 723.1h0M1095.2 724.3h0M1102.8 724.2h0M1128.2 723.4h0M1141.2 723.4h0M1172.1 723.1h0M1190.5 723.3h0M1197.3 724.7h0M1249.5 723.4h0M1257.5 724.0h0M1281.4 724.9h0M1323.2 724.2h0M1324.0 724.6h0M1337.0 723.2h0M1377.3 723.6h0M1396.5 723.9h0M1407.9 723.3h0M1415.9 724.1h0M1421.4 723.5h0M1500.9 724.1h0M1518.0 724.2h0M1527.1 724.7h0M1527.9 724.2h0M1540.9 723.4h0M1543.2 724.6h0M1560.6 724.6h0" stroke="#f5ad26" stroke-width="3.6" stroke-linecap="round" fill="none"/>
<path d="M261.1 707.9h0M317.2 707.6h0M324.4 707.8h0M336.1 708.7h0M347.3 707.8h0M347.8 707.4h0M348.1 708.9h0M354.0 708.3h0M362.3 707.9h0M372.0 707.5h0M394.3 707.7h0M418.2 707.8h0M441.0 708.6h0M441.3 707.1h0M445.7 708.9h0M494.8 708.4h0M495.3 707.3h0M498.2 708.8h0M538.2 708.4h0M585.9 707.4h0M595.3 708.6h0M606.7 708.2h0M625.7 708.0h0M645.9 707.3h0M648.8 708.0h0M649.1 708.3h0M660.7 708.1h0M674.8 707.2h0M704.4 708.6h0M706.4 707.7h0M707.0 708.8h0M736.3 707.1h0M743.1 708.4h0M757.6 708.1h0M832.7 707.1h0M845.9 707.2h0M852.9 707.9h0M856.0 708.4h0M864.6 707.8h0M918.1 708.9h0M924.9 708.8h0M953.4 708.8h0M969.8 707.4h0M973.7 708.6h0M1006.9 708.8h0M1039.6 707.0h0M1056.3 707.9h0M1061.5 708.8h0M1066.4 707.4h0M1067.7 708.3h0M1068.0 708.1h0M1072.1 708.4h0M1112.4 708.7h0M1120.7 708.5h0M1127.7 708.7h0M1133.4 707.6h0M1149.0 707.4h0M1214.2 707.9h0M1235.5 707.5h0M1243.0 708.5h0M1255.5 708.1h0M1258.1 708.8h0M1283.5 707.0h0M1292.6 707.8h0M1332.1 708.7h0M1355.7 707.1h0M1381.1 708.7h0M1386.9 707.8h0M1444.0 707.7h0M1462.7 708.5h0M1468.1 707.8h0M1486.3 707.3h0M1489.4 707.9h0M1491.5 707.7h0M1492.6 707.3h0M1506.3 707.6h0M1511.0 707.1h0" stroke="#f0da28" stroke-width="3.6" stroke-linecap="round" fill="none"/>
<path d="M261.3 706.7h0M316.1 707.0h0M332.7 705.8h0M335.6 706.8h0M346.2 706.6h0M352.2 706.9h0M367.0 706.5h0M408.3 706.5h0M414.8 706.1h0M440.8 706.6h0M441.6 705.7h0M484.9 706.3h0M486.0 706.4h0M498.9 705.3h0M516.3 705.2h0M538.4 705.8h0M558.7 706.7h0M581.5 706.5h0M581.8 705.2h0M583.6 706.4h0M584.6 706.3h0M586.2 706.9h0M607.0 706.6h0M607.2 706.1h0M607.5 706.8h0M611.1 705.6h0M625.4 705.1h0M644.6 705.6h0M647.2 706.1h0M658.7 706.0h0M658.9 706.9h0M676.6 705.3h0M702.8 705.7h0M709.8 706.4h0M727.0 705.8h0M736.1 706.9h0M748.5 706.3h0M748.8 706.3h0M761.0 705.3h0M761.2 705.7h0M797.9 705.4h0M798.1 706.0h0M833.2 705.1h0M842.3 706.7h0M845.1 705.7h0M864.1 705.1h0M908.0 705.4h0M908.2 706.6h0M911.9 706.0h0M917.1 705.6h0M942.3 706.7h0M947.4 706.8h0M953.7 706.7h0M1011.9 705.5h0M1016.0 706.2h0M1033.9 706.2h0M1043.3 705.3h0M1045.9 705.6h0M1049.3 705.2h0M1054.4 706.0h0M1065.6 705.9h0M1120.2 706.1h0M1157.3 705.8h0M1179.4 705.4h0M1193.4 707.0h0M1198.1 706.1h0M1205.6 705.3h0M1205.9 705.2h0M1209.2 706.4h0M1209.7 705.3h0M1213.1 705.9h0M1242.2 706.0h0M1243.2 706.6h0M1250.3 706.8h0M1253.1 706.3h0M1271.8 706.7h0M1274.4 705.7h0M1279.9 706.6h0M1280.6 705.8h0M1282.2 706.9h0M1284.0 705.5h0M1286.4 706.5h0M1304.0 706.7h0M1308.7 706.8h0M1321.7 705.7h0M1356.2 705.8h0M1357.0 706.0h0M1421.1 706.6h0M1424.3 706.9h0M1444.3 707.0h0M1464.3 706.4h0M1489.2 706.7h0M1510.2 706.8h0M1510.7 706.7h0M1521.6 706.5h0M1554.6 706.8h0M1559.8 705.7h0" stroke="#efdf28" stroke-width="3.6" stroke-linecap="round" fill="none"/>
<path d="M261.6 695.9h0M261.8 696.7h0M300.8 696.7h0M301.1 696.0h0M322.9 696.7h0M327.3 696.6h0M334.8 696.7h0M356.9 695.9h0M357.7 696.0h0M401.0 695.7h0M402.1 696.6h0M411.7 695.0h0M412.2 696.4h0M416.1 696.7h0M470.4 696.5h0M485.7 695.6h0M497.6 696.2h0M497.9 695.2h0M548.0 696.8h0M566.5 695.5h0M577.4 695.2h0M620.0 696.6h0M637.4 696.1h0M641.3 695.4h0M665.4 696.7h0M691.1 696.8h0M735.8 696.2h0M753.5 696.8h0M755.5 696.8h0M773.7 695.5h0M789.3 695.8h0M790.1 695.9h0M790.6 696.3h0M801.8 696.8h0M804.6 695.7h0M804.9 696.1h0M810.1 695.8h0M854.0 695.4h0M867.7 696.5h0M878.6 695.7h0M954.7 695.2h0M955.8 695.6h0M975.8 695.8h0M1028.7 696.8h0M1043.0 696.9h0M1049.8 696.0h0M1050.3 696.0h0M1056.5 695.1h0M1058.3 696.9h0M1058.9 696.6h0M1064.6 696.6h0M1091.8 695.5h0M1117.0 696.6h0M1120.4 695.6h0M1122.0 695.2h0M1172.9 697.0h0M1192.3 695.8h0M1203.3 695.6h0M1210.5 695.4h0M1234.9 696.7h0M1242.5 696.5h0M1251.6 696.5h0M1252.3 696.7h0M1254.2 696.4h0M1271.3 696.8h0M1272.3 696.0h0M1273.9 696.1h0M1274.2 696.3h0M1318.0 696.1h0M1320.4 696.4h0M1336.5 696.3h0M1403.2 695.7h0M1434.9 696.9h0M1445.3 696.2h0M1457.5 695.5h0M1491.3 695.9h0M1508.7 695.8h0M1508.9 696.1h0M1509.7 696.9h0M1510.0 695.3h0M1522.4 696.5h0" stroke="#d9ef28" stroke-width="3.6" stroke-linecap="round" fill="none"/>
<path d="M262.1 689.8h0M296.1 690.2h0M335.1 689.1h0M346.8 690.3h0M347.0 690.6h0M353.5 690.6h0M354.8 690.3h0M356.6 690.8h0M392.7 689.6h0M401.6 689.4h0M417.9 689.6h0M470.9 690.3h0M471.7 689.3h0M471.9 689.7h0M498.4 689.4h0M508.6 690.7h0M568.3 689.4h0M576.9 690.9h0M595.0 690.7h0M608.3 689.7h0M617.9 689.3h0M640.7 690.1h0M644.4 689.2h0M645.7 689.2h0M653.5 689.0h0M655.5 690.2h0M660.2 689.4h0M693.7 689.0h0M703.9 689.2h0M743.6 690.5h0M754.8 690.2h0M791.1 690.9h0M809.3 690.1h0M809.8 690.5h0M842.8 689.7h0M843.3 689.3h0M843.6 689.3h0M853.4 690.8h0M863.3 690.1h0M867.2 690.8h0M892.4 690.7h0M912.9 689.2h0M941.2 690.7h0M953.9 690.7h0M969.0 690.2h0M1034.4 689.0h0M1045.6 690.2h0M1050.0 689.5h0M1058.1 690.6h0M1060.7 690.5h0M1061.2 690.9h0M1063.0 691.0h0M1101.5 690.0h0M1123.0 691.0h0M1203.0 690.1h0M1213.4 689.2h0M1213.9 690.0h0M1245.3 690.7h0M1255.2 690.4h0M1296.2 689.2h0M1299.3 690.5h0M1312.8 690.6h0M1313.1 690.1h0M1317.5 689.4h0M1320.1 689.7h0M1446.1 689.6h0M1457.0 690.0h0M1458.5 689.9h0M1483.2 690.5h0M1493.1 690.7h0M1495.2 690.6h0M1507.9 690.3h0M1509.2 690.8h0M1546.8 691.0h0" stroke="#cdf028" stroke-width="3.6" stroke-linecap="round" fill="none"/>
<path d="M262.4 677.3h0M325.5 678.5h0M411.9 678.8h0M424.4 677.1h0M495.8 677.3h0M508.8 678.6h0M517.1 678.1h0M517.4 678.5h0M567.0 678.7h0M577.9 677.5h0M608.5 677.9h0M609.8 678.8h0M618.7 678.4h0M654.8 677.9h0M655.8 677.6h0M691.4 678.7h0M705.7 678.5h0M719.2 678.6h0M727.5 678.6h0M733.2 677.9h0M733.7 679.0h0M747.7 678.0h0M763.8 678.6h0M774.5 677.4h0M782.3 679.0h0M796.6 678.7h0M805.1 677.2h0M843.1 677.7h0M865.9 678.9h0M879.7 677.8h0M912.6 678.9h0M1011.1 677.6h0M1043.5 678.3h0M1060.9 678.5h0M1069.2 677.9h0M1077.3 678.8h0M1097.3 677.5h0M1109.2 677.6h0M1111.6 677.5h0M1125.6 677.5h0M1148.7 677.8h0M1156.8 677.3h0M1180.7 677.1h0M1210.8 678.9h0M1244.0 678.8h0M1244.5 677.8h0M1254.7 677.4h0M1315.7 678.0h0M1333.1 677.1h0M1368.2 678.2h0M1379.6 677.8h0M1463.0 678.9h0M1466.6 678.9h0M1547.6 677.2h0" stroke="#b0ed28" stroke-width="3.6" stroke-linecap="round" fill="none"/>
<path d="M262.6 716.7h0M263.4 715.7h0M269.9 716.8h0M270.2 716.7h0M283.1 715.7h0M301.8 716.7h0M310.4 716.8h0M326.5 715.1h0M331.7 716.7h0M469.1 716.6h0M498.7 715.4h0M515.8 716.4h0M536.6 716.6h0M543.9 715.6h0M572.7 715.7h0M576.6 716.5h0M582.1 716.0h0M606.2 716.8h0M610.6 716.2h0M610.9 715.2h0M633.2 715.2h0M634.0 716.4h0M641.8 717.0h0M642.3 715.9h0M644.1 717.0h0M648.0 716.1h0M675.0 715.9h0M677.6 715.7h0M700.5 715.4h0M700.7 715.1h0M701.5 715.8h0M702.3 715.7h0M708.8 716.0h0M716.6 716.0h0M750.3 716.8h0M776.0 716.6h0M778.1 716.5h0M783.1 715.9h0M800.5 715.0h0M823.8 715.2h0M828.5 715.1h0M829.0 715.5h0M861.0 716.9h0M876.8 716.6h0M877.3 716.8h0M892.1 716.3h0M907.5 716.1h0M910.3 715.9h0M918.9 715.6h0M944.1 716.5h0M953.2 715.2h0M970.0 715.2h0M995.8 715.3h0M996.3 716.1h0M1028.5 715.1h0M1029.8 715.3h0M1037.8 715.5h0M1041.7 717.0h0M1052.9 715.4h0M1061.7 716.2h0M1062.2 715.4h0M1068.5 716.9h0M1091.6 716.9h0M1096.0 716.9h0M1115.5 716.9h0M1140.9 715.0h0M1146.4 716.6h0M1176.5 715.6h0M1177.0 716.4h0M1191.8 716.3h0M1193.9 716.6h0M1194.9 716.7h0M1246.6 716.9h0M1282.7 716.0h0M1395.4 716.1h0M1433.3 717.0h0M1433.6 717.0h0M1435.2 715.3h0M1443.5 716.6h0M1443.7 715.9h0M1517.8 715.8h0M1523.7 715.1h0M1537.2 715.6h0" stroke="#f4c428" stroke-width="3.6" stroke-linecap="round" fill="none"/>
<path d="M262.9 738.4h0M264.2 737.4h0M266.3 738.9h0M268.9 738.1h0M269.1 738.5h0M272.0 738.0h0M282.1 738.8h0M287.3 737.8h0M294.6 737.9h0M314.6 738.4h0M329.9 738.9h0M330.9 737.5h0M333.8 737.7h0M349.9 737.4h0M380.5 738.5h0M382.9 738.8h0M397.7 737.1h0M434.8 737.2h0M437.9 738.0h0M444.4 737.6h0M492.2 738.4h0M505.4 737.6h0M520.0 738.8h0M526.2 737.7h0M526.5 738.7h0M535.6 738.8h0M538.9 737.1h0M543.4 737.5h0M564.9 737.4h0M587.2 738.0h0M590.6 737.1h0M626.2 737.0h0M651.7 737.3h0M652.2 738.8h0M657.6 737.2h0M666.7 737.8h0M670.3 738.4h0M671.1 738.0h0M673.2 737.2h0M674.2 738.4h0M741.0 738.4h0M765.4 738.9h0M771.6 737.9h0M826.2 737.8h0M827.7 737.3h0M869.0 737.1h0M884.9 738.3h0M922.3 738.9h0M926.7 737.5h0M928.5 737.3h0M951.9 737.9h0M976.3 737.1h0M994.7 737.5h0M999.4 737.3h0M1006.1 738.8h0M1012.4 737.1h0M1013.4 738.7h0M1032.9 738.3h0M1085.4 737.5h0M1089.8 737.9h0M1113.4 737.8h0M1133.9 737.6h0M1138.3 737.4h0M1146.1 738.2h0M1150.5 739.0h0M1153.7 737.4h0M1154.4 737.4h0M1154.7 737.1h0M1154.9 737.5h0M1164.0 738.1h0M1164.3 738.9h0M1178.3 738.0h0M1189.7 738.1h0M1196.5 738.3h0M1197.0 738.3h0M1215.7 737.8h0M1216.0 737.4h0M1218.6 737.9h0M1248.4 737.7h0M1256.0 739.0h0M1256.2 737.2h0M1261.4 738.7h0M1268.4 738.7h0M1307.4 737.4h0M1324.3 738.7h0M1324.5 738.6h0M1330.8 737.1h0M1384.3 738.1h0M1387.4 737.3h0M1387.9 737.3h0M1388.4 738.5h0M1396.0 737.7h0M1408.4 738.3h0M1414.6 737.5h0M1421.7 738.2h0M1430.8 738.8h0M1432.3 737.2h0M1436.5 737.5h0M1443.2 738.3h0M1461.4 737.3h0M1461.7 738.5h0M1482.4 737.2h0M1500.1 738.1h0M1553.6 737.1h0" stroke="#f2631d" stroke-width="3.6" stroke-linecap="round" fill="none"/>
<path d="M263.1 726.1h0M302.4 725.3h0M352.5 725.9h0M403.1 725.2h0M403.6 726.9h0M436.6 726.0h0M463.4 726.9h0M469.6 726.5h0M491.9 725.1h0M493.0 725.1h0M504.7 726.4h0M519.7 725.7h0M561.8 725.5h0M562.8 725.8h0M571.7 725.4h0M575.0 726.0h0M591.7 726.2h0M605.2 725.7h0M635.0 725.9h0M677.1 725.7h0M708.5 726.1h0M709.6 726.4h0M738.7 725.6h0M740.7 725.5h0M749.0 726.3h0M776.6 726.3h0M825.4 726.8h0M825.9 725.0h0M828.0 725.9h0M833.4 725.2h0M852.4 725.8h0M903.6 725.1h0M923.0 726.5h0M952.6 725.7h0M974.2 726.3h0M985.6 726.6h0M1005.9 725.4h0M1013.2 725.8h0M1019.4 725.2h0M1019.9 726.9h0M1031.3 726.8h0M1039.4 726.6h0M1052.4 725.7h0M1073.1 725.3h0M1087.7 725.7h0M1094.7 725.8h0M1133.7 725.5h0M1139.6 726.1h0M1140.1 725.9h0M1142.0 726.8h0M1158.6 726.1h0M1172.3 726.1h0M1249.0 725.7h0M1257.3 726.6h0M1265.6 726.2h0M1284.5 726.2h0M1292.1 726.8h0M1305.1 726.4h0M1307.7 725.6h0M1307.9 725.8h0M1323.8 725.5h0M1376.5 725.1h0M1387.6 726.9h0M1393.6 726.2h0M1407.6 726.1h0M1423.5 725.4h0M1424.5 725.1h0M1425.3 725.1h0M1438.0 725.7h0M1453.3 725.3h0M1454.4 725.2h0M1468.7 726.5h0M1486.6 726.8h0M1500.6 726.2h0M1518.3 726.8h0M1519.3 725.9h0M1520.9 725.9h0M1537.0 725.3h0M1544.2 726.2h0M1547.9 725.3h0" stroke="#f5a425" stroke-width="3.6" stroke-linecap="round" fill="none"/>
<path d="M263.7 709.7h0M322.6 709.9h0M334.6 710.0h0M348.8 709.7h0M349.1 711.0h0M362.1 710.1h0M393.2 710.5h0M408.6 709.0h0M469.9 709.1h0M481.0 710.6h0M485.4 710.5h0M507.5 710.7h0M507.8 710.1h0M508.0 709.1h0M557.9 709.1h0M614.8 709.6h0M617.4 709.7h0M617.6 709.0h0M628.0 709.4h0M646.2 710.5h0M648.5 710.5h0M659.4 710.0h0M660.0 710.3h0M760.7 710.6h0M764.6 709.7h0M764.9 709.8h0M772.2 710.1h0M788.8 709.5h0M789.8 711.0h0M802.0 710.5h0M843.8 709.5h0M855.5 709.5h0M856.3 709.4h0M864.9 710.2h0M876.0 709.9h0M885.4 710.4h0M895.8 710.7h0M908.8 709.5h0M909.3 711.0h0M916.5 709.3h0M919.9 710.8h0M923.8 710.1h0M925.1 709.7h0M943.8 709.2h0M946.9 709.5h0M956.0 710.0h0M1011.6 709.6h0M1047.2 710.0h0M1049.0 710.1h0M1065.4 709.3h0M1095.5 710.9h0M1096.3 709.6h0M1102.5 710.2h0M1112.1 710.9h0M1121.4 710.6h0M1197.8 710.0h0M1200.9 710.4h0M1209.0 709.9h0M1214.4 709.6h0M1233.1 709.4h0M1257.0 709.4h0M1257.8 709.0h0M1266.4 710.6h0M1271.6 710.4h0M1272.1 710.0h0M1280.4 709.6h0M1283.0 710.6h0M1299.1 709.1h0M1380.9 710.8h0M1396.7 709.1h0M1417.8 710.3h0M1418.3 709.2h0M1419.3 709.9h0M1423.2 709.5h0M1457.8 710.0h0M1459.1 710.9h0M1463.5 709.3h0M1463.7 710.2h0M1492.3 709.0h0M1494.1 710.3h0M1525.3 709.6h0M1528.4 709.1h0M1529.2 711.0h0M1536.7 711.0h0M1538.5 709.8h0" stroke="#f1d528" stroke-width="3.6" stroke-linecap="round" fill="none"/>
<path d="M264.7 749.7h0M265.5 749.7h0M285.7 749.3h0M289.9 750.2h0M321.3 750.9h0M338.7 749.7h0M343.1 750.1h0M344.7 750.8h0M374.6 750.2h0M382.6 749.9h0M396.4 749.5h0M407.0 749.8h0M452.2 749.2h0M489.3 750.5h0M503.9 750.0h0M520.5 750.1h0M524.4 750.9h0M526.7 749.7h0M531.2 749.5h0M535.0 749.3h0M542.8 750.3h0M543.1 750.7h0M563.9 750.8h0M595.8 750.6h0M661.8 750.6h0M669.6 750.8h0M669.8 750.1h0M672.4 750.2h0M682.3 749.4h0M682.6 749.3h0M742.5 749.5h0M766.7 749.5h0M811.1 751.0h0M821.2 749.4h0M822.3 750.7h0M823.1 750.1h0M850.6 750.2h0M858.4 750.9h0M858.9 750.6h0M878.1 750.7h0M882.8 750.8h0M891.4 749.5h0M901.7 749.7h0M906.4 750.3h0M958.4 749.2h0M976.8 749.8h0M984.8 750.8h0M997.1 750.8h0M1005.1 750.0h0M1006.4 749.2h0M1031.9 750.7h0M1090.8 749.1h0M1114.2 749.4h0M1143.3 750.3h0M1150.8 749.7h0M1151.3 749.2h0M1161.2 750.8h0M1164.8 749.3h0M1195.5 750.0h0M1195.7 749.4h0M1196.8 750.5h0M1206.6 750.4h0M1206.9 750.9h0M1207.1 750.9h0M1217.5 750.5h0M1241.2 750.5h0M1269.5 750.5h0M1330.0 750.1h0M1337.3 750.6h0M1343.8 750.8h0M1345.3 750.3h0M1358.6 750.9h0M1363.5 750.2h0M1373.1 750.8h0M1391.0 749.9h0M1405.6 750.7h0M1413.4 749.9h0M1414.4 749.8h0M1425.8 750.8h0M1431.8 750.0h0M1432.0 750.3h0M1438.5 750.1h0M1438.8 750.1h0M1452.6 749.6h0M1459.3 749.4h0M1472.0 750.1h0M1480.1 750.0h0M1480.6 749.9h0M1501.4 749.4h0M1502.9 750.3h0M1505.0 750.6h0M1532.3 750.4h0M1534.6 750.6h0M1535.7 749.6h0" stroke="#ed2f17" stroke-width="3.6" stroke-linecap="round" fill="none"/>
<path d="M265.2 763.7h0M276.6 764.2h0M292.5 763.9h0M307.0 763.9h0M307.3 764.5h0M308.6 763.9h0M314.0 763.5h0M329.6 763.6h0M447.5 764.0h0M454.3 763.9h0M468.0 763.5h0M479.2 764.5h0M596.3 764.4h0M663.9 764.1h0M683.9 763.0h0M684.4 764.4h0M787.0 764.1h0M811.9 763.8h0M812.9 763.0h0M815.5 764.9h0M817.6 764.1h0M818.9 763.3h0M850.1 764.6h0M851.1 763.9h0M859.4 763.6h0M869.8 764.5h0M890.8 763.7h0M899.4 764.0h0M901.2 763.4h0M950.0 763.1h0M959.4 764.8h0M993.2 763.9h0M993.4 763.2h0M996.8 764.9h0M997.3 764.9h0M1004.3 764.3h0M1104.6 763.7h0M1129.0 763.9h0M1135.5 763.2h0M1136.3 764.3h0M1151.6 763.3h0M1160.4 764.1h0M1166.1 764.8h0M1188.7 764.2h0M1218.1 764.1h0M1218.8 763.8h0M1220.7 763.1h0M1224.5 764.2h0M1224.8 764.6h0M1276.2 763.5h0M1291.3 764.9h0M1326.4 763.2h0M1338.8 763.6h0M1352.8 764.0h0M1372.8 764.3h0M1388.7 763.2h0M1427.9 763.2h0M1428.2 763.2h0M1429.2 764.3h0M1496.5 763.2h0M1498.8 763.6h0M1503.2 764.1h0M1533.3 764.2h0M1534.4 764.8h0M1551.3 763.3h0" stroke="#f50d0c" stroke-width="3.6" stroke-linecap="round" fill="none"/>
<path d="M266.0 744.4h0M273.3 743.9h0M275.1 744.3h0M290.4 743.7h0M328.6 743.7h0M331.2 744.6h0M341.6 743.3h0M343.6 744.6h0M358.5 743.3h0M361.0 744.6h0M361.3 743.7h0M371.4 744.1h0M381.6 744.7h0M396.9 744.4h0M403.9 743.1h0M468.6 743.2h0M468.8 743.8h0M503.4 744.1h0M504.1 744.1h0M515.3 744.2h0M518.9 744.6h0M520.8 744.0h0M533.2 744.2h0M533.7 743.2h0M540.0 743.7h0M559.2 743.2h0M564.1 743.6h0M587.5 744.7h0M601.3 744.8h0M602.3 743.9h0M628.8 744.9h0M629.3 743.4h0M649.3 744.3h0M651.1 744.1h0M652.4 744.9h0M657.4 744.7h0M672.9 743.9h0M694.8 744.3h0M722.0 744.9h0M751.6 744.6h0M821.5 743.6h0M821.8 745.0h0M825.1 743.7h0M851.6 744.9h0M856.8 744.5h0M882.3 743.6h0M891.9 744.3h0M902.0 743.3h0M906.2 744.7h0M911.1 743.4h0M921.2 744.1h0M926.4 743.9h0M952.4 744.1h0M999.1 744.1h0M1032.4 743.8h0M1051.3 743.3h0M1113.9 743.7h0M1128.7 743.2h0M1139.1 743.4h0M1153.1 744.7h0M1204.0 743.3h0M1214.9 744.3h0M1225.3 744.9h0M1225.6 745.0h0M1258.8 743.3h0M1262.7 744.1h0M1269.0 744.0h0M1270.0 743.9h0M1288.2 744.6h0M1337.8 744.4h0M1353.6 743.4h0M1358.8 743.5h0M1363.7 743.8h0M1408.9 744.1h0M1415.2 744.5h0M1495.7 744.6h0M1501.1 743.3h0M1530.5 743.1h0M1552.0 744.2h0" stroke="#ef481b" stroke-width="3.6" stroke-linecap="round" fill="none"/>
<path d="M268.6 734.8h0M282.9 733.4h0M290.7 733.5h0M309.4 734.8h0M330.4 735.0h0M345.5 734.2h0M346.0 734.1h0M392.0 734.2h0M397.4 734.6h0M414.3 734.8h0M456.4 734.2h0M463.6 734.7h0M491.7 733.1h0M499.5 734.7h0M504.4 734.1h0M521.5 734.2h0M533.0 733.5h0M534.3 733.3h0M556.6 734.5h0M559.7 733.7h0M564.7 733.6h0M566.0 734.4h0M575.8 734.0h0M586.7 734.9h0M604.6 734.0h0M627.2 733.1h0M629.6 733.3h0M629.8 734.6h0M652.7 733.5h0M671.9 734.7h0M749.6 733.1h0M750.6 734.3h0M799.2 733.6h0M824.1 734.5h0M829.5 734.3h0M833.7 733.6h0M837.6 734.6h0M903.0 733.0h0M907.2 733.0h0M911.6 734.6h0M920.2 734.4h0M921.5 733.3h0M925.4 734.1h0M927.2 733.6h0M956.8 733.3h0M972.9 733.9h0M985.9 734.3h0M991.1 733.2h0M991.6 734.3h0M1012.9 734.9h0M1015.5 733.3h0M1027.4 733.1h0M1093.1 734.7h0M1094.2 734.4h0M1134.4 733.9h0M1138.6 734.9h0M1161.4 733.2h0M1177.8 734.1h0M1179.1 734.0h0M1189.5 734.6h0M1194.2 733.2h0M1207.7 734.7h0M1216.8 734.0h0M1217.3 733.0h0M1225.8 734.0h0M1248.2 734.2h0M1248.7 733.3h0M1249.2 734.1h0M1261.2 734.2h0M1262.2 733.2h0M1270.3 733.2h0M1270.5 734.5h0M1322.5 733.5h0M1338.6 733.1h0M1364.0 735.0h0M1376.2 734.0h0M1377.0 733.9h0M1384.5 734.4h0M1395.7 733.1h0M1404.0 734.1h0M1422.4 734.2h0M1431.0 734.3h0M1448.4 733.4h0M1452.8 734.4h0M1462.4 734.6h0M1499.6 733.7h0M1502.4 734.4h0M1519.0 734.5h0M1528.7 733.2h0M1528.9 734.4h0M1529.7 734.1h0M1544.0 733.7h0M1548.1 733.1h0M1552.8 733.4h0" stroke="#f4751e" stroke-width="3.6" stroke-linecap="round" fill="none"/>
<path d="M269.6 731.7h0M277.2 732.3h0M283.4 731.8h0M309.6 731.2h0M320.0 732.2h0M333.5 732.2h0M341.3 731.9h0M342.1 731.3h0M345.2 731.3h0M350.9 731.6h0M351.4 731.7h0M395.3 731.2h0M413.8 731.7h0M435.1 731.7h0M437.1 731.7h0M440.5 732.4h0M457.9 732.6h0M486.7 732.1h0M490.4 733.0h0M522.1 732.8h0M522.3 731.7h0M531.4 731.5h0M536.3 732.3h0M538.7 732.7h0M560.0 732.4h0M563.4 732.3h0M571.4 731.9h0M574.3 731.2h0M614.3 733.0h0M620.7 731.3h0M626.5 731.6h0M643.9 731.4h0M658.4 731.0h0M664.6 732.4h0M673.7 731.1h0M678.1 732.0h0M694.2 732.2h0M716.1 731.8h0M721.8 731.1h0M738.1 732.2h0M739.2 731.5h0M754.0 732.0h0M758.1 731.4h0M758.4 732.0h0M825.7 731.5h0M840.2 732.7h0M860.7 732.5h0M868.8 732.5h0M878.4 732.7h0M897.1 732.1h0M910.6 731.7h0M911.4 732.9h0M945.6 732.1h0M949.3 732.1h0M951.3 732.3h0M951.6 731.5h0M952.9 732.3h0M957.3 731.1h0M972.4 731.2h0M974.5 731.5h0M975.0 732.0h0M986.4 732.6h0M991.3 732.4h0M1000.4 732.9h0M1000.9 731.3h0M1029.5 732.3h0M1030.3 732.3h0M1038.3 733.0h0M1039.1 732.7h0M1039.9 731.4h0M1041.5 731.2h0M1087.2 731.1h0M1087.9 732.9h0M1091.1 732.8h0M1103.5 732.0h0M1139.4 731.1h0M1139.9 731.4h0M1158.1 731.6h0M1158.8 732.8h0M1161.7 732.0h0M1177.5 731.1h0M1178.1 731.2h0M1191.0 732.8h0M1194.4 732.9h0M1194.7 732.4h0M1195.2 731.1h0M1197.5 731.4h0M1201.7 731.6h0M1202.2 731.3h0M1203.8 731.3h0M1215.2 731.4h0M1226.4 732.0h0M1255.7 731.7h0M1265.3 731.3h0M1267.9 732.8h0M1274.7 731.7h0M1298.0 731.9h0M1322.7 731.9h0M1325.1 732.3h0M1330.5 731.5h0M1331.3 732.4h0M1337.5 731.2h0M1338.0 732.8h0M1344.0 732.7h0M1372.3 731.6h0M1376.7 732.0h0M1425.6 732.8h0M1434.6 731.8h0M1435.9 732.9h0M1447.9 731.6h0M1460.9 731.1h0M1481.7 732.0h0M1498.3 732.9h0M1502.2 732.2h0M1520.6 731.7h0M1530.0 731.3h0M1552.6 732.4h0" stroke="#f5801f" stroke-width="3.6" stroke-linecap="round" fill="none"/>
<path d="M270.4 721.4h0M271.2 721.4h0M282.6 721.9h0M284.4 722.0h0M295.6 722.4h0M316.9 721.1h0M327.8 721.7h0M334.0 722.1h0M367.3 721.1h0M414.0 722.6h0M436.9 722.7h0M443.9 721.4h0M445.2 722.6h0M493.8 721.9h0M532.2 722.2h0M532.7 722.8h0M557.4 721.9h0M571.1 721.7h0M571.9 721.6h0M572.2 721.1h0M572.4 721.4h0M575.3 721.9h0M576.1 722.5h0M600.8 722.6h0M615.0 721.9h0M615.3 722.1h0M627.0 722.5h0M635.5 721.3h0M636.1 721.7h0M666.2 721.3h0M690.6 722.3h0M708.0 722.1h0M708.3 721.6h0M736.6 722.0h0M737.1 721.8h0M742.8 722.7h0M749.3 722.8h0M752.7 721.5h0M753.7 721.5h0M757.9 722.7h0M798.6 722.2h0M799.9 721.5h0M823.6 721.6h0M828.2 722.6h0M830.1 721.2h0M875.8 721.3h0M876.6 722.0h0M896.8 722.3h0M903.3 721.8h0M909.8 721.6h0M917.6 722.6h0M918.6 721.7h0M973.9 722.7h0M975.2 721.3h0M1006.7 722.7h0M1030.8 722.6h0M1046.7 721.2h0M1050.8 721.9h0M1053.1 721.7h0M1063.5 721.7h0M1070.3 721.8h0M1093.9 722.2h0M1116.3 722.4h0M1120.9 722.2h0M1140.4 722.1h0M1142.5 722.5h0M1150.0 722.3h0M1163.0 721.3h0M1177.3 721.4h0M1182.5 722.6h0M1198.8 722.2h0M1204.6 722.5h0M1232.9 722.7h0M1235.7 721.6h0M1241.4 721.7h0M1241.7 721.3h0M1249.7 721.8h0M1250.0 721.4h0M1256.5 722.3h0M1258.3 721.7h0M1260.1 721.4h0M1267.1 722.0h0M1271.0 722.4h0M1279.1 722.9h0M1281.2 721.5h0M1298.6 722.8h0M1304.8 722.2h0M1323.5 722.6h0M1356.5 721.6h0M1357.3 722.1h0M1357.5 721.6h0M1392.3 721.3h0M1395.2 722.6h0M1403.7 722.1h0M1423.0 721.5h0M1434.1 721.2h0M1435.4 722.1h0M1435.7 722.9h0M1447.1 722.7h0M1447.6 721.7h0M1453.6 721.5h0M1487.9 721.3h0M1493.9 721.1h0M1525.5 722.0h0M1526.8 722.0h0M1541.1 721.9h0" stroke="#f5b327" stroke-width="3.6" stroke-linecap="round" fill="none"/>
<path d="M270.9 698.6h0M295.9 698.8h0M309.9 698.7h0M323.4 698.0h0M326.2 697.5h0M327.0 697.5h0M337.4 697.9h0M340.5 697.9h0M341.1 698.6h0M354.6 697.1h0M400.0 698.0h0M401.3 697.1h0M402.6 697.2h0M418.4 697.2h0M429.3 698.9h0M496.1 698.2h0M509.6 698.2h0M518.2 697.7h0M544.1 697.3h0M558.2 697.6h0M582.6 698.5h0M585.7 697.5h0M591.9 697.8h0M593.2 697.3h0M646.5 697.7h0M646.7 698.1h0M675.3 698.9h0M675.5 699.0h0M704.9 698.5h0M705.4 697.6h0M709.0 698.1h0M748.3 698.7h0M763.3 697.8h0M763.6 698.4h0M790.3 698.4h0M800.7 697.4h0M801.0 698.4h0M801.5 698.7h0M804.4 698.1h0M863.6 698.6h0M878.9 698.4h0M885.6 698.9h0M912.1 698.7h0M924.1 698.6h0M939.7 698.1h0M943.3 697.8h0M954.5 697.4h0M966.1 697.9h0M1018.6 697.5h0M1034.2 698.0h0M1037.3 697.8h0M1058.6 697.5h0M1059.6 697.4h0M1060.2 697.4h0M1066.1 697.1h0M1067.4 697.8h0M1071.6 699.0h0M1084.3 698.4h0M1109.0 698.8h0M1111.8 697.6h0M1127.2 698.5h0M1162.7 698.6h0M1200.7 697.9h0M1251.3 698.5h0M1285.8 697.3h0M1292.9 698.1h0M1297.3 697.2h0M1369.5 697.7h0M1380.1 698.5h0M1385.3 698.0h0M1432.8 698.5h0M1458.0 698.7h0M1467.9 698.2h0M1485.0 697.0h0M1485.5 698.7h0M1491.8 697.7h0M1492.0 697.0h0M1493.6 697.7h0" stroke="#deec28" stroke-width="3.6" stroke-linecap="round" fill="none"/>
<path d="M272.5 745.3h0M274.8 745.1h0M281.8 745.7h0M285.2 745.9h0M285.5 746.1h0M328.8 745.9h0M342.9 746.7h0M350.7 745.6h0M367.5 746.3h0M398.2 745.1h0M440.0 745.3h0M448.3 745.5h0M478.4 745.3h0M488.3 745.9h0M489.1 746.2h0M502.3 745.6h0M506.7 745.0h0M521.3 745.5h0M533.5 745.1h0M535.8 745.7h0M561.5 745.7h0M565.2 745.6h0M573.7 746.9h0M589.3 746.1h0M590.4 746.4h0M602.8 746.6h0M612.7 746.4h0M616.3 747.0h0M621.3 746.9h0M623.3 745.9h0M628.3 746.5h0M630.4 745.9h0M649.8 745.6h0M657.9 746.6h0M668.0 746.8h0M689.6 746.9h0M698.1 746.9h0M698.4 746.5h0M760.2 745.2h0M787.7 745.8h0M822.8 745.5h0M860.2 747.0h0M884.6 745.9h0M898.1 746.2h0M950.6 745.6h0M972.1 746.5h0M1000.7 746.2h0M1005.4 745.7h0M1026.9 746.2h0M1040.7 746.8h0M1040.9 746.8h0M1051.6 745.7h0M1088.7 746.0h0M1113.7 745.9h0M1144.0 746.6h0M1151.1 745.8h0M1159.1 745.2h0M1160.7 745.2h0M1160.9 745.5h0M1164.6 746.8h0M1191.6 745.9h0M1208.2 745.3h0M1216.5 746.4h0M1223.5 745.9h0M1224.0 746.3h0M1231.8 747.0h0M1232.6 745.9h0M1259.1 745.2h0M1264.8 746.2h0M1286.9 745.8h0M1324.8 746.6h0M1339.1 745.9h0M1376.0 745.6h0M1394.1 746.9h0M1414.9 745.6h0M1417.0 746.8h0M1421.9 745.3h0M1426.1 745.6h0M1436.2 746.8h0M1439.1 746.8h0M1461.1 746.2h0M1518.8 745.5h0M1534.9 746.6h0M1551.8 746.5h0" stroke="#ed3f19" stroke-width="3.6" stroke-linecap="round" fill="none"/>
<path d="M275.6 720.7h0M276.1 720.5h0M276.4 721.0h0M302.1 720.9h0M316.4 721.0h0M338.2 720.0h0M349.6 720.2h0M353.0 720.8h0M380.3 720.8h0M403.4 720.7h0M431.4 720.1h0M431.7 719.5h0M435.8 720.6h0M436.1 719.2h0M446.0 720.8h0M480.5 719.2h0M480.8 720.1h0M486.5 720.4h0M499.7 720.3h0M500.0 720.7h0M518.4 719.6h0M519.2 720.3h0M549.1 720.3h0M557.1 720.2h0M562.6 720.0h0M570.9 720.0h0M584.1 719.2h0M605.9 719.9h0M612.2 720.4h0M620.2 720.7h0M624.6 719.3h0M634.3 720.8h0M666.5 719.5h0M671.4 720.9h0M701.8 719.8h0M707.5 720.7h0M737.9 720.3h0M739.9 719.7h0M740.2 721.0h0M760.5 720.8h0M852.7 719.8h0M856.6 719.7h0M887.2 720.8h0M897.3 720.2h0M910.1 720.6h0M915.8 719.1h0M925.6 719.4h0M940.4 719.5h0M948.5 719.5h0M970.6 719.8h0M986.9 720.3h0M987.2 719.6h0M1002.5 719.3h0M1038.1 719.3h0M1051.1 720.4h0M1072.6 720.5h0M1084.8 720.6h0M1086.6 720.0h0M1093.4 721.0h0M1113.1 720.1h0M1116.0 720.8h0M1128.5 720.4h0M1162.5 719.1h0M1190.8 720.2h0M1203.5 719.7h0M1298.8 719.5h0M1305.3 720.0h0M1355.4 720.2h0M1387.1 720.9h0M1403.5 720.1h0M1419.6 720.7h0M1447.4 720.5h0M1454.6 720.2h0M1488.1 720.2h0M1521.4 720.3h0M1524.5 719.8h0M1527.4 720.9h0M1539.0 719.8h0M1541.6 719.7h0M1553.1 720.4h0M1553.3 720.3h0" stroke="#f5b827" stroke-width="3.6" stroke-linecap="round" fill="none"/>
<path d="M286.3 759.0h0M371.2 758.9h0M376.9 757.3h0M377.4 757.5h0M380.8 757.0h0M432.5 757.2h0M432.7 757.2h0M433.2 758.7h0M448.0 758.4h0M451.2 757.4h0M454.5 758.6h0M458.4 757.8h0M500.8 757.4h0M503.1 757.5h0M515.0 757.3h0M539.7 758.0h0M542.6 757.8h0M561.0 757.1h0M601.5 758.4h0M613.5 758.0h0M613.7 759.0h0M650.9 758.8h0M668.5 759.0h0M669.3 757.4h0M678.4 757.4h0M696.6 757.4h0M697.6 758.3h0M765.7 757.0h0M787.2 758.3h0M787.5 758.0h0M857.1 758.0h0M877.6 758.0h0M877.9 757.2h0M891.1 758.6h0M904.1 759.0h0M950.8 758.4h0M958.6 758.3h0M996.5 758.4h0M1003.8 757.5h0M1106.9 758.4h0M1107.2 757.1h0M1138.1 757.3h0M1165.9 757.8h0M1171.1 757.5h0M1221.2 757.3h0M1221.4 757.8h0M1237.3 758.6h0M1247.7 758.9h0M1261.9 757.0h0M1277.5 758.8h0M1278.3 757.1h0M1287.4 757.1h0M1326.1 757.5h0M1340.9 757.3h0M1381.7 757.7h0M1431.5 758.2h0M1448.9 757.7h0M1473.6 757.5h0M1497.0 758.5h0M1548.4 757.7h0M1551.0 757.3h0" stroke="#f11412" stroke-width="3.6" stroke-linecap="round" fill="none"/>
<path d="M294.3 762.3h0M375.6 761.4h0M377.9 762.2h0M449.1 761.5h0M452.5 762.0h0M455.1 761.2h0M506.0 762.8h0M560.5 761.1h0M565.4 761.4h0M622.8 762.7h0M683.1 762.8h0M695.0 761.1h0M766.2 762.9h0M767.2 761.9h0M770.1 761.9h0M811.4 761.6h0M811.6 762.0h0M857.6 761.8h0M898.4 761.4h0M929.0 761.3h0M959.7 762.8h0M960.4 762.0h0M992.1 761.4h0M993.7 761.9h0M1085.9 762.4h0M1131.8 761.6h0M1132.4 762.2h0M1135.0 762.8h0M1137.3 763.0h0M1159.6 762.8h0M1187.9 762.9h0M1196.0 762.4h0M1218.3 761.0h0M1219.6 762.8h0M1219.9 762.4h0M1220.1 762.6h0M1222.0 763.0h0M1237.5 761.3h0M1277.3 761.8h0M1326.6 761.3h0M1341.2 762.8h0M1341.4 762.5h0M1342.7 761.5h0M1383.0 762.6h0M1404.5 762.5h0M1405.8 762.9h0M1429.7 761.5h0M1498.5 762.7h0M1549.7 762.0h0M1561.4 762.6h0M1561.6 762.9h0" stroke="#f30f0e" stroke-width="3.6" stroke-linecap="round" fill="none"/>
<path d="M295.1 703.9h0M301.3 704.7h0M315.1 703.0h0M337.7 703.5h0M352.0 703.9h0M357.4 703.7h0M394.5 704.7h0M441.8 703.1h0M444.2 703.2h0M495.1 704.5h0M516.1 703.4h0M582.3 704.7h0M633.5 704.7h0M637.1 703.9h0M647.0 704.7h0M652.9 703.1h0M661.0 704.1h0M676.8 704.0h0M690.9 703.5h0M717.1 703.5h0M753.2 703.4h0M754.5 703.8h0M757.1 703.8h0M757.3 704.2h0M772.7 703.2h0M788.5 703.8h0M828.8 704.6h0M832.9 703.2h0M845.6 704.4h0M846.2 703.5h0M853.2 703.3h0M924.6 704.3h0M931.3 704.9h0M931.6 704.9h0M932.1 704.2h0M942.8 704.3h0M946.4 703.6h0M948.2 704.3h0M1019.1 703.9h0M1059.4 703.2h0M1062.5 704.4h0M1063.8 704.3h0M1064.3 704.1h0M1066.7 703.4h0M1070.0 704.8h0M1071.3 703.2h0M1073.4 703.9h0M1084.6 704.3h0M1092.1 703.9h0M1092.4 704.5h0M1102.2 703.9h0M1112.6 705.0h0M1149.2 703.7h0M1171.8 704.6h0M1205.3 704.7h0M1209.5 703.9h0M1210.0 704.3h0M1233.9 704.2h0M1242.7 704.9h0M1251.0 703.3h0M1259.6 703.3h0M1279.3 703.9h0M1283.2 703.0h0M1283.8 703.5h0M1295.7 703.3h0M1296.0 703.5h0M1297.5 704.7h0M1297.8 704.8h0M1303.5 704.0h0M1304.3 703.3h0M1313.4 703.8h0M1318.3 703.1h0M1336.7 704.5h0M1446.9 704.9h0M1455.2 704.0h0M1464.0 703.6h0M1464.5 704.6h0M1488.7 704.7h0M1488.9 704.0h0M1494.4 704.5h0M1523.2 704.0h0M1540.3 703.5h0M1541.4 703.9h0M1547.1 703.8h0M1553.8 704.7h0" stroke="#ece328" stroke-width="3.6" stroke-linecap="round" fill="none"/>
<path d="M295.3 686.5h0M326.0 686.1h0M336.6 685.1h0M400.3 686.7h0M409.4 686.6h0M416.6 685.6h0M417.7 685.0h0M443.1 685.9h0M495.6 686.0h0M516.6 685.8h0M547.3 686.0h0M547.8 686.8h0M557.6 686.5h0M567.8 685.8h0M568.5 685.9h0M581.3 686.0h0M585.2 685.8h0M593.7 685.3h0M610.1 686.5h0M645.4 686.8h0M655.0 686.3h0M732.2 686.1h0M755.0 685.3h0M761.5 685.5h0M764.1 686.7h0M774.7 685.2h0M797.6 686.3h0M831.4 686.2h0M862.8 686.8h0M885.9 685.1h0M913.7 686.6h0M941.0 685.3h0M941.7 686.6h0M955.2 686.8h0M988.0 685.2h0M988.5 686.1h0M1049.5 685.1h0M1055.7 685.5h0M1069.5 685.8h0M1071.8 685.9h0M1075.5 686.4h0M1117.6 686.0h0M1124.6 686.0h0M1126.1 686.1h0M1212.6 686.2h0M1250.5 686.3h0M1254.9 686.5h0M1299.9 686.1h0M1356.0 686.4h0M1456.5 686.3h0M1483.5 687.0h0M1490.7 686.9h0M1525.0 685.7h0M1545.3 686.3h0M1558.8 686.5h0" stroke="#c5f028" stroke-width="3.6" stroke-linecap="round" fill="none"/>
<path d="M296.4 688.4h0M366.5 687.1h0M399.5 687.9h0M399.7 689.0h0M400.8 687.6h0M417.4 688.2h0M442.9 688.1h0M481.5 688.9h0M497.1 688.6h0M508.3 687.8h0M544.4 687.3h0M569.1 688.3h0M569.3 687.8h0M593.0 688.1h0M594.0 688.1h0M618.2 687.4h0M647.8 688.0h0M648.3 687.0h0M656.1 688.9h0M676.3 687.0h0M706.2 688.8h0M735.0 687.9h0M755.3 688.2h0M782.5 687.0h0M791.6 688.5h0M792.1 688.5h0M792.4 688.1h0M809.5 687.0h0M866.4 687.4h0M879.4 687.8h0M881.7 688.0h0M955.5 688.7h0M966.4 688.2h0M988.7 688.2h0M1057.8 688.1h0M1065.1 688.6h0M1116.5 689.0h0M1118.3 687.8h0M1124.0 687.8h0M1182.0 688.0h0M1192.6 687.7h0M1200.4 688.6h0M1202.5 687.5h0M1212.9 687.1h0M1245.6 688.9h0M1254.4 688.6h0M1286.1 688.7h0M1296.5 687.0h0M1300.6 688.9h0M1332.6 687.7h0M1370.5 687.2h0M1397.3 687.7h0M1490.0 687.3h0M1491.0 687.5h0M1494.9 687.6h0M1508.4 687.6h0M1539.3 687.8h0M1555.4 687.2h0" stroke="#c9f028" stroke-width="3.6" stroke-linecap="round" fill="none"/>
<path d="M296.6 675.5h0M356.1 675.4h0M416.9 676.3h0M477.4 676.9h0M482.3 675.2h0M482.6 677.0h0M516.9 676.9h0M566.7 675.2h0M619.2 675.0h0M640.5 675.8h0M732.4 675.4h0M755.8 675.7h0M762.8 675.0h0M854.5 675.0h0M1043.8 675.9h0M1059.9 676.3h0M1064.8 675.9h0M1073.9 675.9h0M1074.2 676.7h0M1074.4 675.7h0M1077.0 675.8h0M1078.3 675.6h0M1097.8 675.4h0M1099.6 676.3h0M1100.2 676.9h0M1100.7 675.3h0M1100.9 676.5h0M1118.1 676.5h0M1123.5 676.0h0M1124.3 675.7h0M1176.0 676.3h0M1180.1 675.5h0M1181.4 677.0h0M1253.9 675.4h0M1300.4 676.9h0M1311.3 675.1h0M1335.4 675.2h0M1379.9 676.7h0M1385.6 676.6h0M1465.8 675.7h0M1484.0 677.0h0M1490.2 675.8h0M1547.4 676.9h0M1559.0 675.8h0" stroke="#abed28" stroke-width="3.6" stroke-linecap="round" fill="none"/>
<path d="M296.9 661.7h0M366.0 661.4h0M419.2 662.8h0M421.8 662.1h0M471.4 662.1h0M473.2 661.5h0M474.3 662.1h0M474.5 661.6h0M476.4 661.5h0M484.4 661.8h0M546.5 662.1h0M727.7 661.1h0M747.0 661.7h0M802.8 661.6h0M932.9 662.6h0M966.9 661.6h0M968.5 662.4h0M1109.5 661.2h0M1111.1 662.3h0M1156.2 661.6h0M1175.7 662.0h0M1212.3 661.7h0M1273.4 661.2h0M1314.4 662.8h0M1314.9 661.9h0M1333.4 662.1h0M1334.4 661.5h0M1334.7 662.9h0M1334.9 663.0h0M1335.2 661.6h0M1371.8 661.4h0M1513.3 661.1h0M1514.9 661.3h0M1515.7 661.5h0" stroke="#7de428" stroke-width="3.6" stroke-linecap="round" fill="none"/>
<path d="M297.2 660.9h0M420.3 660.5h0M482.8 659.6h0M483.1 659.5h0M483.9 660.5h0M544.7 660.1h0M578.9 660.4h0M638.4 659.4h0M720.0 660.7h0M728.0 660.2h0M746.7 660.7h0M781.8 660.6h0M808.3 660.8h0M866.9 660.2h0M880.7 660.8h0M881.0 660.5h0M892.9 659.4h0M914.2 660.7h0M1008.2 659.5h0M1083.5 659.9h0M1098.6 660.0h0M1147.7 660.1h0M1211.3 659.1h0M1301.2 660.4h0M1302.2 660.9h0M1302.5 659.4h0M1399.1 659.8h0M1511.8 659.9h0M1515.2 660.3h0M1516.7 660.1h0" stroke="#76e228" stroke-width="3.6" stroke-linecap="round" fill="none"/>
<path d="M297.4 652.9h0M419.7 652.3h0M475.6 651.4h0M475.8 651.5h0M476.1 651.2h0M638.9 652.9h0M654.5 652.6h0M720.7 652.6h0M744.6 651.7h0M779.4 652.3h0M794.5 651.3h0M794.7 651.5h0M807.0 651.3h0M866.7 651.3h0M935.2 651.7h0M935.5 651.9h0M935.8 652.2h0M1076.0 652.0h0M1076.5 652.9h0M1147.2 652.8h0M1174.4 651.9h0M1174.7 651.7h0M1211.6 651.7h0M1211.8 652.7h0M1512.8 651.3h0" stroke="#60df28" stroke-width="3.6" stroke-linecap="round" fill="none"/>
<path d="M297.7 657.5h0M363.6 658.4h0M364.2 658.8h0M426.0 658.7h0M637.9 658.7h0M638.7 657.5h0M718.4 657.4h0M778.6 658.0h0M778.9 658.3h0M779.2 657.6h0M794.2 657.6h0M805.7 657.7h0M934.5 658.8h0M936.5 657.7h0M937.3 657.0h0M938.9 658.0h0M1008.0 658.1h0M1010.3 658.0h0M1010.6 657.6h0M1017.8 658.0h0M1018.1 658.2h0M1045.1 658.4h0M1109.8 657.1h0M1211.0 657.3h0M1301.4 658.0h0M1315.2 657.5h0M1367.1 658.5h0M1378.6 658.9h0M1398.3 659.0h0M1402.4 658.1h0M1466.8 658.3h0M1507.1 657.2h0M1512.0 658.7h0M1517.0 657.9h0M1517.2 658.6h0" stroke="#70e128" stroke-width="3.6" stroke-linecap="round" fill="none"/>
<path d="M297.9 653.4h0M420.0 653.4h0M424.9 654.9h0M427.8 654.9h0M475.1 654.3h0M483.4 654.2h0M578.7 653.3h0M729.6 654.5h0M746.2 654.2h0M746.4 654.0h0M762.3 653.2h0M779.7 654.5h0M935.0 654.2h0M936.3 654.5h0M937.1 653.1h0M1035.5 654.3h0M1044.3 653.4h0M1075.7 653.3h0M1080.2 654.5h0M1175.2 654.7h0M1272.9 653.5h0M1309.5 654.0h0M1366.6 653.8h0M1445.8 653.6h0M1511.5 653.8h0M1515.4 654.9h0" stroke="#65e028" stroke-width="3.6" stroke-linecap="round" fill="none"/>
<path d="M298.2 673.5h0M298.7 673.4h0M355.3 674.9h0M422.3 673.4h0M423.4 673.9h0M426.2 673.9h0M429.1 673.6h0M476.9 674.6h0M484.7 674.4h0M545.7 673.2h0M721.0 674.4h0M721.3 674.8h0M732.7 674.6h0M732.9 674.0h0M734.0 674.8h0M734.5 674.9h0M735.3 673.2h0M782.0 673.9h0M792.7 674.0h0M803.1 674.3h0M831.9 673.2h0M832.1 674.7h0M854.7 674.5h0M895.0 673.2h0M1009.5 673.8h0M1076.8 674.0h0M1077.8 673.1h0M1078.6 674.7h0M1097.6 674.1h0M1098.1 674.6h0M1118.6 673.8h0M1125.1 674.2h0M1125.9 674.0h0M1244.8 674.7h0M1311.0 673.2h0M1314.1 674.4h0M1315.4 673.9h0M1319.1 673.8h0M1368.9 673.1h0M1369.7 673.9h0M1370.0 673.4h0M1380.4 674.1h0M1386.3 673.3h0M1402.7 674.0h0M1403.0 673.7h0M1467.4 674.6h0M1506.6 673.4h0M1511.3 673.7h0" stroke="#a5ec28" stroke-width="3.6" stroke-linecap="round" fill="none"/>
<path d="M298.5 672.8h0M410.9 672.9h0M419.0 671.6h0M421.6 672.1h0M422.9 672.6h0M423.1 671.9h0M423.9 671.8h0M537.1 672.7h0M537.4 672.9h0M547.0 672.8h0M594.8 671.0h0M654.2 671.1h0M660.5 671.7h0M692.2 672.1h0M692.4 671.0h0M717.9 672.2h0M756.1 672.7h0M793.2 671.2h0M795.3 671.6h0M796.0 672.0h0M809.0 671.1h0M968.0 671.5h0M1044.1 671.5h0M1079.4 671.5h0M1079.6 671.1h0M1119.1 671.2h0M1146.9 672.2h0M1175.5 672.0h0M1253.6 671.2h0M1293.9 671.6h0M1295.4 671.1h0M1312.3 671.3h0M1317.0 671.6h0M1319.3 671.7h0M1367.9 671.9h0M1370.2 671.2h0M1378.3 672.3h0M1456.2 671.5h0M1513.9 671.4h0M1555.7 671.3h0M1556.2 671.2h0" stroke="#a0eb28" stroke-width="3.6" stroke-linecap="round" fill="none"/>
<path d="M299.0 666.8h0M363.9 666.0h0M422.1 666.6h0M427.3 666.8h0M427.5 665.4h0M428.6 665.5h0M428.8 666.9h0M474.0 665.3h0M477.1 666.0h0M544.9 665.6h0M581.0 666.9h0M609.3 665.6h0M718.7 666.1h0M719.7 666.7h0M731.6 666.8h0M747.2 666.5h0M761.8 666.7h0M762.5 666.2h0M781.5 665.4h0M880.2 667.0h0M892.7 665.5h0M915.0 665.5h0M932.6 666.5h0M933.9 666.9h0M937.8 665.8h0M938.4 666.7h0M968.2 665.3h0M989.3 666.7h0M990.0 665.9h0M1007.7 666.5h0M1009.3 665.3h0M1036.0 666.6h0M1110.0 665.1h0M1156.0 666.4h0M1156.5 666.5h0M1173.6 665.7h0M1309.2 665.6h0M1367.4 665.5h0M1371.5 666.0h0M1378.8 665.7h0M1398.0 665.5h0M1466.1 665.3h0M1466.3 665.8h0M1467.1 665.0h0M1506.8 665.6h0M1514.6 666.1h0M1516.2 665.7h0M1516.5 665.7h0M1558.3 666.2h0" stroke="#8be628" stroke-width="3.6" stroke-linecap="round" fill="none"/>
<path d="M299.2 648.0h0M299.5 647.6h0M365.7 648.6h0M420.5 648.6h0M420.8 647.2h0M579.2 647.4h0M580.0 647.9h0M639.7 648.5h0M729.0 648.4h0M807.7 647.7h0M881.5 648.5h0M936.8 648.6h0M1008.5 648.7h0M1008.7 648.4h0M1009.0 647.3h0M1035.2 647.6h0M1147.4 648.8h0M1181.2 647.3h0M1273.1 648.9h0M1294.1 647.7h0M1294.7 647.0h0M1294.9 648.0h0M1309.7 647.7h0M1557.7 649.0h0" stroke="#56de28" stroke-width="3.6" stroke-linecap="round" fill="none"/>
<path d="M299.8 664.3h0M419.5 663.8h0M428.0 663.0h0M430.1 664.3h0M474.8 663.8h0M476.6 663.1h0M546.0 664.1h0M578.2 663.7h0M640.2 664.3h0M718.9 663.7h0M747.5 663.3h0M762.0 664.0h0M781.0 663.8h0M795.0 663.2h0M808.5 664.0h0M879.9 663.8h0M914.7 664.1h0M966.7 663.5h0M1036.3 665.0h0M1044.8 663.5h0M1078.1 664.8h0M1078.9 664.7h0M1079.1 664.7h0M1079.9 663.6h0M1097.0 663.1h0M1098.9 664.6h0M1301.9 663.1h0M1310.8 663.2h0M1367.6 663.2h0M1397.8 664.1h0M1398.5 664.8h0M1398.8 663.6h0M1513.6 664.1h0M1515.9 663.4h0M1555.9 664.8h0" stroke="#84e528" stroke-width="3.6" stroke-linecap="round" fill="none"/>
<path d="M300.0 682.7h0M300.3 682.1h0M366.2 681.4h0M401.8 682.9h0M409.1 681.9h0M411.2 682.8h0M417.1 681.8h0M424.2 681.1h0M426.5 682.2h0M473.5 682.8h0M537.6 682.3h0M545.2 681.4h0M584.9 681.0h0M592.2 681.5h0M593.5 682.3h0M594.3 682.9h0M618.9 682.2h0M619.4 681.8h0M665.7 682.0h0M675.8 681.7h0M693.2 682.7h0M705.9 682.6h0M734.8 681.4h0M748.0 682.6h0M792.9 682.6h0M844.3 681.7h0M855.0 681.7h0M867.5 682.4h0M879.1 682.1h0M894.5 682.4h0M914.5 681.2h0M919.1 682.5h0M955.0 681.4h0M968.7 681.3h0M989.0 682.1h0M1007.2 682.4h0M1017.6 682.7h0M1018.3 681.2h0M1048.5 682.1h0M1074.7 681.2h0M1077.6 681.3h0M1099.1 681.3h0M1125.3 681.0h0M1176.2 681.5h0M1181.7 682.5h0M1243.8 682.1h0M1245.1 681.1h0M1300.1 681.7h0M1303.0 683.0h0M1336.0 682.2h0M1336.2 682.5h0M1370.8 681.4h0M1371.0 681.6h0M1397.5 681.2h0M1465.3 681.5h0M1484.2 681.8h0M1484.5 682.8h0M1546.3 682.1h0M1546.6 681.8h0M1554.4 681.7h0M1555.1 681.8h0" stroke="#bbef28" stroke-width="3.6" stroke-linecap="round" fill="none"/>
<path d="M300.5 693.7h0M323.1 693.5h0M346.5 694.1h0M353.3 695.0h0M353.8 694.0h0M355.6 694.7h0M356.4 693.8h0M392.5 694.3h0M402.3 694.6h0M402.9 694.9h0M408.1 694.2h0M408.8 693.7h0M416.4 694.3h0M430.9 694.1h0M442.3 693.0h0M472.2 694.4h0M481.3 693.9h0M497.4 693.2h0M509.3 694.9h0M536.9 693.3h0M547.5 693.6h0M568.8 694.7h0M569.8 693.9h0M570.1 693.7h0M582.8 693.6h0M585.4 694.5h0M592.7 694.4h0M618.4 693.0h0M627.8 693.9h0M717.4 694.7h0M774.2 694.3h0M778.4 694.4h0M791.4 693.9h0M797.1 694.6h0M803.3 694.8h0M803.6 693.8h0M803.8 694.6h0M830.8 695.0h0M832.4 693.1h0M853.7 693.7h0M863.0 693.4h0M865.1 694.3h0M868.0 694.2h0M886.2 693.0h0M886.7 693.5h0M895.2 694.8h0M913.2 693.7h0M942.0 694.2h0M943.6 694.2h0M954.2 693.2h0M969.3 694.2h0M1029.0 693.3h0M1037.6 694.0h0M1055.0 694.9h0M1056.0 694.5h0M1063.3 693.6h0M1064.1 694.6h0M1066.9 693.9h0M1073.7 693.2h0M1075.2 693.1h0M1084.1 694.1h0M1102.0 695.0h0M1121.7 694.3h0M1122.7 694.1h0M1155.7 694.3h0M1200.1 694.8h0M1213.6 694.3h0M1234.7 693.7h0M1245.8 693.5h0M1253.4 694.9h0M1293.1 695.0h0M1293.6 693.1h0M1296.7 694.1h0M1316.0 693.4h0M1317.3 694.3h0M1317.8 693.9h0M1320.6 693.7h0M1321.4 694.9h0M1331.8 694.6h0M1332.3 694.6h0M1397.0 694.6h0M1420.9 694.3h0M1432.6 694.4h0M1433.1 694.0h0M1444.5 694.3h0M1457.2 693.7h0M1458.3 694.9h0M1458.8 694.6h0M1467.6 693.5h0M1483.7 694.2h0M1485.3 693.9h0M1493.3 693.3h0M1539.8 693.9h0M1540.6 694.6h0" stroke="#d5f028" stroke-width="3.6" stroke-linecap="round" fill="none"/>
<path d="M310.1 684.9h0M336.9 684.4h0M355.1 684.6h0M366.8 683.2h0M400.5 684.0h0M442.6 683.4h0M472.5 684.2h0M481.8 683.3h0M482.1 683.2h0M494.5 683.5h0M509.1 683.9h0M545.4 683.3h0M567.5 683.6h0M653.7 683.1h0M693.5 683.5h0M733.5 683.8h0M802.3 683.8h0M804.1 684.7h0M868.2 684.5h0M932.4 684.4h0M933.4 684.8h0M939.1 683.6h0M939.4 683.3h0M990.3 684.1h0M1011.3 684.0h0M1017.3 684.6h0M1035.0 684.8h0M1036.5 684.2h0M1036.8 684.3h0M1048.2 684.2h0M1062.8 684.9h0M1067.2 684.7h0M1069.0 684.4h0M1101.2 684.0h0M1117.3 684.8h0M1173.1 683.6h0M1202.7 683.4h0M1252.1 683.6h0M1303.2 684.1h0M1316.2 683.1h0M1316.5 684.1h0M1316.7 683.4h0M1318.8 684.0h0M1319.6 684.0h0M1319.9 685.0h0M1332.8 683.6h0M1371.3 684.4h0M1386.6 684.6h0M1437.5 683.8h0M1465.6 683.7h0M1507.6 684.2h0M1508.1 683.1h0M1540.1 684.6h0M1545.5 684.4h0M1545.8 684.6h0M1558.5 683.2h0M1559.3 684.5h0" stroke="#c0f028" stroke-width="3.6" stroke-linecap="round" fill="none"/>
<path d="M317.4 712.8h0M317.7 713.0h0M323.7 712.9h0M333.0 711.6h0M334.3 711.7h0M393.0 712.9h0M394.8 711.3h0M399.2 712.2h0M412.5 711.2h0M414.5 711.5h0M436.4 712.4h0M446.2 711.4h0M457.4 712.2h0M463.1 712.5h0M583.9 711.3h0M616.9 712.0h0M625.2 711.2h0M627.5 712.5h0M633.7 712.3h0M641.5 712.0h0M642.0 711.9h0M661.3 711.2h0M665.9 712.2h0M677.4 712.2h0M702.6 712.1h0M716.8 711.9h0M726.4 711.9h0M739.4 712.4h0M739.7 711.4h0M743.3 711.7h0M752.9 713.0h0M764.4 712.4h0M771.9 711.6h0M772.4 711.3h0M776.8 711.7h0M777.9 712.0h0M799.7 712.7h0M810.6 712.1h0M830.3 712.9h0M842.0 712.0h0M877.1 712.7h0M909.0 711.9h0M916.0 712.5h0M930.6 712.5h0M939.9 712.6h0M940.2 711.8h0M942.5 712.6h0M943.0 711.8h0M956.5 712.3h0M971.1 711.3h0M990.8 711.3h0M995.5 711.5h0M1017.0 711.0h0M1028.0 712.0h0M1033.2 712.8h0M1033.7 712.5h0M1042.0 711.8h0M1042.2 713.0h0M1042.5 711.1h0M1057.0 713.0h0M1071.1 712.7h0M1085.1 712.2h0M1094.4 712.4h0M1108.7 711.0h0M1127.9 712.9h0M1141.7 712.5h0M1157.0 712.9h0M1157.5 712.7h0M1172.6 712.1h0M1193.6 712.7h0M1201.4 713.0h0M1246.1 711.6h0M1260.4 713.0h0M1284.8 711.6h0M1308.4 712.6h0M1313.6 711.9h0M1356.7 712.6h0M1385.0 712.2h0M1418.5 711.3h0M1419.1 711.5h0M1444.8 712.0h0M1494.6 712.4h0M1500.4 712.1h0M1522.9 711.7h0M1526.6 712.6h0M1537.5 711.1h0M1537.7 712.9h0" stroke="#f2d028" stroke-width="3.6" stroke-linecap="round" fill="none"/>
<path d="M324.2 701.2h0M332.5 701.4h0M335.3 702.7h0M336.4 701.9h0M337.2 701.0h0M357.2 702.3h0M362.6 702.1h0M407.8 702.6h0M415.3 702.0h0M443.4 701.4h0M470.1 702.1h0M485.2 702.3h0M496.4 701.3h0M606.5 702.3h0M653.2 702.6h0M701.3 702.0h0M705.1 702.6h0M721.5 701.8h0M754.2 702.9h0M774.0 702.7h0M789.0 702.7h0M789.6 701.5h0M831.1 702.1h0M855.3 702.0h0M886.4 702.4h0M896.3 702.6h0M917.3 701.2h0M919.7 701.3h0M931.9 702.1h0M947.7 702.2h0M948.0 701.8h0M969.5 701.2h0M1042.8 702.7h0M1047.7 701.0h0M1055.2 702.8h0M1055.5 702.0h0M1060.4 701.2h0M1065.9 701.3h0M1116.8 702.9h0M1126.9 701.6h0M1146.6 702.8h0M1149.5 702.4h0M1155.5 701.2h0M1201.2 701.9h0M1233.4 702.8h0M1235.2 701.6h0M1246.4 702.4h0M1250.8 701.8h0M1252.6 702.8h0M1272.6 701.6h0M1279.6 702.5h0M1280.1 701.2h0M1281.7 701.3h0M1284.3 701.5h0M1285.1 701.1h0M1285.3 702.4h0M1292.3 702.6h0M1303.8 701.1h0M1304.5 701.8h0M1372.1 701.9h0M1418.8 701.9h0M1419.8 702.0h0M1420.6 702.9h0M1437.0 702.8h0M1437.8 701.5h0M1445.0 702.4h0M1485.8 702.5h0M1486.1 702.1h0M1490.5 702.0h0M1492.8 701.6h0M1521.9 701.8h0M1522.2 701.7h0M1522.7 701.1h0M1523.5 701.1h0M1524.0 701.1h0M1525.8 701.4h0M1544.8 702.9h0M1554.1 701.4h0M1559.6 703.0h0" stroke="#e7e628" stroke-width="3.6" stroke-linecap="round" fill="none"/>
<path d="M324.7 699.9h0M324.9 700.6h0M327.5 701.0h0M332.0 700.2h0M332.2 699.2h0M355.9 699.8h0M393.5 700.4h0M393.8 700.2h0M415.8 699.7h0M430.6 699.5h0M431.2 700.3h0M442.1 700.7h0M470.6 700.3h0M486.2 699.1h0M558.4 699.2h0M567.2 699.3h0M568.0 700.1h0M570.4 699.5h0M583.4 700.7h0M610.4 699.6h0M644.9 700.5h0M645.2 700.4h0M654.0 700.0h0M656.3 699.5h0M659.7 699.5h0M701.0 700.7h0M727.2 700.2h0M756.8 701.0h0M763.1 700.3h0M772.9 700.6h0M773.2 700.4h0M773.5 699.4h0M782.8 699.0h0M791.9 700.0h0M797.3 700.5h0M798.4 699.9h0M830.6 700.3h0M844.9 699.0h0M845.4 699.1h0M855.8 699.1h0M863.8 700.8h0M864.3 700.6h0M886.9 699.3h0M895.5 699.1h0M896.0 699.7h0M908.5 700.2h0M912.4 699.7h0M916.8 700.6h0M919.4 699.4h0M940.7 700.2h0M946.7 699.1h0M947.2 700.3h0M970.8 700.2h0M1016.3 700.2h0M1016.5 699.4h0M1018.9 700.4h0M1048.0 699.7h0M1053.4 699.7h0M1054.7 700.9h0M1056.8 699.4h0M1069.8 700.7h0M1095.7 699.2h0M1122.5 699.4h0M1126.6 700.6h0M1149.8 700.1h0M1179.9 700.3h0M1182.2 699.6h0M1198.3 700.7h0M1199.6 699.3h0M1199.9 700.3h0M1210.3 699.4h0M1233.6 699.8h0M1234.2 699.2h0M1243.5 699.4h0M1251.8 699.5h0M1252.9 699.5h0M1259.9 700.0h0M1273.6 700.5h0M1280.9 700.0h0M1420.1 699.4h0M1420.4 700.7h0M1446.3 701.0h0M1446.6 699.0h0M1463.2 700.5h0M1489.7 700.2h0M1509.4 699.6h0M1524.2 699.8h0M1538.0 699.0h0M1545.0 699.7h0M1560.1 700.7h0" stroke="#e2e928" stroke-width="3.6" stroke-linecap="round" fill="none"/>
<path d="M325.2 679.5h0M325.7 680.6h0M362.9 680.7h0M363.1 680.9h0M363.4 680.9h0M394.0 680.0h0M422.6 679.1h0M423.6 679.2h0M429.6 681.0h0M472.7 679.7h0M473.8 680.9h0M517.9 679.1h0M577.6 679.0h0M592.4 679.2h0M594.5 679.0h0M608.8 680.6h0M637.6 681.0h0M691.6 680.4h0M692.9 679.9h0M731.9 679.8h0M734.2 680.0h0M743.8 679.8h0M756.3 680.7h0M796.8 680.0h0M802.5 679.6h0M805.4 679.5h0M844.1 680.4h0M854.2 680.3h0M866.2 680.4h0M913.4 679.1h0M933.7 679.9h0M941.5 680.7h0M988.2 680.2h0M1034.7 679.5h0M1045.4 679.3h0M1075.0 679.2h0M1099.9 680.8h0M1111.3 680.3h0M1119.9 680.6h0M1173.4 679.8h0M1244.3 680.0h0M1297.0 679.2h0M1311.5 680.8h0M1312.6 679.9h0M1335.7 679.0h0M1369.2 680.3h0M1455.7 679.2h0M1455.9 679.5h0M1465.0 680.2h0" stroke="#b6ee28" stroke-width="3.6" stroke-linecap="round" fill="none"/>
<path d="M349.4 692.4h0M354.3 691.0h0M411.4 692.6h0M415.1 691.4h0M418.7 691.0h0M496.6 692.0h0M496.9 692.0h0M569.6 692.7h0M577.1 692.3h0M583.1 692.4h0M607.8 692.3h0M608.0 691.4h0M641.0 691.3h0M647.5 692.5h0M655.3 692.4h0M676.1 691.2h0M703.6 692.2h0M704.1 692.2h0M717.6 691.6h0M756.6 692.6h0M790.9 691.7h0M801.2 692.3h0M844.6 691.5h0M865.4 691.1h0M975.5 692.4h0M987.7 691.1h0M1016.8 692.0h0M1050.6 692.7h0M1068.7 691.3h0M1083.8 692.0h0M1096.5 691.9h0M1099.4 691.7h0M1101.7 692.8h0M1117.8 692.0h0M1122.2 692.4h0M1123.3 691.0h0M1126.4 691.1h0M1127.4 692.5h0M1179.6 692.6h0M1192.1 692.9h0M1234.4 691.9h0M1281.9 693.0h0M1293.4 692.9h0M1299.6 691.4h0M1309.0 691.0h0M1313.9 691.3h0M1318.6 691.6h0M1378.0 691.5h0M1380.6 691.4h0M1437.2 691.5h0M1455.4 692.7h0M1464.8 691.7h0M1539.6 692.3h0M1546.1 692.8h0M1554.9 692.8h0" stroke="#d1f028" stroke-width="3.6" stroke-linecap="round" fill="none"/>
<path d="M364.4 645.8h0M578.4 647.0h0M579.5 646.3h0M728.3 645.5h0M728.8 646.5h0M807.2 646.9h0M807.5 646.5h0M1044.6 646.9h0M1110.8 646.7h0M1294.4 645.7h0M1310.0 646.8h0M1365.3 646.6h0M1401.9 646.8h0M1507.4 645.3h0" stroke="#52de28" stroke-width="3.6" stroke-linecap="round" fill="none"/>
<path d="M364.7 644.6h0M365.2 644.3h0M410.4 643.8h0M410.6 644.8h0M579.7 643.7h0M728.5 644.9h0M806.7 643.1h0M808.0 643.0h0M1147.9 644.1h0M1148.5 643.6h0M1310.3 643.1h0M1399.3 644.7h0M1399.6 643.6h0M1399.8 644.4h0M1400.1 643.9h0M1400.4 643.8h0" stroke="#4ede28" stroke-width="3.6" stroke-linecap="round" fill="none"/>
<path d="M364.9 642.5h0M409.6 641.5h0M731.4 642.1h0M780.2 642.3h0M793.4 641.4h0M893.2 641.0h0M893.4 641.0h0M934.7 642.0h0M1401.1 642.0h0M1402.2 642.6h0" stroke="#4ade28" stroke-width="3.6" stroke-linecap="round" fill="none"/>
<path d="M365.5 650.7h0M421.0 649.4h0M475.3 649.0h0M639.2 650.9h0M640.0 649.0h0M691.9 650.1h0M729.3 649.9h0M780.7 650.1h0M1173.9 650.8h0M1174.2 650.1h0M1295.2 650.8h0M1314.7 650.6h0M1366.3 650.6h0M1366.9 650.5h0M1386.1 649.1h0M1512.3 650.0h0M1512.6 649.9h0M1514.1 649.3h0M1517.5 650.9h0M1557.2 649.7h0M1557.5 650.6h0" stroke="#5ade28" stroke-width="3.6" stroke-linecap="round" fill="none"/>
<path d="M386.5 825.4h0M388.1 825.6h0M388.3 825.6h0M388.6 825.5h0M388.8 825.6h0M389.1 825.5h0M389.4 825.5h0" stroke="#f80303" stroke-width="3.6" stroke-linecap="round" fill="none"/>
<path d="M409.9 637.5h0M425.2 638.2h0M580.5 637.2h0M639.4 638.2h0M730.9 637.7h0M745.1 638.9h0M793.7 638.7h0M893.7 638.5h0M894.2 637.9h0" stroke="#45de28" stroke-width="3.6" stroke-linecap="round" fill="none"/>
<path d="M410.1 636.7h0M425.7 636.4h0M580.2 636.9h0M731.1 636.5h0M745.9 636.6h0M894.0 636.3h0M1080.4 635.5h0M1080.7 635.4h0M1081.5 635.7h0M1081.7 636.3h0M1082.5 636.5h0M1379.1 636.0h0M1401.7 636.5h0" stroke="#44de28" stroke-width="3.6" stroke-linecap="round" fill="none"/>
<path d="M421.3 667.5h0M429.9 667.7h0M471.2 668.1h0M473.0 667.8h0M484.1 668.0h0M517.6 668.5h0M546.7 668.9h0M609.1 667.4h0M609.6 667.8h0M638.1 667.3h0M719.4 668.3h0M720.2 667.1h0M744.1 668.4h0M744.4 667.9h0M796.3 667.4h0M831.6 667.4h0M865.6 667.5h0M880.4 667.8h0M894.7 668.2h0M913.9 667.5h0M933.2 668.9h0M934.2 667.6h0M967.2 667.5h0M967.4 667.9h0M1007.4 667.5h0M1009.8 667.1h0M1035.7 668.9h0M1037.0 668.6h0M1096.8 669.0h0M1124.8 668.9h0M1180.4 667.4h0M1180.9 668.6h0M1300.9 668.5h0M1302.7 667.1h0M1333.9 667.1h0M1334.1 667.3h0M1365.0 668.5h0M1368.7 667.9h0M1379.3 668.7h0M1456.7 668.0h0M1484.8 667.8h0M1556.7 668.4h0M1557.0 667.4h0" stroke="#92e828" stroke-width="3.6" stroke-linecap="round" fill="none"/>
<path d="M424.7 670.8h0M426.8 669.7h0M427.0 669.4h0M428.3 670.6h0M430.4 670.8h0M546.2 670.0h0M619.7 670.5h0M718.1 670.0h0M735.5 669.7h0M781.2 669.2h0M795.5 669.1h0M795.8 670.4h0M808.8 670.6h0M915.2 670.2h0M938.1 669.1h0M967.7 669.4h0M1010.8 669.1h0M1098.3 670.3h0M1100.4 670.8h0M1118.9 670.0h0M1123.8 670.4h0M1301.7 669.0h0M1311.8 670.9h0M1312.1 670.2h0M1320.9 670.1h0M1321.2 670.1h0M1368.4 669.6h0M1556.4 669.7h0M1558.0 670.6h0" stroke="#99ea28" stroke-width="3.6" stroke-linecap="round" fill="none"/>
<path d="M425.5 639.6h0M580.8 639.3h0M744.9 639.8h0M745.7 639.6h0M989.8 640.9h0M1076.3 640.3h0M1082.8 640.1h0M1148.2 640.5h0M1400.6 639.4h0M1400.9 640.4h0M1401.4 640.4h0" stroke="#46de28" stroke-width="3.6" stroke-linecap="round" fill="none"/>
<path d="M483.6 656.2h0M692.7 655.7h0M720.5 656.2h0M779.9 655.4h0M780.5 656.7h0M794.0 656.1h0M805.9 655.6h0M806.2 655.5h0M806.4 655.4h0M936.0 655.6h0M937.6 655.8h0M938.6 655.2h0M989.5 656.8h0M1010.0 655.6h0M1083.0 656.1h0M1083.3 655.7h0M1119.4 656.6h0M1119.6 656.7h0M1174.9 655.1h0M1212.1 655.7h0M1310.5 655.2h0M1333.6 655.4h0M1366.1 655.6h0M1385.8 656.6h0M1445.6 655.8h0M1513.1 655.9h0M1514.4 656.4h0" stroke="#6be028" stroke-width="3.6" stroke-linecap="round" fill="none"/>
<path d="M729.8 632.7h0" stroke="#42de28" stroke-width="3.6" stroke-linecap="round" fill="none"/>
<path d="M730.1 633.8h0M730.3 633.2h0M730.6 634.4h0M881.2 634.1h0M1080.9 634.7h0M1081.2 634.5h0" stroke="#43de28" stroke-width="3.6" stroke-linecap="round" fill="none"/>
<path d="M745.4 627.8h0" stroke="#40de28" stroke-width="3.6" stroke-linecap="round" fill="none"/>
<path d="M1082.0 624.0h0M1082.2 624.0h0M1110.3 624.0h0M1110.5 624.0h0" stroke="#3ede28" stroke-width="3.6" stroke-linecap="round" fill="none"/>
<path d="M1365.6 630.2h0M1365.8 630.4h0" stroke="#41de28" stroke-width="3.6" stroke-linecap="round" fill="none"/>
<text x="161" y="35.4" font-size="23.2" fill="#fff" text-anchor="end" textLength="122.1" lengthAdjust="spacingAndGlyphs">200,000.00</text>
<text x="161" y="87.2" font-size="23.2" fill="#fff" text-anchor="end" textLength="122.1" lengthAdjust="spacingAndGlyphs">100,000.00</text>
<text x="161" y="139.0" font-size="23.2" fill="#fff" text-anchor="end" textLength="108.8" lengthAdjust="spacingAndGlyphs">50,000.00</text>
<text x="161" y="207.4" font-size="23.2" fill="#fff" text-anchor="end" textLength="108.8" lengthAdjust="spacingAndGlyphs">20,000.00</text>
<text x="161" y="259.2" font-size="23.2" fill="#fff" text-anchor="end" textLength="108.8" lengthAdjust="spacingAndGlyphs">10,000.00</text>
<text x="161" y="311.0" font-size="23.2" fill="#fff" text-anchor="end" textLength="95.4" lengthAdjust="spacingAndGlyphs">5,000.00</text>
<text x="161" y="379.4" font-size="23.2" fill="#fff" text-anchor="end" textLength="95.4" lengthAdjust="spacingAndGlyphs">2,000.00</text>
<text x="161" y="431.2" font-size="23.2" fill="#fff" text-anchor="end" textLength="95.4" lengthAdjust="spacingAndGlyphs">1,000.00</text>
<text x="161" y="483.0" font-size="23.2" fill="#fff" text-anchor="end" textLength="74.4" lengthAdjust="spacingAndGlyphs">500.00</text>
<text x="161" y="551.4" font-size="23.2" fill="#fff" text-anchor="end" textLength="74.4" lengthAdjust="spacingAndGlyphs">200.00</text>
<text x="161" y="603.2" font-size="23.2" fill="#fff" text-anchor="end" textLength="74.4" lengthAdjust="spacingAndGlyphs">100.00</text>
<text x="161" y="655.0" font-size="23.2" fill="#fff" text-anchor="end" textLength="61.1" lengthAdjust="spacingAndGlyphs">50.00</text>
<text x="161" y="723.4" font-size="23.2" fill="#fff" text-anchor="end" textLength="61.1" lengthAdjust="spacingAndGlyphs">20.00</text>
<text x="161" y="775.2" font-size="23.2" fill="#fff" text-anchor="end" textLength="61.1" lengthAdjust="spacingAndGlyphs">10.00</text>
<text x="161" y="827.0" font-size="23.2" fill="#fff" text-anchor="end" textLength="47.7" lengthAdjust="spacingAndGlyphs">5.00</text>
<text x="246.0" y="902" font-size="21.2" fill="#f0f0f0" text-anchor="middle" textLength="49.6" lengthAdjust="spacingAndGlyphs">2012</text>
<text x="340.9" y="902" font-size="21.2" fill="#f0f0f0" text-anchor="middle" textLength="49.6" lengthAdjust="spacingAndGlyphs">2013</text>
<text x="436.0" y="902" font-size="21.2" fill="#f0f0f0" text-anchor="middle" textLength="49.6" lengthAdjust="spacingAndGlyphs">2014</text>
<text x="530.8" y="902" font-size="21.2" fill="#f0f0f0" text-anchor="middle" textLength="49.6" lengthAdjust="spacingAndGlyphs">2015</text>
<text x="625.5" y="902" font-size="21.2" fill="#f0f0f0" text-anchor="middle" textLength="49.6" lengthAdjust="spacingAndGlyphs">2016</text>
<text x="720.5" y="902" font-size="21.2" fill="#f0f0f0" text-anchor="middle" textLength="49.6" lengthAdjust="spacingAndGlyphs">2017</text>
<text x="815.1" y="902" font-size="21.2" fill="#f0f0f0" text-anchor="middle" textLength="49.6" lengthAdjust="spacingAndGlyphs">2018</text>
<text x="910.0" y="902" font-size="21.2" fill="#f0f0f0" text-anchor="middle" textLength="49.6" lengthAdjust="spacingAndGlyphs">2019</text>
<text x="1004.7" y="902" font-size="21.2" fill="#f0f0f0" text-anchor="middle" textLength="49.6" lengthAdjust="spacingAndGlyphs">2020</text>
<text x="1100.0" y="902" font-size="21.2" fill="#f0f0f0" text-anchor="middle" textLength="49.6" lengthAdjust="spacingAndGlyphs">2021</text>
<text x="1194.7" y="902" font-size="21.2" fill="#f0f0f0" text-anchor="middle" textLength="49.6" lengthAdjust="spacingAndGlyphs">2022</text>
<text x="1289.7" y="902" font-size="21.2" fill="#f0f0f0" text-anchor="middle" textLength="49.6" lengthAdjust="spacingAndGlyphs">2023</text>
<text x="1384.0" y="902" font-size="21.2" fill="#f0f0f0" text-anchor="middle" textLength="49.6" lengthAdjust="spacingAndGlyphs">2024</text>
<text x="1479.0" y="902" font-size="21.2" fill="#f0f0f0" text-anchor="middle" textLength="49.6" lengthAdjust="spacingAndGlyphs">2025</text>
<text transform="translate(58.2 445.8) rotate(-90)" font-size="21.5" fill="#fff" text-anchor="middle" textLength="124" lengthAdjust="spacingAndGlyphs">Price (USD)</text>
<defs><linearGradient id="rg" x1="0" y1="34" x2="0" y2="861" gradientUnits="userSpaceOnUse"><stop offset="0" stop-color="#4fb447"/><stop offset="0.12" stop-color="#63b23c"/><stop offset="0.28" stop-color="#92b838"/><stop offset="0.40" stop-color="#b3b03a"/><stop offset="0.48" stop-color="#bd8a45"/><stop offset="0.56" stop-color="#aa5038"/><stop offset="1" stop-color="#a03a32"/></linearGradient></defs>
<rect x="1685" y="34.5" width="3" height="826" fill="url(#rg)"/>
<text x="1692.6" y="79.2" font-size="23.2" fill="#dcdcdc" textLength="25.3" lengthAdjust="spacingAndGlyphs">90</text>
<text x="1692.6" y="175.8" font-size="23.2" fill="#dcdcdc" textLength="25.3" lengthAdjust="spacingAndGlyphs">80</text>
<text x="1692.6" y="272.4" font-size="23.2" fill="#dcdcdc" textLength="25.3" lengthAdjust="spacingAndGlyphs">70</text>
<text x="1692.6" y="369.0" font-size="23.2" fill="#dcdcdc" textLength="25.3" lengthAdjust="spacingAndGlyphs">60</text>
<text x="1692.6" y="465.6" font-size="23.2" fill="#dcdcdc" textLength="25.3" lengthAdjust="spacingAndGlyphs">50</text>
<text x="1692.6" y="562.2" font-size="23.2" fill="#dcdcdc" textLength="25.3" lengthAdjust="spacingAndGlyphs">40</text>
<text x="1692.6" y="658.8" font-size="23.2" fill="#dcdcdc" textLength="25.3" lengthAdjust="spacingAndGlyphs">30</text>
<text x="1692.6" y="755.4" font-size="23.2" fill="#dcdcdc" textLength="25.3" lengthAdjust="spacingAndGlyphs">20</text>
<text x="1692.6" y="852.0" font-size="23.2" fill="#dcdcdc" textLength="25.3" lengthAdjust="spacingAndGlyphs">10</text>
<text transform="translate(1742.3 447.4) rotate(-90)" font-size="22.5" fill="#d0d0d0" text-anchor="middle" textLength="38" lengthAdjust="spacingAndGlyphs">RSI</text>
<rect x="242.5" y="183.5" width="117" height="75" fill="#000" stroke="#555" stroke-width="1"/>
<path d="M250.5 206.5H295.5" stroke="#f2a912" stroke-width="3"/>
<circle cx="273" cy="236.1" r="1.8" fill="#dcf55a"/>
<text x="303.5" y="213.6" font-size="21" fill="#fff" textLength="47" lengthAdjust="spacingAndGlyphs">Price</text>
<text x="303.5" y="243.6" font-size="21" fill="#fff" textLength="36" lengthAdjust="spacingAndGlyphs">RSI</text>
<g fill="none" stroke="#eaa83a" stroke-width="1.8" stroke-linecap="round" stroke-linejoin="round"><path d="M845.1 47.4V30.5Q845.3 25.2 853.7 24"/><path d="M849 50V31Q849 27.6 852.5 27.2L857.5 26.8Q860.5 26.8 860.4 30.5L860 34.3Q859.6 36.9 857.6 37.5Q860.8 38.2 860.7 41.5L860.4 44Q859.8 47.3 856.5 48Z"/><path d="M849.3 38.3L857.6 37.5"/><path d="M852.4 34.4Q854.8 33.8 855.9 31.9" stroke-width="1.3"/><path d="M852.4 44.6Q855 43.9 856.3 41.8" stroke-width="1.3"/></g>
<g fill="#f0f0f0" fill-rule="evenodd"><path d="M873 28.5H883.8Q887.8 28.5 887.8 32.5V33.8Q887.8 36.2 886 37.3Q888.3 38.4 888.3 41V42.4Q888.3 46.5 884.3 46.5H873Z M877 32.3H883.3Q883.9 32.3 883.9 32.9V35.3Q883.9 35.9 883.3 35.9H877Z M877 39.2H883.7Q884.3 39.2 884.3 39.8V42.5Q884.3 43.1 883.7 43.1H877Z"/><rect x="893.5" y="28.5" width="3.6" height="3"/><rect x="893.5" y="32.8" width="3.6" height="13.7"/><path d="M900.3 28.2H916V31.4H910.6V46.5H906.3V31.4H900.3Z"/><path d="M919.3 28.5H931.2Q935.2 28.5 935.2 32.5V33.8Q935.2 36.2 933.4 37.3Q935.8 38.4 935.8 41V42.4Q935.8 46.5 931.8 46.5H919.3Z M923.4 32.3H930.7Q931.3 32.3 931.3 32.9V35.3Q931.3 35.9 930.7 35.9H923.4Z M923.4 39.2H931.1Q931.7 39.2 931.7 39.8V42.5Q931.7 43.1 931.1 43.1H923.4Z"/><path d="M944.5 28.3H954.3Q959 28.3 959 33V41.8Q959 46.7 954.3 46.7H944.5Q939.9 46.7 939.9 41.8V33Q939.9 28.3 944.5 28.3Z M946 32.2H953Q955 32.2 955 34.2V40.6Q955 42.6 953 42.6H946Q944.1 42.6 944.1 40.6V34.2Q944.1 32.2 946 32.2Z"/></g>
<g fill="#fff" opacity="0.78"><path fill-rule="evenodd" d="M1558.5 22.7A9.8 9.8 0 1 1 1538.9 22.7A9.8 9.8 0 1 1 1558.5 22.7Z M1543.4 17.3V28H1554.1V17.3Z M1545.3 19.2H1552.2V26.1H1545.3Z"/><path d="M1553.5 29.5L1556.5 26.5L1563 33L1560 36Z"/></g>
<g fill="#fff" opacity="0.4"><path d="M1585.6 17.5H1588.2V32H1585.6Z M1579.5 23.6H1594.7V26.3H1579.5Z"/><path d="M1586.9 13L1591.3 17.8H1582.5Z M1586.9 36.6L1590.8 32.1H1583Z M1575.5 25L1580 20.5V29.3Z M1598.8 25L1594.6 20.5V29.3Z"/></g>
<g fill="#fff" opacity="0.36"><path fill-rule="evenodd" d="M1624.4 14.4H1645.4V35.6H1624.4Z M1629.2 23.4V26.4H1633.4V31H1636.4V26.4H1640.8V23.4H1636.4V19.2H1633.4V23.4Z"/><path fill-rule="evenodd" d="M1660.3 14.4H1681.5V35.6H1660.3Z M1665 23.4V26.6H1677V23.4Z"/></g>
<g opacity="0.4"><path d="M1696 18.8V13.9H1700.9 M1713 13.9H1718 V18.8 M1718 31V36H1713 M1700.9 36H1696V31" fill="none" stroke="#fff" stroke-width="1.6"/><path d="M1700.5 19L1713.5 31.5 M1713.5 19L1700.5 31.5" fill="none" stroke="#fff" stroke-width="2.2"/><path d="M1699 17.2H1705L1699 23Z M1715.3 17.2H1709.3L1715.3 23Z M1699 32.7H1705L1699 27Z M1715.3 32.7H1709.3L1715.3 27Z" fill="#fff"/></g>
<g fill="#fff" opacity="0.37"><path d="M1743 17.2L1754 25.3L1752.5 27.3L1743 20.3L1733.5 27.3L1732 25.3Z"/><path d="M1735.6 27L1743 21.6L1750.6 27V33.8H1745.1V28H1741V33.8H1735.6Z"/><path d="M1748.3 15.8H1751.3V21.9L1748.3 19.7Z"/></g>
<rect x="1668" y="62.2" width="52" height="34" fill="#000" fill-opacity="0.78"/>
<path d="M1563.7 78.6L1571.8 70.5V64.5H1667.6V94.7H1571.8V86.7Z" fill="#f2aa06" stroke="#444" stroke-width="1"/>
<text x="1577" y="86.5" font-size="19.5" fill="#444">99,653.49</text>
<text x="1673" y="86.5" font-size="19.5" fill="#f2aa06">Price</text>
<rect x="1630.5" y="745.6" width="40" height="35" fill="#000" fill-opacity="0.78"/>
<path d="M1562.3 762.9L1571.5 753.7V747.6H1630.2V778.8H1571.5V772.1Z" fill="#f70000" stroke="#fff" stroke-width="1.5"/>
<text x="1576.3" y="769.8" font-size="19.5" fill="#fff">39.29</text>
<text x="1635.2" y="769.8" font-size="19.5" fill="#e61c1c">RSI</text>
<path d="M1561.4 874.8L1570.7 883.8H1615.4V915.1H1507.5V883.8H1552.1Z" fill="#444" stroke="#dedede" stroke-width="1.5"/>
<text x="1561.6" y="907" font-size="20.5" fill="#fff" text-anchor="middle" textLength="100.8" lengthAdjust="spacingAndGlyphs">2025-11-14</text>
</svg></body></html>
